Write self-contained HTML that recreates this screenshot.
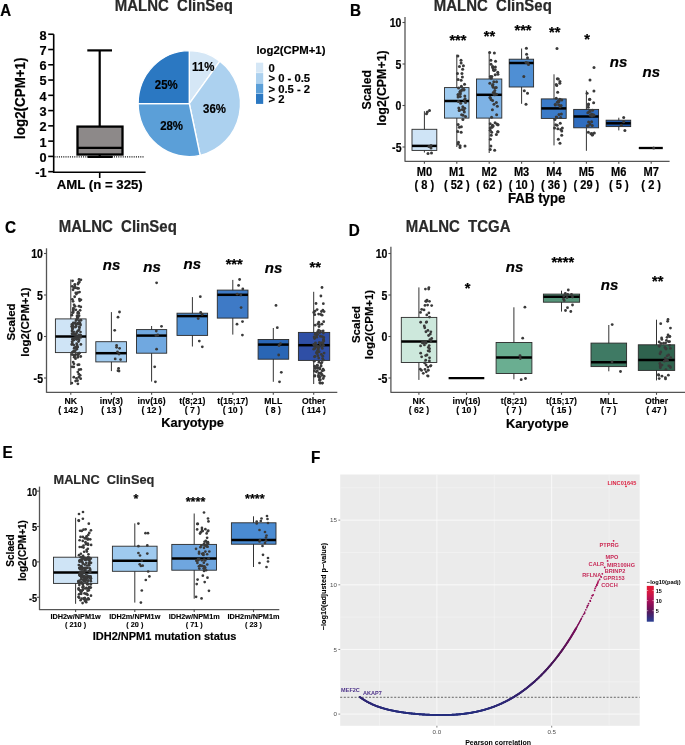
<!DOCTYPE html>
<html><head><meta charset="utf-8"><style>
html,body{margin:0;padding:0;background:#fff;}
svg{display:block;will-change:transform;}
text{font-family:"Liberation Sans", sans-serif;stroke-width:0;}
</style></head><body>
<svg width="685" height="745" viewBox="0 0 685 745">
<rect width="685" height="745" fill="#fff"/>
<text xml:space="preserve" transform="translate(0.20,16.40) scale(0.92,1)" x="0" y="0" font-size="16.3" text-anchor="start" font-weight="bold" font-style="normal" fill="#000" stroke="#000" style="stroke-width:0.244px" >A</text>
<text xml:space="preserve" transform="translate(114.80,10.90) scale(0.93,1)" x="0" y="0" font-size="16.1" text-anchor="start" font-weight="bold" font-style="normal" fill="#2a2a2a" stroke="#2a2a2a" style="stroke-width:0.242px" >MALNC  ClinSeq</text>
<line x1="53.70" y1="34.24" x2="53.70" y2="172.20" stroke="#000" stroke-width="1.6" />
<line x1="48.20" y1="171.67" x2="53.70" y2="171.67" stroke="#000" stroke-width="1.6" />
<text xml:space="preserve" transform="translate(46.50,177.07) scale(0.98,1)" x="0" y="0" font-size="13" text-anchor="end" font-weight="bold" font-style="normal" fill="#000" stroke="#000" style="stroke-width:0.195px" >-1</text>
<line x1="48.20" y1="156.40" x2="53.70" y2="156.40" stroke="#000" stroke-width="1.6" />
<text xml:space="preserve" transform="translate(46.50,161.80) scale(0.98,1)" x="0" y="0" font-size="13" text-anchor="end" font-weight="bold" font-style="normal" fill="#000" stroke="#000" style="stroke-width:0.195px" >0</text>
<line x1="48.20" y1="141.13" x2="53.70" y2="141.13" stroke="#000" stroke-width="1.6" />
<text xml:space="preserve" transform="translate(46.50,146.53) scale(0.98,1)" x="0" y="0" font-size="13" text-anchor="end" font-weight="bold" font-style="normal" fill="#000" stroke="#000" style="stroke-width:0.195px" >1</text>
<line x1="48.20" y1="125.86" x2="53.70" y2="125.86" stroke="#000" stroke-width="1.6" />
<text xml:space="preserve" transform="translate(46.50,131.26) scale(0.98,1)" x="0" y="0" font-size="13" text-anchor="end" font-weight="bold" font-style="normal" fill="#000" stroke="#000" style="stroke-width:0.195px" >2</text>
<line x1="48.20" y1="110.59" x2="53.70" y2="110.59" stroke="#000" stroke-width="1.6" />
<text xml:space="preserve" transform="translate(46.50,115.99) scale(0.98,1)" x="0" y="0" font-size="13" text-anchor="end" font-weight="bold" font-style="normal" fill="#000" stroke="#000" style="stroke-width:0.195px" >3</text>
<line x1="48.20" y1="95.32" x2="53.70" y2="95.32" stroke="#000" stroke-width="1.6" />
<text xml:space="preserve" transform="translate(46.50,100.72) scale(0.98,1)" x="0" y="0" font-size="13" text-anchor="end" font-weight="bold" font-style="normal" fill="#000" stroke="#000" style="stroke-width:0.195px" >4</text>
<line x1="48.20" y1="80.05" x2="53.70" y2="80.05" stroke="#000" stroke-width="1.6" />
<text xml:space="preserve" transform="translate(46.50,85.45) scale(0.98,1)" x="0" y="0" font-size="13" text-anchor="end" font-weight="bold" font-style="normal" fill="#000" stroke="#000" style="stroke-width:0.195px" >5</text>
<line x1="48.20" y1="64.78" x2="53.70" y2="64.78" stroke="#000" stroke-width="1.6" />
<text xml:space="preserve" transform="translate(46.50,70.18) scale(0.98,1)" x="0" y="0" font-size="13" text-anchor="end" font-weight="bold" font-style="normal" fill="#000" stroke="#000" style="stroke-width:0.195px" >6</text>
<line x1="48.20" y1="49.51" x2="53.70" y2="49.51" stroke="#000" stroke-width="1.6" />
<text xml:space="preserve" transform="translate(46.50,54.91) scale(0.98,1)" x="0" y="0" font-size="13" text-anchor="end" font-weight="bold" font-style="normal" fill="#000" stroke="#000" style="stroke-width:0.195px" >7</text>
<line x1="48.20" y1="34.24" x2="53.70" y2="34.24" stroke="#000" stroke-width="1.6" />
<text xml:space="preserve" transform="translate(46.50,39.64) scale(0.98,1)" x="0" y="0" font-size="13" text-anchor="end" font-weight="bold" font-style="normal" fill="#000" stroke="#000" style="stroke-width:0.195px" >8</text>
<text xml:space="preserve" x="0" y="0" transform="translate(25.10,98.20) rotate(-90) scale(0.93,1)" font-size="14.4" text-anchor="middle" font-weight="bold" fill="#000" stroke="#000" style="stroke-width:0.216px">log2(CPM+1)</text>
<line x1="52.90" y1="172.20" x2="145.60" y2="172.20" stroke="#000" stroke-width="1.6" />
<line x1="99.70" y1="172.20" x2="99.70" y2="178.00" stroke="#000" stroke-width="1.6" />
<text xml:space="preserve" transform="translate(99.70,188.90) scale(0.98,1)" x="0" y="0" font-size="13.5" text-anchor="middle" font-weight="bold" font-style="normal" fill="#000" stroke="#000" style="stroke-width:0.202px" >AML (n = 325)</text>
<line x1="54.50" y1="156.90" x2="144.30" y2="156.90" stroke="#000" stroke-width="1.2" stroke-dasharray="1.0,1.2"/>
<line x1="99.70" y1="50.40" x2="99.70" y2="126.60" stroke="#000" stroke-width="2.2" />
<line x1="87.30" y1="50.40" x2="112.00" y2="50.40" stroke="#000" stroke-width="2.2" />
<line x1="99.70" y1="154.50" x2="99.70" y2="156.90" stroke="#000" stroke-width="2.2" />
<line x1="88.40" y1="156.90" x2="111.80" y2="156.90" stroke="#000" stroke-width="2.2" stroke-linecap="round"/>
<rect x="77.50" y="126.60" width="45.00" height="27.90" fill="#8d8989" stroke="#000" stroke-width="2.3"/>
<line x1="77.50" y1="147.80" x2="122.50" y2="147.80" stroke="#000" stroke-width="2.3" />
<path d="M189.3,103.6 L189.30,50.60 A51.2,53.0 0 0 1 219.91,61.12 Z" fill="#d5e7f6" stroke="#fff" stroke-width="1.4"/>
<path d="M189.3,103.6 L219.91,61.12 A51.2,53.0 0 0 1 200.15,155.40 Z" fill="#acd1ef" stroke="#fff" stroke-width="1.4"/>
<path d="M189.3,103.6 L200.15,155.40 A51.2,53.0 0 0 1 138.10,103.60 Z" fill="#5b9fd8" stroke="#fff" stroke-width="1.4"/>
<path d="M189.3,103.6 L138.10,103.60 A51.2,53.0 0 0 1 189.30,50.60 Z" fill="#2b78c2" stroke="#fff" stroke-width="1.4"/>
<text xml:space="preserve" transform="translate(203.20,71.00) scale(0.895,1)" x="0" y="0" font-size="12.8" text-anchor="middle" font-weight="bold" font-style="normal" fill="#000" stroke="#000" style="stroke-width:0.192px" >11%</text>
<text xml:space="preserve" transform="translate(214.50,113.00) scale(0.895,1)" x="0" y="0" font-size="12.8" text-anchor="middle" font-weight="bold" font-style="normal" fill="#000" stroke="#000" style="stroke-width:0.192px" >36%</text>
<text xml:space="preserve" transform="translate(171.60,129.90) scale(0.895,1)" x="0" y="0" font-size="12.8" text-anchor="middle" font-weight="bold" font-style="normal" fill="#000" stroke="#000" style="stroke-width:0.192px" >28%</text>
<text xml:space="preserve" transform="translate(166.30,89.40) scale(0.895,1)" x="0" y="0" font-size="12.8" text-anchor="middle" font-weight="bold" font-style="normal" fill="#000" stroke="#000" style="stroke-width:0.192px" >25%</text>
<text xml:space="preserve" transform="translate(256.40,54.00) scale(1.015,1)" x="0" y="0" font-size="11.2" text-anchor="start" font-weight="bold" font-style="normal" fill="#000" stroke="#000" style="stroke-width:0.168px" >log2(CPM+1)</text>
<rect x="256.00" y="62.70" width="7.20" height="10.00" fill="#d5e7f6" stroke="none" stroke-width="1"/>
<text xml:space="preserve" transform="translate(268.40,72.00) scale(0.97,1)" x="0" y="0" font-size="11.66" text-anchor="start" font-weight="bold" font-style="normal" fill="#000" stroke="#000" style="stroke-width:0.175px" >0</text>
<rect x="256.00" y="73.10" width="7.20" height="10.00" fill="#acd1ef" stroke="none" stroke-width="1"/>
<text xml:space="preserve" transform="translate(268.40,82.40) scale(0.97,1)" x="0" y="0" font-size="11.66" text-anchor="start" font-weight="bold" font-style="normal" fill="#000" stroke="#000" style="stroke-width:0.175px" >&gt; 0 - 0.5</text>
<rect x="256.00" y="83.50" width="7.20" height="10.00" fill="#5b9fd8" stroke="none" stroke-width="1"/>
<text xml:space="preserve" transform="translate(268.40,92.80) scale(0.97,1)" x="0" y="0" font-size="11.66" text-anchor="start" font-weight="bold" font-style="normal" fill="#000" stroke="#000" style="stroke-width:0.175px" >&gt; 0.5 - 2</text>
<rect x="256.00" y="93.90" width="7.20" height="10.00" fill="#2b78c2" stroke="none" stroke-width="1"/>
<text xml:space="preserve" transform="translate(268.40,103.20) scale(0.97,1)" x="0" y="0" font-size="11.66" text-anchor="start" font-weight="bold" font-style="normal" fill="#000" stroke="#000" style="stroke-width:0.175px" >&gt; 2</text>
<text xml:space="preserve" transform="translate(349.90,16.30) scale(0.92,1)" x="0" y="0" font-size="16.6" text-anchor="start" font-weight="bold" font-style="normal" fill="#000" stroke="#000" style="stroke-width:0.249px" >B</text>
<text xml:space="preserve" transform="translate(433.80,11.20) scale(0.93,1)" x="0" y="0" font-size="16.1" text-anchor="start" font-weight="bold" font-style="normal" fill="#2a2a2a" stroke="#2a2a2a" style="stroke-width:0.242px" >MALNC  ClinSeq</text>
<text xml:space="preserve" x="0" y="0" transform="translate(371.30,89.80) rotate(-90) scale(1.0,1)" font-size="12.2" text-anchor="middle" font-weight="bold" fill="#000" stroke="#000" style="stroke-width:0.183px">Scaled</text>
<text xml:space="preserve" x="0" y="0" transform="translate(386.00,88.00) rotate(-90) scale(1.0,1)" font-size="12.4" text-anchor="middle" font-weight="bold" fill="#000" stroke="#000" style="stroke-width:0.186px">log2(CPM+1)</text>
<line x1="405.00" y1="16.90" x2="405.00" y2="161.80" stroke="#555" stroke-width="1.3" />
<line x1="405.00" y1="161.30" x2="669.60" y2="161.30" stroke="#555" stroke-width="1.3" />
<line x1="402.50" y1="22.50" x2="405.00" y2="22.50" stroke="#4d4d4d" stroke-width="1.1" />
<text xml:space="preserve" transform="translate(401.50,27.02) scale(0.88,1)" x="0" y="0" font-size="12.0" text-anchor="end" font-weight="bold" font-style="normal" fill="#000" stroke="#000" style="stroke-width:0.180px" >10</text>
<line x1="402.50" y1="64.00" x2="405.00" y2="64.00" stroke="#4d4d4d" stroke-width="1.1" />
<text xml:space="preserve" transform="translate(401.50,68.52) scale(0.88,1)" x="0" y="0" font-size="12.0" text-anchor="end" font-weight="bold" font-style="normal" fill="#000" stroke="#000" style="stroke-width:0.180px" >5</text>
<line x1="402.50" y1="105.50" x2="405.00" y2="105.50" stroke="#4d4d4d" stroke-width="1.1" />
<text xml:space="preserve" transform="translate(401.50,110.02) scale(0.88,1)" x="0" y="0" font-size="12.0" text-anchor="end" font-weight="bold" font-style="normal" fill="#000" stroke="#000" style="stroke-width:0.180px" >0</text>
<line x1="402.50" y1="147.00" x2="405.00" y2="147.00" stroke="#4d4d4d" stroke-width="1.1" />
<text xml:space="preserve" transform="translate(401.50,151.52) scale(0.88,1)" x="0" y="0" font-size="12.0" text-anchor="end" font-weight="bold" font-style="normal" fill="#000" stroke="#000" style="stroke-width:0.180px" >-5</text>
<line x1="424.40" y1="161.30" x2="424.40" y2="163.80" stroke="#4d4d4d" stroke-width="1.1" />
<line x1="424.40" y1="111.20" x2="424.40" y2="152.50" stroke="#333" stroke-width="1" />
<rect x="412.00" y="129.30" width="24.80" height="21.10" fill="#cfe4f6" stroke="#2a2a2a" stroke-width="0.9"/>
<line x1="412.00" y1="145.90" x2="436.80" y2="145.90" stroke="#000" stroke-width="2.5" />
<circle cx="427.30" cy="112.10" r="1.5" fill="#3a3a3a"/>
<circle cx="429.50" cy="110.50" r="1.5" fill="#3a3a3a"/>
<circle cx="426.50" cy="113.80" r="1.5" fill="#3a3a3a"/>
<circle cx="431.00" cy="145.50" r="1.5" fill="#3a3a3a"/>
<circle cx="431.00" cy="148.00" r="1.5" fill="#3a3a3a"/>
<circle cx="429.00" cy="146.50" r="1.5" fill="#3a3a3a"/>
<circle cx="428.00" cy="153.50" r="1.5" fill="#3a3a3a"/>
<circle cx="431.50" cy="153.00" r="1.5" fill="#3a3a3a"/>
<text xml:space="preserve" transform="translate(424.40,175.70) scale(0.93,1)" x="0" y="0" font-size="11.9" text-anchor="middle" font-weight="bold" font-style="normal" fill="#000" stroke="#000" style="stroke-width:0.178px" >M0</text>
<text xml:space="preserve" transform="translate(424.40,188.60) scale(0.93,1)" x="0" y="0" font-size="11.9" text-anchor="middle" font-weight="bold" font-style="normal" fill="#000" stroke="#000" style="stroke-width:0.178px" >( 8 )</text>
<line x1="456.80" y1="161.30" x2="456.80" y2="163.80" stroke="#4d4d4d" stroke-width="1.1" />
<line x1="456.80" y1="54.60" x2="456.80" y2="147.00" stroke="#333" stroke-width="1" />
<rect x="444.50" y="87.60" width="24.50" height="30.50" fill="#9fcbf0" stroke="#2a2a2a" stroke-width="0.9"/>
<line x1="444.50" y1="101.00" x2="469.00" y2="101.00" stroke="#000" stroke-width="2.5" />
<circle cx="465.08" cy="98.83" r="1.5" fill="#3a3a3a"/>
<circle cx="458.15" cy="124.61" r="1.5" fill="#3a3a3a"/>
<circle cx="460.27" cy="96.41" r="1.5" fill="#3a3a3a"/>
<circle cx="464.69" cy="108.37" r="1.5" fill="#3a3a3a"/>
<circle cx="462.80" cy="106.86" r="1.5" fill="#3a3a3a"/>
<circle cx="458.11" cy="143.88" r="1.5" fill="#3a3a3a"/>
<circle cx="458.05" cy="96.98" r="1.5" fill="#3a3a3a"/>
<circle cx="458.08" cy="79.41" r="1.5" fill="#3a3a3a"/>
<circle cx="461.61" cy="114.73" r="1.5" fill="#3a3a3a"/>
<circle cx="457.77" cy="131.54" r="1.5" fill="#3a3a3a"/>
<circle cx="465.56" cy="116.58" r="1.5" fill="#3a3a3a"/>
<circle cx="463.38" cy="65.71" r="1.5" fill="#3a3a3a"/>
<circle cx="459.36" cy="127.14" r="1.5" fill="#3a3a3a"/>
<circle cx="459.76" cy="92.04" r="1.5" fill="#3a3a3a"/>
<circle cx="460.69" cy="103.27" r="1.5" fill="#3a3a3a"/>
<circle cx="461.40" cy="86.28" r="1.5" fill="#3a3a3a"/>
<circle cx="464.00" cy="89.50" r="1.5" fill="#3a3a3a"/>
<circle cx="464.31" cy="112.07" r="1.5" fill="#3a3a3a"/>
<circle cx="462.23" cy="109.54" r="1.5" fill="#3a3a3a"/>
<circle cx="465.03" cy="146.01" r="1.5" fill="#3a3a3a"/>
<circle cx="459.48" cy="109.98" r="1.5" fill="#3a3a3a"/>
<circle cx="461.17" cy="132.28" r="1.5" fill="#3a3a3a"/>
<circle cx="458.41" cy="142.36" r="1.5" fill="#3a3a3a"/>
<circle cx="462.89" cy="119.62" r="1.5" fill="#3a3a3a"/>
<circle cx="460.67" cy="90.82" r="1.5" fill="#3a3a3a"/>
<circle cx="460.99" cy="91.27" r="1.5" fill="#3a3a3a"/>
<circle cx="463.08" cy="115.29" r="1.5" fill="#3a3a3a"/>
<circle cx="464.83" cy="96.00" r="1.5" fill="#3a3a3a"/>
<circle cx="463.79" cy="90.01" r="1.5" fill="#3a3a3a"/>
<circle cx="462.35" cy="89.58" r="1.5" fill="#3a3a3a"/>
<circle cx="461.37" cy="126.85" r="1.5" fill="#3a3a3a"/>
<circle cx="458.84" cy="108.08" r="1.5" fill="#3a3a3a"/>
<circle cx="458.54" cy="87.91" r="1.5" fill="#3a3a3a"/>
<circle cx="463.83" cy="110.10" r="1.5" fill="#3a3a3a"/>
<circle cx="458.44" cy="101.62" r="1.5" fill="#3a3a3a"/>
<circle cx="464.54" cy="84.31" r="1.5" fill="#3a3a3a"/>
<circle cx="461.00" cy="60.25" r="1.5" fill="#3a3a3a"/>
<circle cx="457.47" cy="73.58" r="1.5" fill="#3a3a3a"/>
<circle cx="457.86" cy="55.94" r="1.5" fill="#3a3a3a"/>
<circle cx="461.93" cy="73.52" r="1.5" fill="#3a3a3a"/>
<circle cx="461.12" cy="62.99" r="1.5" fill="#3a3a3a"/>
<circle cx="464.30" cy="99.91" r="1.5" fill="#3a3a3a"/>
<circle cx="459.18" cy="110.41" r="1.5" fill="#3a3a3a"/>
<circle cx="458.17" cy="94.97" r="1.5" fill="#3a3a3a"/>
<circle cx="462.64" cy="69.37" r="1.5" fill="#3a3a3a"/>
<circle cx="462.38" cy="77.10" r="1.5" fill="#3a3a3a"/>
<circle cx="465.52" cy="102.46" r="1.5" fill="#3a3a3a"/>
<circle cx="459.45" cy="66.43" r="1.5" fill="#3a3a3a"/>
<circle cx="460.08" cy="145.65" r="1.5" fill="#3a3a3a"/>
<circle cx="458.08" cy="94.39" r="1.5" fill="#3a3a3a"/>
<circle cx="460.40" cy="93.70" r="1.5" fill="#3a3a3a"/>
<circle cx="461.14" cy="80.27" r="1.5" fill="#3a3a3a"/>
<circle cx="460.00" cy="147.50" r="1.5" fill="#3a3a3a"/>
<text xml:space="preserve" x="457.90" y="44.60" font-size="14.6" text-anchor="middle" font-weight="bold" font-style="normal" fill="#000" stroke="#000" style="stroke-width:0.219px" >***</text>
<text xml:space="preserve" transform="translate(456.80,175.70) scale(0.93,1)" x="0" y="0" font-size="11.9" text-anchor="middle" font-weight="bold" font-style="normal" fill="#000" stroke="#000" style="stroke-width:0.178px" >M1</text>
<text xml:space="preserve" transform="translate(456.80,188.60) scale(0.93,1)" x="0" y="0" font-size="11.9" text-anchor="middle" font-weight="bold" font-style="normal" fill="#000" stroke="#000" style="stroke-width:0.178px" >( 52 )</text>
<line x1="489.20" y1="161.30" x2="489.20" y2="163.80" stroke="#4d4d4d" stroke-width="1.1" />
<line x1="489.20" y1="51.60" x2="489.20" y2="153.00" stroke="#333" stroke-width="1" />
<rect x="476.50" y="79.00" width="25.30" height="39.10" fill="#7db2e5" stroke="#2a2a2a" stroke-width="0.9"/>
<line x1="476.50" y1="94.80" x2="501.80" y2="94.80" stroke="#000" stroke-width="2.5" />
<circle cx="496.40" cy="134.52" r="1.5" fill="#3a3a3a"/>
<circle cx="490.87" cy="60.20" r="1.5" fill="#3a3a3a"/>
<circle cx="490.24" cy="123.64" r="1.5" fill="#3a3a3a"/>
<circle cx="497.32" cy="106.16" r="1.5" fill="#3a3a3a"/>
<circle cx="492.69" cy="66.52" r="1.5" fill="#3a3a3a"/>
<circle cx="492.96" cy="68.01" r="1.5" fill="#3a3a3a"/>
<circle cx="496.27" cy="87.38" r="1.5" fill="#3a3a3a"/>
<circle cx="490.20" cy="127.90" r="1.5" fill="#3a3a3a"/>
<circle cx="492.95" cy="84.62" r="1.5" fill="#3a3a3a"/>
<circle cx="490.87" cy="145.91" r="1.5" fill="#3a3a3a"/>
<circle cx="496.40" cy="102.59" r="1.5" fill="#3a3a3a"/>
<circle cx="497.96" cy="74.36" r="1.5" fill="#3a3a3a"/>
<circle cx="495.35" cy="67.02" r="1.5" fill="#3a3a3a"/>
<circle cx="495.13" cy="87.70" r="1.5" fill="#3a3a3a"/>
<circle cx="495.21" cy="74.84" r="1.5" fill="#3a3a3a"/>
<circle cx="492.46" cy="85.58" r="1.5" fill="#3a3a3a"/>
<circle cx="493.22" cy="87.17" r="1.5" fill="#3a3a3a"/>
<circle cx="496.65" cy="114.63" r="1.5" fill="#3a3a3a"/>
<circle cx="494.67" cy="150.14" r="1.5" fill="#3a3a3a"/>
<circle cx="493.33" cy="92.40" r="1.5" fill="#3a3a3a"/>
<circle cx="490.22" cy="149.53" r="1.5" fill="#3a3a3a"/>
<circle cx="494.15" cy="70.58" r="1.5" fill="#3a3a3a"/>
<circle cx="495.22" cy="69.81" r="1.5" fill="#3a3a3a"/>
<circle cx="492.26" cy="127.12" r="1.5" fill="#3a3a3a"/>
<circle cx="491.21" cy="78.33" r="1.5" fill="#3a3a3a"/>
<circle cx="491.03" cy="64.27" r="1.5" fill="#3a3a3a"/>
<circle cx="493.36" cy="69.95" r="1.5" fill="#3a3a3a"/>
<circle cx="497.73" cy="72.23" r="1.5" fill="#3a3a3a"/>
<circle cx="490.39" cy="139.24" r="1.5" fill="#3a3a3a"/>
<circle cx="490.23" cy="130.29" r="1.5" fill="#3a3a3a"/>
<circle cx="497.64" cy="131.69" r="1.5" fill="#3a3a3a"/>
<circle cx="490.38" cy="76.47" r="1.5" fill="#3a3a3a"/>
<circle cx="489.84" cy="83.29" r="1.5" fill="#3a3a3a"/>
<circle cx="494.70" cy="94.75" r="1.5" fill="#3a3a3a"/>
<circle cx="492.46" cy="125.37" r="1.5" fill="#3a3a3a"/>
<circle cx="494.36" cy="53.07" r="1.5" fill="#3a3a3a"/>
<circle cx="489.70" cy="52.49" r="1.5" fill="#3a3a3a"/>
<circle cx="494.68" cy="93.13" r="1.5" fill="#3a3a3a"/>
<circle cx="492.41" cy="109.65" r="1.5" fill="#3a3a3a"/>
<circle cx="493.17" cy="125.90" r="1.5" fill="#3a3a3a"/>
<circle cx="492.56" cy="100.38" r="1.5" fill="#3a3a3a"/>
<circle cx="498.07" cy="131.80" r="1.5" fill="#3a3a3a"/>
<circle cx="496.85" cy="124.10" r="1.5" fill="#3a3a3a"/>
<circle cx="491.64" cy="127.20" r="1.5" fill="#3a3a3a"/>
<circle cx="498.07" cy="124.72" r="1.5" fill="#3a3a3a"/>
<circle cx="491.86" cy="76.52" r="1.5" fill="#3a3a3a"/>
<circle cx="495.56" cy="61.13" r="1.5" fill="#3a3a3a"/>
<circle cx="496.50" cy="94.17" r="1.5" fill="#3a3a3a"/>
<circle cx="493.98" cy="104.34" r="1.5" fill="#3a3a3a"/>
<circle cx="496.55" cy="81.70" r="1.5" fill="#3a3a3a"/>
<circle cx="491.59" cy="117.31" r="1.5" fill="#3a3a3a"/>
<circle cx="495.08" cy="122.65" r="1.5" fill="#3a3a3a"/>
<circle cx="494.03" cy="94.14" r="1.5" fill="#3a3a3a"/>
<circle cx="490.30" cy="97.74" r="1.5" fill="#3a3a3a"/>
<circle cx="493.81" cy="81.82" r="1.5" fill="#3a3a3a"/>
<circle cx="491.68" cy="132.23" r="1.5" fill="#3a3a3a"/>
<circle cx="491.07" cy="99.62" r="1.5" fill="#3a3a3a"/>
<circle cx="497.73" cy="124.75" r="1.5" fill="#3a3a3a"/>
<circle cx="494.79" cy="90.45" r="1.5" fill="#3a3a3a"/>
<circle cx="489.93" cy="97.57" r="1.5" fill="#3a3a3a"/>
<circle cx="491.24" cy="135.19" r="1.5" fill="#3a3a3a"/>
<circle cx="492.73" cy="67.05" r="1.5" fill="#3a3a3a"/>
<text xml:space="preserve" x="489.50" y="40.60" font-size="14.6" text-anchor="middle" font-weight="bold" font-style="normal" fill="#000" stroke="#000" style="stroke-width:0.219px" >**</text>
<text xml:space="preserve" transform="translate(489.20,175.70) scale(0.93,1)" x="0" y="0" font-size="11.9" text-anchor="middle" font-weight="bold" font-style="normal" fill="#000" stroke="#000" style="stroke-width:0.178px" >M2</text>
<text xml:space="preserve" transform="translate(489.20,188.60) scale(0.93,1)" x="0" y="0" font-size="11.9" text-anchor="middle" font-weight="bold" font-style="normal" fill="#000" stroke="#000" style="stroke-width:0.178px" >( 62 )</text>
<line x1="521.60" y1="161.30" x2="521.60" y2="163.80" stroke="#4d4d4d" stroke-width="1.1" />
<line x1="521.60" y1="48.50" x2="521.60" y2="103.80" stroke="#333" stroke-width="1" />
<rect x="509.20" y="59.20" width="24.40" height="27.80" fill="#4f8fd4" stroke="#2a2a2a" stroke-width="0.9"/>
<line x1="509.20" y1="63.00" x2="533.60" y2="63.00" stroke="#000" stroke-width="2.5" />
<circle cx="526.40" cy="48.30" r="1.5" fill="#3a3a3a"/>
<circle cx="526.60" cy="54.20" r="1.5" fill="#3a3a3a"/>
<circle cx="527.50" cy="57.80" r="1.5" fill="#3a3a3a"/>
<circle cx="527.80" cy="63.00" r="1.5" fill="#3a3a3a"/>
<circle cx="528.50" cy="64.50" r="1.5" fill="#3a3a3a"/>
<circle cx="526.00" cy="62.50" r="1.5" fill="#3a3a3a"/>
<circle cx="523.80" cy="76.60" r="1.5" fill="#3a3a3a"/>
<circle cx="524.30" cy="90.80" r="1.5" fill="#3a3a3a"/>
<circle cx="527.50" cy="93.20" r="1.5" fill="#3a3a3a"/>
<circle cx="526.00" cy="104.20" r="1.5" fill="#3a3a3a"/>
<text xml:space="preserve" x="523.00" y="35.10" font-size="14.6" text-anchor="middle" font-weight="bold" font-style="normal" fill="#000" stroke="#000" style="stroke-width:0.219px" >***</text>
<text xml:space="preserve" transform="translate(521.60,175.70) scale(0.93,1)" x="0" y="0" font-size="11.9" text-anchor="middle" font-weight="bold" font-style="normal" fill="#000" stroke="#000" style="stroke-width:0.178px" >M3</text>
<text xml:space="preserve" transform="translate(521.60,188.60) scale(0.93,1)" x="0" y="0" font-size="11.9" text-anchor="middle" font-weight="bold" font-style="normal" fill="#000" stroke="#000" style="stroke-width:0.178px" >( 10 )</text>
<line x1="554.00" y1="161.30" x2="554.00" y2="163.80" stroke="#4d4d4d" stroke-width="1.1" />
<line x1="554.00" y1="74.30" x2="554.00" y2="145.40" stroke="#333" stroke-width="1" />
<rect x="541.30" y="98.90" width="24.90" height="19.50" fill="#3b7bc8" stroke="#2a2a2a" stroke-width="0.9"/>
<line x1="541.30" y1="108.40" x2="566.20" y2="108.40" stroke="#000" stroke-width="2.5" />
<circle cx="562.34" cy="128.10" r="1.5" fill="#3a3a3a"/>
<circle cx="561.37" cy="113.96" r="1.5" fill="#3a3a3a"/>
<circle cx="560.07" cy="106.72" r="1.5" fill="#3a3a3a"/>
<circle cx="561.73" cy="100.03" r="1.5" fill="#3a3a3a"/>
<circle cx="554.96" cy="119.44" r="1.5" fill="#3a3a3a"/>
<circle cx="560.65" cy="117.43" r="1.5" fill="#3a3a3a"/>
<circle cx="557.66" cy="92.23" r="1.5" fill="#3a3a3a"/>
<circle cx="557.83" cy="128.79" r="1.5" fill="#3a3a3a"/>
<circle cx="558.33" cy="78.95" r="1.5" fill="#3a3a3a"/>
<circle cx="561.69" cy="135.21" r="1.5" fill="#3a3a3a"/>
<circle cx="557.16" cy="125.21" r="1.5" fill="#3a3a3a"/>
<circle cx="559.84" cy="83.37" r="1.5" fill="#3a3a3a"/>
<circle cx="558.46" cy="101.21" r="1.5" fill="#3a3a3a"/>
<circle cx="558.99" cy="114.41" r="1.5" fill="#3a3a3a"/>
<circle cx="555.21" cy="104.47" r="1.5" fill="#3a3a3a"/>
<circle cx="561.77" cy="130.89" r="1.5" fill="#3a3a3a"/>
<circle cx="558.91" cy="101.53" r="1.5" fill="#3a3a3a"/>
<circle cx="556.22" cy="84.58" r="1.5" fill="#3a3a3a"/>
<circle cx="560.82" cy="129.58" r="1.5" fill="#3a3a3a"/>
<circle cx="559.84" cy="99.35" r="1.5" fill="#3a3a3a"/>
<circle cx="561.15" cy="105.55" r="1.5" fill="#3a3a3a"/>
<circle cx="557.29" cy="102.25" r="1.5" fill="#3a3a3a"/>
<circle cx="556.28" cy="98.26" r="1.5" fill="#3a3a3a"/>
<circle cx="555.73" cy="124.77" r="1.5" fill="#3a3a3a"/>
<circle cx="557.34" cy="78.79" r="1.5" fill="#3a3a3a"/>
<circle cx="555.31" cy="104.94" r="1.5" fill="#3a3a3a"/>
<circle cx="558.63" cy="104.80" r="1.5" fill="#3a3a3a"/>
<circle cx="558.47" cy="101.43" r="1.5" fill="#3a3a3a"/>
<circle cx="558.35" cy="139.26" r="1.5" fill="#3a3a3a"/>
<circle cx="556.24" cy="116.96" r="1.5" fill="#3a3a3a"/>
<circle cx="559.99" cy="143.18" r="1.5" fill="#3a3a3a"/>
<circle cx="554.56" cy="127.93" r="1.5" fill="#3a3a3a"/>
<circle cx="556.80" cy="117.54" r="1.5" fill="#3a3a3a"/>
<circle cx="556.74" cy="85.53" r="1.5" fill="#3a3a3a"/>
<circle cx="560.26" cy="123.16" r="1.5" fill="#3a3a3a"/>
<circle cx="559.91" cy="81.51" r="1.5" fill="#3a3a3a"/>
<circle cx="557.00" cy="48.50" r="1.5" fill="#3a3a3a"/>
<text xml:space="preserve" x="554.80" y="36.60" font-size="14.6" text-anchor="middle" font-weight="bold" font-style="normal" fill="#000" stroke="#000" style="stroke-width:0.219px" >**</text>
<text xml:space="preserve" transform="translate(554.00,175.70) scale(0.93,1)" x="0" y="0" font-size="11.9" text-anchor="middle" font-weight="bold" font-style="normal" fill="#000" stroke="#000" style="stroke-width:0.178px" >M4</text>
<text xml:space="preserve" transform="translate(554.00,188.60) scale(0.93,1)" x="0" y="0" font-size="11.9" text-anchor="middle" font-weight="bold" font-style="normal" fill="#000" stroke="#000" style="stroke-width:0.178px" >( 36 )</text>
<line x1="586.40" y1="161.30" x2="586.40" y2="163.80" stroke="#4d4d4d" stroke-width="1.1" />
<line x1="586.40" y1="90.50" x2="586.40" y2="150.80" stroke="#333" stroke-width="1" />
<rect x="573.70" y="109.40" width="24.90" height="18.40" fill="#2f6dbf" stroke="#2a2a2a" stroke-width="0.9"/>
<line x1="573.70" y1="116.50" x2="598.60" y2="116.50" stroke="#000" stroke-width="2.5" />
<circle cx="593.91" cy="91.01" r="1.5" fill="#3a3a3a"/>
<circle cx="588.22" cy="125.68" r="1.5" fill="#3a3a3a"/>
<circle cx="587.08" cy="93.30" r="1.5" fill="#3a3a3a"/>
<circle cx="589.04" cy="112.09" r="1.5" fill="#3a3a3a"/>
<circle cx="592.22" cy="135.04" r="1.5" fill="#3a3a3a"/>
<circle cx="589.48" cy="99.40" r="1.5" fill="#3a3a3a"/>
<circle cx="587.82" cy="112.84" r="1.5" fill="#3a3a3a"/>
<circle cx="589.76" cy="99.34" r="1.5" fill="#3a3a3a"/>
<circle cx="594.34" cy="132.97" r="1.5" fill="#3a3a3a"/>
<circle cx="588.52" cy="104.05" r="1.5" fill="#3a3a3a"/>
<circle cx="592.59" cy="134.83" r="1.5" fill="#3a3a3a"/>
<circle cx="590.23" cy="115.17" r="1.5" fill="#3a3a3a"/>
<circle cx="591.62" cy="114.09" r="1.5" fill="#3a3a3a"/>
<circle cx="589.88" cy="124.14" r="1.5" fill="#3a3a3a"/>
<circle cx="591.79" cy="133.58" r="1.5" fill="#3a3a3a"/>
<circle cx="593.64" cy="102.83" r="1.5" fill="#3a3a3a"/>
<circle cx="588.38" cy="104.74" r="1.5" fill="#3a3a3a"/>
<circle cx="588.26" cy="107.19" r="1.5" fill="#3a3a3a"/>
<circle cx="591.60" cy="121.67" r="1.5" fill="#3a3a3a"/>
<circle cx="592.28" cy="125.60" r="1.5" fill="#3a3a3a"/>
<circle cx="587.27" cy="125.85" r="1.5" fill="#3a3a3a"/>
<circle cx="589.87" cy="111.23" r="1.5" fill="#3a3a3a"/>
<circle cx="588.37" cy="132.23" r="1.5" fill="#3a3a3a"/>
<circle cx="594.06" cy="115.33" r="1.5" fill="#3a3a3a"/>
<circle cx="590.90" cy="133.65" r="1.5" fill="#3a3a3a"/>
<circle cx="591.97" cy="115.88" r="1.5" fill="#3a3a3a"/>
<circle cx="592.60" cy="110.32" r="1.5" fill="#3a3a3a"/>
<circle cx="593.43" cy="114.79" r="1.5" fill="#3a3a3a"/>
<circle cx="588.62" cy="122.00" r="1.5" fill="#3a3a3a"/>
<circle cx="594.00" cy="67.50" r="1.5" fill="#3a3a3a"/>
<circle cx="590.00" cy="80.00" r="1.5" fill="#3a3a3a"/>
<text xml:space="preserve" x="587.00" y="43.60" font-size="14.6" text-anchor="middle" font-weight="bold" font-style="normal" fill="#000" stroke="#000" style="stroke-width:0.219px" >*</text>
<text xml:space="preserve" transform="translate(586.40,175.70) scale(0.93,1)" x="0" y="0" font-size="11.9" text-anchor="middle" font-weight="bold" font-style="normal" fill="#000" stroke="#000" style="stroke-width:0.178px" >M5</text>
<text xml:space="preserve" transform="translate(586.40,188.60) scale(0.93,1)" x="0" y="0" font-size="11.9" text-anchor="middle" font-weight="bold" font-style="normal" fill="#000" stroke="#000" style="stroke-width:0.178px" >( 29 )</text>
<line x1="618.80" y1="161.30" x2="618.80" y2="163.80" stroke="#4d4d4d" stroke-width="1.1" />
<line x1="618.80" y1="117.70" x2="618.80" y2="130.40" stroke="#333" stroke-width="1" />
<rect x="606.10" y="120.20" width="24.60" height="6.40" fill="#1f58a8" stroke="#2a2a2a" stroke-width="0.9"/>
<line x1="606.10" y1="123.30" x2="630.70" y2="123.30" stroke="#000" stroke-width="2.5" />
<circle cx="623.70" cy="117.50" r="1.5" fill="#3a3a3a"/>
<circle cx="623.70" cy="121.80" r="1.5" fill="#3a3a3a"/>
<circle cx="621.30" cy="125.30" r="1.5" fill="#3a3a3a"/>
<circle cx="624.90" cy="130.40" r="1.5" fill="#3a3a3a"/>
<text xml:space="preserve" x="618.50" y="66.60" font-size="15" text-anchor="middle" font-weight="bold" font-style="italic" fill="#000" stroke="#000" style="stroke-width:0.225px" >ns</text>
<text xml:space="preserve" transform="translate(618.80,175.70) scale(0.93,1)" x="0" y="0" font-size="11.9" text-anchor="middle" font-weight="bold" font-style="normal" fill="#000" stroke="#000" style="stroke-width:0.178px" >M6</text>
<text xml:space="preserve" transform="translate(618.80,188.60) scale(0.93,1)" x="0" y="0" font-size="11.9" text-anchor="middle" font-weight="bold" font-style="normal" fill="#000" stroke="#000" style="stroke-width:0.178px" >( 5 )</text>
<line x1="651.20" y1="161.30" x2="651.20" y2="163.80" stroke="#4d4d4d" stroke-width="1.1" />
<line x1="638.80" y1="148.00" x2="662.80" y2="148.00" stroke="#000" stroke-width="2.3" />
<circle cx="653.70" cy="148.00" r="1.5" fill="#3a3a3a"/>
<text xml:space="preserve" x="651.30" y="76.60" font-size="15" text-anchor="middle" font-weight="bold" font-style="italic" fill="#000" stroke="#000" style="stroke-width:0.225px" >ns</text>
<text xml:space="preserve" transform="translate(651.20,175.70) scale(0.93,1)" x="0" y="0" font-size="11.9" text-anchor="middle" font-weight="bold" font-style="normal" fill="#000" stroke="#000" style="stroke-width:0.178px" >M7</text>
<text xml:space="preserve" transform="translate(651.20,188.60) scale(0.93,1)" x="0" y="0" font-size="11.9" text-anchor="middle" font-weight="bold" font-style="normal" fill="#000" stroke="#000" style="stroke-width:0.178px" >( 2 )</text>
<text xml:space="preserve" transform="translate(508.00,203.00) scale(0.96,1)" x="0" y="0" font-size="13.8" text-anchor="start" font-weight="bold" font-style="normal" fill="#000" stroke="#000" style="stroke-width:0.207px" >FAB type</text>
<text xml:space="preserve" transform="translate(5.10,232.80) scale(0.92,1)" x="0" y="0" font-size="16.6" text-anchor="start" font-weight="bold" font-style="normal" fill="#000" stroke="#000" style="stroke-width:0.249px" >C</text>
<text xml:space="preserve" transform="translate(58.80,231.90) scale(0.93,1)" x="0" y="0" font-size="16.1" text-anchor="start" font-weight="bold" font-style="normal" fill="#2a2a2a" stroke="#2a2a2a" style="stroke-width:0.242px" >MALNC  ClinSeq</text>
<text xml:space="preserve" x="0" y="0" transform="translate(15.00,322.00) rotate(-90) scale(1.0,1)" font-size="11.55" text-anchor="middle" font-weight="bold" fill="#000" stroke="#000" style="stroke-width:0.173px">Scaled</text>
<text xml:space="preserve" x="0" y="0" transform="translate(28.60,322.00) rotate(-90) scale(1.0,1)" font-size="11.4" text-anchor="middle" font-weight="bold" fill="#000" stroke="#000" style="stroke-width:0.171px">log2(CPM+1)</text>
<line x1="46.50" y1="248.30" x2="46.50" y2="392.80" stroke="#555" stroke-width="1.3" />
<line x1="46.50" y1="392.30" x2="337.30" y2="392.30" stroke="#555" stroke-width="1.3" />
<line x1="44.00" y1="253.50" x2="46.50" y2="253.50" stroke="#4d4d4d" stroke-width="1.1" />
<text xml:space="preserve" transform="translate(43.00,258.02) scale(0.88,1)" x="0" y="0" font-size="12.0" text-anchor="end" font-weight="bold" font-style="normal" fill="#000" stroke="#000" style="stroke-width:0.180px" >10</text>
<line x1="44.00" y1="295.00" x2="46.50" y2="295.00" stroke="#4d4d4d" stroke-width="1.1" />
<text xml:space="preserve" transform="translate(43.00,299.52) scale(0.88,1)" x="0" y="0" font-size="12.0" text-anchor="end" font-weight="bold" font-style="normal" fill="#000" stroke="#000" style="stroke-width:0.180px" >5</text>
<line x1="44.00" y1="336.50" x2="46.50" y2="336.50" stroke="#4d4d4d" stroke-width="1.1" />
<text xml:space="preserve" transform="translate(43.00,341.02) scale(0.88,1)" x="0" y="0" font-size="12.0" text-anchor="end" font-weight="bold" font-style="normal" fill="#000" stroke="#000" style="stroke-width:0.180px" >0</text>
<line x1="44.00" y1="378.00" x2="46.50" y2="378.00" stroke="#4d4d4d" stroke-width="1.1" />
<text xml:space="preserve" transform="translate(43.00,382.52) scale(0.88,1)" x="0" y="0" font-size="12.0" text-anchor="end" font-weight="bold" font-style="normal" fill="#000" stroke="#000" style="stroke-width:0.180px" >-5</text>
<line x1="70.80" y1="392.30" x2="70.80" y2="394.80" stroke="#4d4d4d" stroke-width="1.1" />
<line x1="70.80" y1="279.50" x2="70.80" y2="385.00" stroke="#333" stroke-width="1" />
<rect x="55.40" y="318.90" width="30.70" height="33.70" fill="#cfe4f6" stroke="#2a2a2a" stroke-width="0.9"/>
<line x1="55.40" y1="336.50" x2="86.10" y2="336.50" stroke="#000" stroke-width="2.5" />
<circle cx="80.18" cy="375.36" r="1.4" fill="#3a3a3a"/>
<circle cx="72.58" cy="280.85" r="1.4" fill="#3a3a3a"/>
<circle cx="73.28" cy="322.98" r="1.4" fill="#3a3a3a"/>
<circle cx="78.01" cy="317.41" r="1.4" fill="#3a3a3a"/>
<circle cx="79.02" cy="369.65" r="1.4" fill="#3a3a3a"/>
<circle cx="77.83" cy="364.78" r="1.4" fill="#3a3a3a"/>
<circle cx="72.06" cy="331.01" r="1.4" fill="#3a3a3a"/>
<circle cx="72.70" cy="339.22" r="1.4" fill="#3a3a3a"/>
<circle cx="74.51" cy="355.31" r="1.4" fill="#3a3a3a"/>
<circle cx="78.52" cy="341.55" r="1.4" fill="#3a3a3a"/>
<circle cx="73.43" cy="308.26" r="1.4" fill="#3a3a3a"/>
<circle cx="77.98" cy="312.24" r="1.4" fill="#3a3a3a"/>
<circle cx="72.21" cy="341.54" r="1.4" fill="#3a3a3a"/>
<circle cx="77.01" cy="315.91" r="1.4" fill="#3a3a3a"/>
<circle cx="79.42" cy="282.05" r="1.4" fill="#3a3a3a"/>
<circle cx="79.05" cy="339.98" r="1.4" fill="#3a3a3a"/>
<circle cx="75.17" cy="287.87" r="1.4" fill="#3a3a3a"/>
<circle cx="80.73" cy="335.05" r="1.4" fill="#3a3a3a"/>
<circle cx="75.45" cy="347.21" r="1.4" fill="#3a3a3a"/>
<circle cx="72.47" cy="328.84" r="1.4" fill="#3a3a3a"/>
<circle cx="77.78" cy="330.98" r="1.4" fill="#3a3a3a"/>
<circle cx="74.85" cy="335.00" r="1.4" fill="#3a3a3a"/>
<circle cx="77.52" cy="380.71" r="1.4" fill="#3a3a3a"/>
<circle cx="78.00" cy="336.83" r="1.4" fill="#3a3a3a"/>
<circle cx="73.61" cy="340.16" r="1.4" fill="#3a3a3a"/>
<circle cx="80.12" cy="336.52" r="1.4" fill="#3a3a3a"/>
<circle cx="73.16" cy="362.08" r="1.4" fill="#3a3a3a"/>
<circle cx="71.88" cy="324.45" r="1.4" fill="#3a3a3a"/>
<circle cx="79.67" cy="300.73" r="1.4" fill="#3a3a3a"/>
<circle cx="73.34" cy="310.92" r="1.4" fill="#3a3a3a"/>
<circle cx="71.84" cy="383.05" r="1.4" fill="#3a3a3a"/>
<circle cx="79.20" cy="320.67" r="1.4" fill="#3a3a3a"/>
<circle cx="71.77" cy="344.53" r="1.4" fill="#3a3a3a"/>
<circle cx="72.47" cy="328.92" r="1.4" fill="#3a3a3a"/>
<circle cx="80.07" cy="310.28" r="1.4" fill="#3a3a3a"/>
<circle cx="79.53" cy="327.68" r="1.4" fill="#3a3a3a"/>
<circle cx="80.48" cy="332.06" r="1.4" fill="#3a3a3a"/>
<circle cx="76.39" cy="294.09" r="1.4" fill="#3a3a3a"/>
<circle cx="79.41" cy="353.10" r="1.4" fill="#3a3a3a"/>
<circle cx="73.04" cy="301.36" r="1.4" fill="#3a3a3a"/>
<circle cx="71.86" cy="315.18" r="1.4" fill="#3a3a3a"/>
<circle cx="75.60" cy="381.08" r="1.4" fill="#3a3a3a"/>
<circle cx="78.45" cy="337.33" r="1.4" fill="#3a3a3a"/>
<circle cx="74.68" cy="333.96" r="1.4" fill="#3a3a3a"/>
<circle cx="78.68" cy="313.14" r="1.4" fill="#3a3a3a"/>
<circle cx="76.52" cy="347.89" r="1.4" fill="#3a3a3a"/>
<circle cx="77.55" cy="347.18" r="1.4" fill="#3a3a3a"/>
<circle cx="80.73" cy="356.48" r="1.4" fill="#3a3a3a"/>
<circle cx="78.99" cy="306.20" r="1.4" fill="#3a3a3a"/>
<circle cx="73.77" cy="345.04" r="1.4" fill="#3a3a3a"/>
<circle cx="80.82" cy="369.39" r="1.4" fill="#3a3a3a"/>
<circle cx="77.78" cy="313.41" r="1.4" fill="#3a3a3a"/>
<circle cx="73.81" cy="350.97" r="1.4" fill="#3a3a3a"/>
<circle cx="73.74" cy="366.94" r="1.4" fill="#3a3a3a"/>
<circle cx="80.88" cy="279.79" r="1.4" fill="#3a3a3a"/>
<circle cx="75.04" cy="306.33" r="1.4" fill="#3a3a3a"/>
<circle cx="72.23" cy="352.40" r="1.4" fill="#3a3a3a"/>
<circle cx="77.03" cy="345.00" r="1.4" fill="#3a3a3a"/>
<circle cx="76.35" cy="339.22" r="1.4" fill="#3a3a3a"/>
<circle cx="74.16" cy="348.14" r="1.4" fill="#3a3a3a"/>
<circle cx="77.18" cy="318.18" r="1.4" fill="#3a3a3a"/>
<circle cx="77.89" cy="383.79" r="1.4" fill="#3a3a3a"/>
<circle cx="79.36" cy="299.08" r="1.4" fill="#3a3a3a"/>
<circle cx="79.08" cy="315.71" r="1.4" fill="#3a3a3a"/>
<circle cx="73.05" cy="289.87" r="1.4" fill="#3a3a3a"/>
<circle cx="73.72" cy="287.94" r="1.4" fill="#3a3a3a"/>
<circle cx="76.69" cy="343.75" r="1.4" fill="#3a3a3a"/>
<circle cx="72.41" cy="312.53" r="1.4" fill="#3a3a3a"/>
<circle cx="78.40" cy="324.16" r="1.4" fill="#3a3a3a"/>
<circle cx="76.80" cy="349.17" r="1.4" fill="#3a3a3a"/>
<circle cx="77.80" cy="357.25" r="1.4" fill="#3a3a3a"/>
<circle cx="75.34" cy="322.77" r="1.4" fill="#3a3a3a"/>
<circle cx="75.73" cy="354.51" r="1.4" fill="#3a3a3a"/>
<circle cx="73.67" cy="355.11" r="1.4" fill="#3a3a3a"/>
<circle cx="73.32" cy="309.45" r="1.4" fill="#3a3a3a"/>
<circle cx="74.55" cy="338.02" r="1.4" fill="#3a3a3a"/>
<circle cx="80.78" cy="306.94" r="1.4" fill="#3a3a3a"/>
<circle cx="79.98" cy="323.39" r="1.4" fill="#3a3a3a"/>
<circle cx="72.11" cy="366.79" r="1.4" fill="#3a3a3a"/>
<circle cx="80.92" cy="299.87" r="1.4" fill="#3a3a3a"/>
<circle cx="78.23" cy="354.14" r="1.4" fill="#3a3a3a"/>
<circle cx="79.10" cy="353.20" r="1.4" fill="#3a3a3a"/>
<circle cx="77.98" cy="355.80" r="1.4" fill="#3a3a3a"/>
<circle cx="79.53" cy="292.03" r="1.4" fill="#3a3a3a"/>
<circle cx="74.68" cy="296.77" r="1.4" fill="#3a3a3a"/>
<circle cx="78.51" cy="338.63" r="1.4" fill="#3a3a3a"/>
<circle cx="79.12" cy="329.73" r="1.4" fill="#3a3a3a"/>
<circle cx="73.16" cy="312.54" r="1.4" fill="#3a3a3a"/>
<circle cx="77.81" cy="372.07" r="1.4" fill="#3a3a3a"/>
<circle cx="76.91" cy="319.44" r="1.4" fill="#3a3a3a"/>
<circle cx="76.52" cy="378.45" r="1.4" fill="#3a3a3a"/>
<circle cx="76.44" cy="333.69" r="1.4" fill="#3a3a3a"/>
<circle cx="73.70" cy="331.87" r="1.4" fill="#3a3a3a"/>
<circle cx="73.06" cy="351.82" r="1.4" fill="#3a3a3a"/>
<circle cx="74.66" cy="357.08" r="1.4" fill="#3a3a3a"/>
<circle cx="76.73" cy="332.10" r="1.4" fill="#3a3a3a"/>
<circle cx="77.62" cy="292.67" r="1.4" fill="#3a3a3a"/>
<circle cx="77.34" cy="288.23" r="1.4" fill="#3a3a3a"/>
<circle cx="79.70" cy="322.86" r="1.4" fill="#3a3a3a"/>
<circle cx="72.14" cy="327.70" r="1.4" fill="#3a3a3a"/>
<circle cx="73.91" cy="363.84" r="1.4" fill="#3a3a3a"/>
<circle cx="80.94" cy="320.25" r="1.4" fill="#3a3a3a"/>
<circle cx="73.81" cy="377.18" r="1.4" fill="#3a3a3a"/>
<circle cx="79.29" cy="327.06" r="1.4" fill="#3a3a3a"/>
<circle cx="76.08" cy="320.39" r="1.4" fill="#3a3a3a"/>
<circle cx="80.66" cy="378.72" r="1.4" fill="#3a3a3a"/>
<circle cx="78.54" cy="288.41" r="1.4" fill="#3a3a3a"/>
<circle cx="75.51" cy="358.68" r="1.4" fill="#3a3a3a"/>
<circle cx="72.04" cy="354.62" r="1.4" fill="#3a3a3a"/>
<circle cx="73.83" cy="323.48" r="1.4" fill="#3a3a3a"/>
<circle cx="74.22" cy="357.13" r="1.4" fill="#3a3a3a"/>
<circle cx="78.91" cy="334.90" r="1.4" fill="#3a3a3a"/>
<circle cx="78.93" cy="374.15" r="1.4" fill="#3a3a3a"/>
<circle cx="76.64" cy="339.34" r="1.4" fill="#3a3a3a"/>
<circle cx="80.55" cy="324.99" r="1.4" fill="#3a3a3a"/>
<circle cx="74.08" cy="304.78" r="1.4" fill="#3a3a3a"/>
<circle cx="75.46" cy="327.01" r="1.4" fill="#3a3a3a"/>
<circle cx="73.12" cy="333.69" r="1.4" fill="#3a3a3a"/>
<circle cx="78.86" cy="377.18" r="1.4" fill="#3a3a3a"/>
<circle cx="75.31" cy="350.62" r="1.4" fill="#3a3a3a"/>
<circle cx="75.85" cy="309.86" r="1.4" fill="#3a3a3a"/>
<circle cx="76.11" cy="326.24" r="1.4" fill="#3a3a3a"/>
<circle cx="79.04" cy="364.71" r="1.4" fill="#3a3a3a"/>
<circle cx="72.30" cy="343.13" r="1.4" fill="#3a3a3a"/>
<circle cx="72.33" cy="299.29" r="1.4" fill="#3a3a3a"/>
<circle cx="75.77" cy="292.96" r="1.4" fill="#3a3a3a"/>
<circle cx="76.46" cy="336.84" r="1.4" fill="#3a3a3a"/>
<circle cx="72.07" cy="333.76" r="1.4" fill="#3a3a3a"/>
<circle cx="72.61" cy="339.23" r="1.4" fill="#3a3a3a"/>
<circle cx="78.40" cy="282.88" r="1.4" fill="#3a3a3a"/>
<circle cx="72.28" cy="286.32" r="1.4" fill="#3a3a3a"/>
<circle cx="78.12" cy="323.03" r="1.4" fill="#3a3a3a"/>
<circle cx="80.63" cy="337.43" r="1.4" fill="#3a3a3a"/>
<circle cx="72.87" cy="326.15" r="1.4" fill="#3a3a3a"/>
<circle cx="74.37" cy="351.31" r="1.4" fill="#3a3a3a"/>
<circle cx="71.74" cy="326.30" r="1.4" fill="#3a3a3a"/>
<circle cx="74.83" cy="284.29" r="1.4" fill="#3a3a3a"/>
<circle cx="80.88" cy="344.47" r="1.4" fill="#3a3a3a"/>
<circle cx="74.88" cy="286.19" r="1.4" fill="#3a3a3a"/>
<circle cx="77.44" cy="346.63" r="1.4" fill="#3a3a3a"/>
<circle cx="76.11" cy="324.07" r="1.4" fill="#3a3a3a"/>
<circle cx="73.16" cy="327.81" r="1.4" fill="#3a3a3a"/>
<circle cx="79.00" cy="279.50" r="1.4" fill="#3a3a3a"/>
<circle cx="78.00" cy="284.00" r="1.4" fill="#3a3a3a"/>
<text xml:space="preserve" x="70.80" y="403.80" font-size="8.7" text-anchor="middle" font-weight="bold" font-style="normal" fill="#000" stroke="#000" style="stroke-width:0.130px" >NK</text>
<text xml:space="preserve" x="70.80" y="412.80" font-size="8.7" text-anchor="middle" font-weight="bold" font-style="normal" fill="#000" stroke="#000" style="stroke-width:0.130px" >( 142 )</text>
<line x1="111.40" y1="392.30" x2="111.40" y2="394.80" stroke="#4d4d4d" stroke-width="1.1" />
<line x1="111.40" y1="312.10" x2="111.40" y2="371.10" stroke="#333" stroke-width="1" />
<rect x="95.80" y="341.70" width="30.70" height="20.20" fill="#a1cbef" stroke="#2a2a2a" stroke-width="0.9"/>
<line x1="95.80" y1="353.20" x2="126.50" y2="353.20" stroke="#000" stroke-width="2.5" />
<circle cx="119.50" cy="312.00" r="1.4" fill="#3a3a3a"/>
<circle cx="118.00" cy="317.20" r="1.4" fill="#3a3a3a"/>
<circle cx="114.70" cy="330.30" r="1.4" fill="#3a3a3a"/>
<circle cx="116.60" cy="345.40" r="1.4" fill="#3a3a3a"/>
<circle cx="116.60" cy="347.30" r="1.4" fill="#3a3a3a"/>
<circle cx="119.60" cy="348.30" r="1.4" fill="#3a3a3a"/>
<circle cx="115.20" cy="358.90" r="1.4" fill="#3a3a3a"/>
<circle cx="120.60" cy="359.60" r="1.4" fill="#3a3a3a"/>
<circle cx="118.60" cy="368.30" r="1.4" fill="#3a3a3a"/>
<circle cx="118.00" cy="370.70" r="1.4" fill="#3a3a3a"/>
<circle cx="119.00" cy="371.00" r="1.4" fill="#3a3a3a"/>
<circle cx="117.50" cy="352.00" r="1.4" fill="#3a3a3a"/>
<circle cx="119.00" cy="354.00" r="1.4" fill="#3a3a3a"/>
<text xml:space="preserve" x="111.60" y="269.60" font-size="15" text-anchor="middle" font-weight="bold" font-style="italic" fill="#000" stroke="#000" style="stroke-width:0.225px" >ns</text>
<text xml:space="preserve" x="111.40" y="403.80" font-size="8.7" text-anchor="middle" font-weight="bold" font-style="normal" fill="#000" stroke="#000" style="stroke-width:0.130px" >inv(3)</text>
<text xml:space="preserve" x="111.40" y="412.80" font-size="8.7" text-anchor="middle" font-weight="bold" font-style="normal" fill="#000" stroke="#000" style="stroke-width:0.130px" >( 13 )</text>
<line x1="151.60" y1="392.30" x2="151.60" y2="394.80" stroke="#4d4d4d" stroke-width="1.1" />
<line x1="151.60" y1="326.00" x2="151.60" y2="381.60" stroke="#333" stroke-width="1" />
<rect x="136.50" y="329.60" width="30.20" height="23.60" fill="#70a8e0" stroke="#2a2a2a" stroke-width="0.9"/>
<line x1="136.50" y1="335.60" x2="166.70" y2="335.60" stroke="#000" stroke-width="2.5" />
<circle cx="161.50" cy="326.30" r="1.4" fill="#3a3a3a"/>
<circle cx="156.30" cy="331.00" r="1.4" fill="#3a3a3a"/>
<circle cx="156.00" cy="335.60" r="1.4" fill="#3a3a3a"/>
<circle cx="157.80" cy="335.00" r="1.4" fill="#3a3a3a"/>
<circle cx="156.60" cy="349.20" r="1.4" fill="#3a3a3a"/>
<circle cx="154.70" cy="366.80" r="1.4" fill="#3a3a3a"/>
<circle cx="155.40" cy="381.80" r="1.4" fill="#3a3a3a"/>
<circle cx="156.60" cy="282.80" r="1.4" fill="#3a3a3a"/>
<text xml:space="preserve" x="152.10" y="272.10" font-size="15" text-anchor="middle" font-weight="bold" font-style="italic" fill="#000" stroke="#000" style="stroke-width:0.225px" >ns</text>
<text xml:space="preserve" x="151.60" y="403.80" font-size="8.7" text-anchor="middle" font-weight="bold" font-style="normal" fill="#000" stroke="#000" style="stroke-width:0.130px" >inv(16)</text>
<text xml:space="preserve" x="151.60" y="412.80" font-size="8.7" text-anchor="middle" font-weight="bold" font-style="normal" fill="#000" stroke="#000" style="stroke-width:0.130px" >( 12 )</text>
<line x1="192.40" y1="392.30" x2="192.40" y2="394.80" stroke="#4d4d4d" stroke-width="1.1" />
<line x1="192.40" y1="297.10" x2="192.40" y2="346.50" stroke="#333" stroke-width="1" />
<rect x="177.00" y="313.20" width="30.60" height="22.20" fill="#4f90d4" stroke="#2a2a2a" stroke-width="0.9"/>
<line x1="177.00" y1="316.10" x2="207.60" y2="316.10" stroke="#000" stroke-width="2.5" />
<circle cx="200.30" cy="296.70" r="1.4" fill="#3a3a3a"/>
<circle cx="200.70" cy="312.50" r="1.4" fill="#3a3a3a"/>
<circle cx="202.20" cy="314.40" r="1.4" fill="#3a3a3a"/>
<circle cx="198.20" cy="318.50" r="1.4" fill="#3a3a3a"/>
<circle cx="199.30" cy="341.10" r="1.4" fill="#3a3a3a"/>
<circle cx="202.30" cy="346.80" r="1.4" fill="#3a3a3a"/>
<text xml:space="preserve" x="192.30" y="269.20" font-size="15" text-anchor="middle" font-weight="bold" font-style="italic" fill="#000" stroke="#000" style="stroke-width:0.225px" >ns</text>
<text xml:space="preserve" x="192.40" y="403.80" font-size="8.7" text-anchor="middle" font-weight="bold" font-style="normal" fill="#000" stroke="#000" style="stroke-width:0.130px" >t(8;21)</text>
<text xml:space="preserve" x="192.40" y="412.80" font-size="8.7" text-anchor="middle" font-weight="bold" font-style="normal" fill="#000" stroke="#000" style="stroke-width:0.130px" >( 7 )</text>
<line x1="232.80" y1="392.30" x2="232.80" y2="394.80" stroke="#4d4d4d" stroke-width="1.1" />
<line x1="232.80" y1="279.90" x2="232.80" y2="334.60" stroke="#333" stroke-width="1" />
<rect x="217.30" y="290.10" width="30.70" height="28.00" fill="#3e7ac6" stroke="#2a2a2a" stroke-width="0.9"/>
<line x1="217.30" y1="294.80" x2="248.00" y2="294.80" stroke="#000" stroke-width="2.5" />
<circle cx="239.60" cy="279.50" r="1.4" fill="#3a3a3a"/>
<circle cx="238.60" cy="285.40" r="1.4" fill="#3a3a3a"/>
<circle cx="242.80" cy="288.90" r="1.4" fill="#3a3a3a"/>
<circle cx="237.20" cy="294.20" r="1.4" fill="#3a3a3a"/>
<circle cx="240.80" cy="295.00" r="1.4" fill="#3a3a3a"/>
<circle cx="241.10" cy="307.60" r="1.4" fill="#3a3a3a"/>
<circle cx="242.50" cy="321.60" r="1.4" fill="#3a3a3a"/>
<circle cx="237.00" cy="324.20" r="1.4" fill="#3a3a3a"/>
<circle cx="242.40" cy="335.10" r="1.4" fill="#3a3a3a"/>
<text xml:space="preserve" x="234.20" y="269.10" font-size="14.6" text-anchor="middle" font-weight="bold" font-style="normal" fill="#000" stroke="#000" style="stroke-width:0.219px" >***</text>
<text xml:space="preserve" x="232.80" y="403.80" font-size="8.7" text-anchor="middle" font-weight="bold" font-style="normal" fill="#000" stroke="#000" style="stroke-width:0.130px" >t(15;17)</text>
<text xml:space="preserve" x="232.80" y="412.80" font-size="8.7" text-anchor="middle" font-weight="bold" font-style="normal" fill="#000" stroke="#000" style="stroke-width:0.130px" >( 10 )</text>
<line x1="273.30" y1="392.30" x2="273.30" y2="394.80" stroke="#4d4d4d" stroke-width="1.1" />
<line x1="273.30" y1="328.00" x2="273.30" y2="381.80" stroke="#333" stroke-width="1" />
<rect x="258.10" y="339.50" width="30.60" height="19.70" fill="#2a66b5" stroke="#2a2a2a" stroke-width="0.9"/>
<line x1="258.10" y1="344.60" x2="288.70" y2="344.60" stroke="#000" stroke-width="2.5" />
<circle cx="276.00" cy="305.40" r="1.4" fill="#3a3a3a"/>
<circle cx="277.30" cy="327.70" r="1.4" fill="#3a3a3a"/>
<circle cx="280.50" cy="343.60" r="1.4" fill="#3a3a3a"/>
<circle cx="279.00" cy="345.50" r="1.4" fill="#3a3a3a"/>
<circle cx="278.70" cy="355.00" r="1.4" fill="#3a3a3a"/>
<circle cx="281.30" cy="372.30" r="1.4" fill="#3a3a3a"/>
<circle cx="279.50" cy="381.80" r="1.4" fill="#3a3a3a"/>
<text xml:space="preserve" x="273.60" y="272.80" font-size="15" text-anchor="middle" font-weight="bold" font-style="italic" fill="#000" stroke="#000" style="stroke-width:0.225px" >ns</text>
<text xml:space="preserve" x="273.30" y="403.80" font-size="8.7" text-anchor="middle" font-weight="bold" font-style="normal" fill="#000" stroke="#000" style="stroke-width:0.130px" >MLL</text>
<text xml:space="preserve" x="273.30" y="412.80" font-size="8.7" text-anchor="middle" font-weight="bold" font-style="normal" fill="#000" stroke="#000" style="stroke-width:0.130px" >( 8 )</text>
<line x1="313.70" y1="392.30" x2="313.70" y2="394.80" stroke="#4d4d4d" stroke-width="1.1" />
<line x1="313.70" y1="291.80" x2="313.70" y2="384.00" stroke="#333" stroke-width="1" />
<rect x="298.40" y="332.40" width="31.30" height="28.00" fill="#2f4fa6" stroke="#2a2a2a" stroke-width="0.9"/>
<line x1="298.40" y1="345.20" x2="329.70" y2="345.20" stroke="#000" stroke-width="2.5" />
<circle cx="314.78" cy="314.63" r="1.4" fill="#3a3a3a"/>
<circle cx="315.09" cy="347.90" r="1.4" fill="#3a3a3a"/>
<circle cx="316.32" cy="334.36" r="1.4" fill="#3a3a3a"/>
<circle cx="323.44" cy="339.89" r="1.4" fill="#3a3a3a"/>
<circle cx="316.32" cy="371.86" r="1.4" fill="#3a3a3a"/>
<circle cx="322.40" cy="383.05" r="1.4" fill="#3a3a3a"/>
<circle cx="324.03" cy="376.42" r="1.4" fill="#3a3a3a"/>
<circle cx="320.71" cy="314.46" r="1.4" fill="#3a3a3a"/>
<circle cx="318.93" cy="373.13" r="1.4" fill="#3a3a3a"/>
<circle cx="321.04" cy="363.52" r="1.4" fill="#3a3a3a"/>
<circle cx="321.74" cy="342.94" r="1.4" fill="#3a3a3a"/>
<circle cx="324.11" cy="353.11" r="1.4" fill="#3a3a3a"/>
<circle cx="314.70" cy="366.16" r="1.4" fill="#3a3a3a"/>
<circle cx="313.73" cy="349.19" r="1.4" fill="#3a3a3a"/>
<circle cx="320.85" cy="372.92" r="1.4" fill="#3a3a3a"/>
<circle cx="316.01" cy="303.48" r="1.4" fill="#3a3a3a"/>
<circle cx="318.72" cy="358.09" r="1.4" fill="#3a3a3a"/>
<circle cx="318.94" cy="362.20" r="1.4" fill="#3a3a3a"/>
<circle cx="315.44" cy="368.39" r="1.4" fill="#3a3a3a"/>
<circle cx="317.91" cy="368.26" r="1.4" fill="#3a3a3a"/>
<circle cx="315.51" cy="342.79" r="1.4" fill="#3a3a3a"/>
<circle cx="322.60" cy="358.56" r="1.4" fill="#3a3a3a"/>
<circle cx="314.51" cy="356.83" r="1.4" fill="#3a3a3a"/>
<circle cx="323.47" cy="360.05" r="1.4" fill="#3a3a3a"/>
<circle cx="322.80" cy="356.16" r="1.4" fill="#3a3a3a"/>
<circle cx="317.38" cy="352.49" r="1.4" fill="#3a3a3a"/>
<circle cx="322.13" cy="315.19" r="1.4" fill="#3a3a3a"/>
<circle cx="323.72" cy="337.40" r="1.4" fill="#3a3a3a"/>
<circle cx="318.60" cy="330.04" r="1.4" fill="#3a3a3a"/>
<circle cx="323.41" cy="333.09" r="1.4" fill="#3a3a3a"/>
<circle cx="316.74" cy="334.61" r="1.4" fill="#3a3a3a"/>
<circle cx="319.15" cy="351.74" r="1.4" fill="#3a3a3a"/>
<circle cx="315.22" cy="368.13" r="1.4" fill="#3a3a3a"/>
<circle cx="318.56" cy="375.24" r="1.4" fill="#3a3a3a"/>
<circle cx="321.45" cy="311.50" r="1.4" fill="#3a3a3a"/>
<circle cx="320.19" cy="383.17" r="1.4" fill="#3a3a3a"/>
<circle cx="319.48" cy="378.11" r="1.4" fill="#3a3a3a"/>
<circle cx="317.31" cy="365.24" r="1.4" fill="#3a3a3a"/>
<circle cx="318.76" cy="322.13" r="1.4" fill="#3a3a3a"/>
<circle cx="323.23" cy="378.51" r="1.4" fill="#3a3a3a"/>
<circle cx="315.13" cy="334.24" r="1.4" fill="#3a3a3a"/>
<circle cx="322.24" cy="370.79" r="1.4" fill="#3a3a3a"/>
<circle cx="323.09" cy="369.22" r="1.4" fill="#3a3a3a"/>
<circle cx="313.84" cy="344.33" r="1.4" fill="#3a3a3a"/>
<circle cx="319.94" cy="382.55" r="1.4" fill="#3a3a3a"/>
<circle cx="314.28" cy="361.16" r="1.4" fill="#3a3a3a"/>
<circle cx="316.47" cy="352.63" r="1.4" fill="#3a3a3a"/>
<circle cx="313.76" cy="312.52" r="1.4" fill="#3a3a3a"/>
<circle cx="317.30" cy="365.68" r="1.4" fill="#3a3a3a"/>
<circle cx="317.72" cy="331.72" r="1.4" fill="#3a3a3a"/>
<circle cx="314.26" cy="345.42" r="1.4" fill="#3a3a3a"/>
<circle cx="317.96" cy="355.64" r="1.4" fill="#3a3a3a"/>
<circle cx="321.39" cy="354.41" r="1.4" fill="#3a3a3a"/>
<circle cx="320.43" cy="336.23" r="1.4" fill="#3a3a3a"/>
<circle cx="317.33" cy="370.90" r="1.4" fill="#3a3a3a"/>
<circle cx="318.40" cy="376.68" r="1.4" fill="#3a3a3a"/>
<circle cx="314.33" cy="370.99" r="1.4" fill="#3a3a3a"/>
<circle cx="323.34" cy="303.69" r="1.4" fill="#3a3a3a"/>
<circle cx="314.58" cy="338.57" r="1.4" fill="#3a3a3a"/>
<circle cx="323.87" cy="341.10" r="1.4" fill="#3a3a3a"/>
<circle cx="319.26" cy="342.61" r="1.4" fill="#3a3a3a"/>
<circle cx="321.85" cy="362.45" r="1.4" fill="#3a3a3a"/>
<circle cx="319.68" cy="342.85" r="1.4" fill="#3a3a3a"/>
<circle cx="321.96" cy="324.19" r="1.4" fill="#3a3a3a"/>
<circle cx="322.32" cy="348.43" r="1.4" fill="#3a3a3a"/>
<circle cx="322.88" cy="310.16" r="1.4" fill="#3a3a3a"/>
<circle cx="323.17" cy="330.93" r="1.4" fill="#3a3a3a"/>
<circle cx="314.07" cy="336.98" r="1.4" fill="#3a3a3a"/>
<circle cx="323.68" cy="321.67" r="1.4" fill="#3a3a3a"/>
<circle cx="316.27" cy="345.01" r="1.4" fill="#3a3a3a"/>
<circle cx="323.59" cy="339.52" r="1.4" fill="#3a3a3a"/>
<circle cx="317.11" cy="309.58" r="1.4" fill="#3a3a3a"/>
<circle cx="318.60" cy="314.10" r="1.4" fill="#3a3a3a"/>
<circle cx="320.37" cy="344.73" r="1.4" fill="#3a3a3a"/>
<circle cx="319.30" cy="380.10" r="1.4" fill="#3a3a3a"/>
<circle cx="322.26" cy="374.94" r="1.4" fill="#3a3a3a"/>
<circle cx="315.67" cy="367.33" r="1.4" fill="#3a3a3a"/>
<circle cx="320.60" cy="331.09" r="1.4" fill="#3a3a3a"/>
<circle cx="314.98" cy="356.37" r="1.4" fill="#3a3a3a"/>
<circle cx="314.86" cy="375.55" r="1.4" fill="#3a3a3a"/>
<circle cx="316.96" cy="353.52" r="1.4" fill="#3a3a3a"/>
<circle cx="314.56" cy="337.34" r="1.4" fill="#3a3a3a"/>
<circle cx="319.60" cy="332.64" r="1.4" fill="#3a3a3a"/>
<circle cx="317.81" cy="324.06" r="1.4" fill="#3a3a3a"/>
<circle cx="319.56" cy="324.62" r="1.4" fill="#3a3a3a"/>
<circle cx="318.19" cy="349.25" r="1.4" fill="#3a3a3a"/>
<circle cx="318.54" cy="367.80" r="1.4" fill="#3a3a3a"/>
<circle cx="319.93" cy="368.98" r="1.4" fill="#3a3a3a"/>
<circle cx="314.69" cy="376.14" r="1.4" fill="#3a3a3a"/>
<circle cx="317.36" cy="351.16" r="1.4" fill="#3a3a3a"/>
<circle cx="324.08" cy="311.57" r="1.4" fill="#3a3a3a"/>
<circle cx="318.00" cy="346.32" r="1.4" fill="#3a3a3a"/>
<circle cx="321.12" cy="365.98" r="1.4" fill="#3a3a3a"/>
<circle cx="319.69" cy="367.80" r="1.4" fill="#3a3a3a"/>
<circle cx="323.67" cy="370.32" r="1.4" fill="#3a3a3a"/>
<circle cx="320.28" cy="376.53" r="1.4" fill="#3a3a3a"/>
<circle cx="317.01" cy="346.65" r="1.4" fill="#3a3a3a"/>
<circle cx="314.65" cy="348.48" r="1.4" fill="#3a3a3a"/>
<circle cx="315.11" cy="311.11" r="1.4" fill="#3a3a3a"/>
<circle cx="322.23" cy="383.12" r="1.4" fill="#3a3a3a"/>
<circle cx="317.73" cy="334.55" r="1.4" fill="#3a3a3a"/>
<circle cx="320.90" cy="295.98" r="1.4" fill="#3a3a3a"/>
<circle cx="322.95" cy="343.60" r="1.4" fill="#3a3a3a"/>
<circle cx="323.96" cy="376.10" r="1.4" fill="#3a3a3a"/>
<circle cx="322.01" cy="346.70" r="1.4" fill="#3a3a3a"/>
<circle cx="316.77" cy="337.16" r="1.4" fill="#3a3a3a"/>
<circle cx="322.71" cy="342.62" r="1.4" fill="#3a3a3a"/>
<circle cx="321.54" cy="374.22" r="1.4" fill="#3a3a3a"/>
<circle cx="320.40" cy="379.78" r="1.4" fill="#3a3a3a"/>
<circle cx="319.07" cy="347.43" r="1.4" fill="#3a3a3a"/>
<circle cx="319.04" cy="326.53" r="1.4" fill="#3a3a3a"/>
<circle cx="322.36" cy="336.66" r="1.4" fill="#3a3a3a"/>
<circle cx="315.17" cy="325.17" r="1.4" fill="#3a3a3a"/>
<circle cx="323.48" cy="345.39" r="1.4" fill="#3a3a3a"/>
<circle cx="322.00" cy="287.50" r="1.4" fill="#3a3a3a"/>
<text xml:space="preserve" x="315.30" y="272.10" font-size="14.6" text-anchor="middle" font-weight="bold" font-style="normal" fill="#000" stroke="#000" style="stroke-width:0.219px" >**</text>
<text xml:space="preserve" x="313.70" y="403.80" font-size="8.7" text-anchor="middle" font-weight="bold" font-style="normal" fill="#000" stroke="#000" style="stroke-width:0.130px" >Other</text>
<text xml:space="preserve" x="313.70" y="412.80" font-size="8.7" text-anchor="middle" font-weight="bold" font-style="normal" fill="#000" stroke="#000" style="stroke-width:0.130px" >( 114 )</text>
<text xml:space="preserve" x="161.30" y="427.10" font-size="12.8" text-anchor="start" font-weight="bold" font-style="normal" fill="#000" stroke="#000" style="stroke-width:0.192px" >Karyotype</text>
<text xml:space="preserve" transform="translate(348.70,236.30) scale(0.92,1)" x="0" y="0" font-size="16.6" text-anchor="start" font-weight="bold" font-style="normal" fill="#000" stroke="#000" style="stroke-width:0.249px" >D</text>
<text xml:space="preserve" transform="translate(405.80,232.10) scale(0.93,1)" x="0" y="0" font-size="16.1" text-anchor="start" font-weight="bold" font-style="normal" fill="#2a2a2a" stroke="#2a2a2a" style="stroke-width:0.242px" >MALNC  TCGA</text>
<text xml:space="preserve" x="0" y="0" transform="translate(360.00,324.50) rotate(-90) scale(1.0,1)" font-size="11.55" text-anchor="middle" font-weight="bold" fill="#000" stroke="#000" style="stroke-width:0.173px">Scaled</text>
<text xml:space="preserve" x="0" y="0" transform="translate(373.00,324.50) rotate(-90) scale(1.0,1)" font-size="11.4" text-anchor="middle" font-weight="bold" fill="#000" stroke="#000" style="stroke-width:0.171px">log2(CPM+1)</text>
<line x1="390.90" y1="246.70" x2="390.90" y2="392.80" stroke="#555" stroke-width="1.3" />
<line x1="390.90" y1="392.30" x2="685.00" y2="392.30" stroke="#555" stroke-width="1.3" />
<line x1="388.40" y1="253.50" x2="390.90" y2="253.50" stroke="#4d4d4d" stroke-width="1.1" />
<text xml:space="preserve" transform="translate(387.40,258.02) scale(0.88,1)" x="0" y="0" font-size="12.0" text-anchor="end" font-weight="bold" font-style="normal" fill="#000" stroke="#000" style="stroke-width:0.180px" >10</text>
<line x1="388.40" y1="295.00" x2="390.90" y2="295.00" stroke="#4d4d4d" stroke-width="1.1" />
<text xml:space="preserve" transform="translate(387.40,299.52) scale(0.88,1)" x="0" y="0" font-size="12.0" text-anchor="end" font-weight="bold" font-style="normal" fill="#000" stroke="#000" style="stroke-width:0.180px" >5</text>
<line x1="388.40" y1="336.50" x2="390.90" y2="336.50" stroke="#4d4d4d" stroke-width="1.1" />
<text xml:space="preserve" transform="translate(387.40,341.02) scale(0.88,1)" x="0" y="0" font-size="12.0" text-anchor="end" font-weight="bold" font-style="normal" fill="#000" stroke="#000" style="stroke-width:0.180px" >0</text>
<line x1="388.40" y1="378.00" x2="390.90" y2="378.00" stroke="#4d4d4d" stroke-width="1.1" />
<text xml:space="preserve" transform="translate(387.40,382.52) scale(0.88,1)" x="0" y="0" font-size="12.0" text-anchor="end" font-weight="bold" font-style="normal" fill="#000" stroke="#000" style="stroke-width:0.180px" >-5</text>
<line x1="418.90" y1="392.30" x2="418.90" y2="394.80" stroke="#4d4d4d" stroke-width="1.1" />
<line x1="418.90" y1="287.40" x2="418.90" y2="379.90" stroke="#333" stroke-width="1" />
<rect x="401.30" y="317.40" width="35.50" height="45.10" fill="#cde8dc" stroke="#2a2a2a" stroke-width="0.9"/>
<line x1="401.30" y1="341.40" x2="436.80" y2="341.40" stroke="#000" stroke-width="2.5" />
<circle cx="428.35" cy="370.27" r="1.4" fill="#3a3a3a"/>
<circle cx="429.47" cy="351.36" r="1.4" fill="#3a3a3a"/>
<circle cx="428.33" cy="347.38" r="1.4" fill="#3a3a3a"/>
<circle cx="428.12" cy="376.07" r="1.4" fill="#3a3a3a"/>
<circle cx="427.59" cy="375.86" r="1.4" fill="#3a3a3a"/>
<circle cx="424.98" cy="305.44" r="1.4" fill="#3a3a3a"/>
<circle cx="427.59" cy="305.12" r="1.4" fill="#3a3a3a"/>
<circle cx="429.16" cy="345.62" r="1.4" fill="#3a3a3a"/>
<circle cx="424.74" cy="327.75" r="1.4" fill="#3a3a3a"/>
<circle cx="425.41" cy="289.04" r="1.4" fill="#3a3a3a"/>
<circle cx="420.36" cy="369.22" r="1.4" fill="#3a3a3a"/>
<circle cx="420.68" cy="353.16" r="1.4" fill="#3a3a3a"/>
<circle cx="420.66" cy="322.27" r="1.4" fill="#3a3a3a"/>
<circle cx="423.29" cy="373.28" r="1.4" fill="#3a3a3a"/>
<circle cx="427.03" cy="300.11" r="1.4" fill="#3a3a3a"/>
<circle cx="426.17" cy="343.11" r="1.4" fill="#3a3a3a"/>
<circle cx="425.71" cy="360.24" r="1.4" fill="#3a3a3a"/>
<circle cx="427.88" cy="330.47" r="1.4" fill="#3a3a3a"/>
<circle cx="429.49" cy="317.09" r="1.4" fill="#3a3a3a"/>
<circle cx="424.43" cy="344.94" r="1.4" fill="#3a3a3a"/>
<circle cx="427.87" cy="367.05" r="1.4" fill="#3a3a3a"/>
<circle cx="425.77" cy="341.96" r="1.4" fill="#3a3a3a"/>
<circle cx="420.57" cy="345.94" r="1.4" fill="#3a3a3a"/>
<circle cx="424.64" cy="362.89" r="1.4" fill="#3a3a3a"/>
<circle cx="431.66" cy="305.59" r="1.4" fill="#3a3a3a"/>
<circle cx="430.88" cy="340.66" r="1.4" fill="#3a3a3a"/>
<circle cx="430.91" cy="365.61" r="1.4" fill="#3a3a3a"/>
<circle cx="429.39" cy="360.97" r="1.4" fill="#3a3a3a"/>
<circle cx="429.53" cy="348.76" r="1.4" fill="#3a3a3a"/>
<circle cx="424.26" cy="325.88" r="1.4" fill="#3a3a3a"/>
<circle cx="426.06" cy="365.01" r="1.4" fill="#3a3a3a"/>
<circle cx="424.99" cy="369.38" r="1.4" fill="#3a3a3a"/>
<circle cx="426.28" cy="371.80" r="1.4" fill="#3a3a3a"/>
<circle cx="422.09" cy="342.59" r="1.4" fill="#3a3a3a"/>
<circle cx="421.66" cy="309.41" r="1.4" fill="#3a3a3a"/>
<circle cx="421.54" cy="370.43" r="1.4" fill="#3a3a3a"/>
<circle cx="423.33" cy="342.72" r="1.4" fill="#3a3a3a"/>
<circle cx="429.54" cy="357.86" r="1.4" fill="#3a3a3a"/>
<circle cx="426.96" cy="355.01" r="1.4" fill="#3a3a3a"/>
<circle cx="430.32" cy="334.03" r="1.4" fill="#3a3a3a"/>
<circle cx="425.72" cy="301.24" r="1.4" fill="#3a3a3a"/>
<circle cx="428.68" cy="289.02" r="1.4" fill="#3a3a3a"/>
<circle cx="429.47" cy="301.35" r="1.4" fill="#3a3a3a"/>
<circle cx="426.49" cy="301.36" r="1.4" fill="#3a3a3a"/>
<circle cx="426.80" cy="314.94" r="1.4" fill="#3a3a3a"/>
<circle cx="429.90" cy="339.72" r="1.4" fill="#3a3a3a"/>
<circle cx="430.85" cy="331.79" r="1.4" fill="#3a3a3a"/>
<circle cx="424.02" cy="309.96" r="1.4" fill="#3a3a3a"/>
<circle cx="426.29" cy="322.42" r="1.4" fill="#3a3a3a"/>
<circle cx="428.12" cy="350.86" r="1.4" fill="#3a3a3a"/>
<circle cx="420.52" cy="312.42" r="1.4" fill="#3a3a3a"/>
<circle cx="428.87" cy="312.91" r="1.4" fill="#3a3a3a"/>
<circle cx="431.69" cy="338.49" r="1.4" fill="#3a3a3a"/>
<circle cx="422.80" cy="342.99" r="1.4" fill="#3a3a3a"/>
<circle cx="428.61" cy="335.51" r="1.4" fill="#3a3a3a"/>
<circle cx="425.65" cy="355.62" r="1.4" fill="#3a3a3a"/>
<circle cx="425.94" cy="331.73" r="1.4" fill="#3a3a3a"/>
<circle cx="430.41" cy="366.03" r="1.4" fill="#3a3a3a"/>
<circle cx="428.90" cy="287.60" r="1.4" fill="#3a3a3a"/>
<circle cx="426.61" cy="321.83" r="1.4" fill="#3a3a3a"/>
<circle cx="421.64" cy="356.86" r="1.4" fill="#3a3a3a"/>
<circle cx="424.55" cy="342.41" r="1.4" fill="#3a3a3a"/>
<text xml:space="preserve" x="418.90" y="403.80" font-size="8.7" text-anchor="middle" font-weight="bold" font-style="normal" fill="#000" stroke="#000" style="stroke-width:0.130px" >NK</text>
<text xml:space="preserve" x="418.90" y="412.90" font-size="8.7" text-anchor="middle" font-weight="bold" font-style="normal" fill="#000" stroke="#000" style="stroke-width:0.130px" >( 62 )</text>
<line x1="466.50" y1="392.30" x2="466.50" y2="394.80" stroke="#4d4d4d" stroke-width="1.1" />
<line x1="448.60" y1="378.20" x2="484.30" y2="378.20" stroke="#000" stroke-width="2.3" />
<text xml:space="preserve" x="467.50" y="292.60" font-size="14.6" text-anchor="middle" font-weight="bold" font-style="normal" fill="#000" stroke="#000" style="stroke-width:0.219px" >*</text>
<text xml:space="preserve" x="466.50" y="403.80" font-size="8.7" text-anchor="middle" font-weight="bold" font-style="normal" fill="#000" stroke="#000" style="stroke-width:0.130px" >inv(16)</text>
<text xml:space="preserve" x="466.50" y="412.90" font-size="8.7" text-anchor="middle" font-weight="bold" font-style="normal" fill="#000" stroke="#000" style="stroke-width:0.130px" >( 10 )</text>
<line x1="513.90" y1="392.30" x2="513.90" y2="394.80" stroke="#4d4d4d" stroke-width="1.1" />
<line x1="513.90" y1="307.30" x2="513.90" y2="379.30" stroke="#333" stroke-width="1" />
<rect x="496.10" y="342.50" width="35.80" height="31.00" fill="#6aae91" stroke="#2a2a2a" stroke-width="0.9"/>
<line x1="496.10" y1="357.50" x2="531.90" y2="357.50" stroke="#000" stroke-width="2.5" />
<circle cx="524.90" cy="307.20" r="1.4" fill="#3a3a3a"/>
<circle cx="522.70" cy="338.20" r="1.4" fill="#3a3a3a"/>
<circle cx="520.00" cy="355.60" r="1.4" fill="#3a3a3a"/>
<circle cx="520.30" cy="358.50" r="1.4" fill="#3a3a3a"/>
<circle cx="521.20" cy="379.70" r="1.4" fill="#3a3a3a"/>
<circle cx="525.50" cy="378.50" r="1.4" fill="#3a3a3a"/>
<text xml:space="preserve" x="514.50" y="271.50" font-size="15" text-anchor="middle" font-weight="bold" font-style="italic" fill="#000" stroke="#000" style="stroke-width:0.225px" >ns</text>
<text xml:space="preserve" x="513.90" y="403.80" font-size="8.7" text-anchor="middle" font-weight="bold" font-style="normal" fill="#000" stroke="#000" style="stroke-width:0.130px" >t(8;21)</text>
<text xml:space="preserve" x="513.90" y="412.90" font-size="8.7" text-anchor="middle" font-weight="bold" font-style="normal" fill="#000" stroke="#000" style="stroke-width:0.130px" >( 7 )</text>
<line x1="561.50" y1="392.30" x2="561.50" y2="394.80" stroke="#4d4d4d" stroke-width="1.1" />
<line x1="561.50" y1="290.70" x2="561.50" y2="311.60" stroke="#333" stroke-width="1" />
<rect x="543.40" y="294.10" width="36.20" height="8.10" fill="#55957a" stroke="#2a2a2a" stroke-width="0.9"/>
<line x1="543.40" y1="296.80" x2="579.60" y2="296.80" stroke="#000" stroke-width="2.5" />
<circle cx="568.30" cy="290.00" r="1.4" fill="#3a3a3a"/>
<circle cx="565.30" cy="293.50" r="1.4" fill="#3a3a3a"/>
<circle cx="567.70" cy="294.50" r="1.4" fill="#3a3a3a"/>
<circle cx="571.50" cy="294.50" r="1.4" fill="#3a3a3a"/>
<circle cx="563.80" cy="296.00" r="1.4" fill="#3a3a3a"/>
<circle cx="567.00" cy="297.50" r="1.4" fill="#3a3a3a"/>
<circle cx="563.50" cy="299.00" r="1.4" fill="#3a3a3a"/>
<circle cx="572.50" cy="297.00" r="1.4" fill="#3a3a3a"/>
<circle cx="564.20" cy="300.50" r="1.4" fill="#3a3a3a"/>
<circle cx="572.50" cy="305.00" r="1.4" fill="#3a3a3a"/>
<circle cx="567.50" cy="307.70" r="1.4" fill="#3a3a3a"/>
<circle cx="565.50" cy="310.50" r="1.4" fill="#3a3a3a"/>
<circle cx="570.80" cy="311.50" r="1.4" fill="#3a3a3a"/>
<text xml:space="preserve" x="562.80" y="267.40" font-size="14.6" text-anchor="middle" font-weight="bold" font-style="normal" fill="#000" stroke="#000" style="stroke-width:0.219px" >****</text>
<text xml:space="preserve" x="561.50" y="403.80" font-size="8.7" text-anchor="middle" font-weight="bold" font-style="normal" fill="#000" stroke="#000" style="stroke-width:0.130px" >t(15;17)</text>
<text xml:space="preserve" x="561.50" y="412.90" font-size="8.7" text-anchor="middle" font-weight="bold" font-style="normal" fill="#000" stroke="#000" style="stroke-width:0.130px" >( 15 )</text>
<line x1="608.80" y1="392.30" x2="608.80" y2="394.80" stroke="#4d4d4d" stroke-width="1.1" />
<line x1="608.80" y1="325.00" x2="608.80" y2="371.30" stroke="#333" stroke-width="1" />
<rect x="591.00" y="343.10" width="35.60" height="23.50" fill="#3f7a64" stroke="#2a2a2a" stroke-width="0.9"/>
<line x1="591.00" y1="362.20" x2="626.60" y2="362.20" stroke="#000" stroke-width="2.5" />
<circle cx="612.20" cy="324.60" r="1.4" fill="#3a3a3a"/>
<circle cx="612.00" cy="362.00" r="1.4" fill="#3a3a3a"/>
<circle cx="620.50" cy="371.50" r="1.4" fill="#3a3a3a"/>
<text xml:space="preserve" x="609.60" y="289.60" font-size="15" text-anchor="middle" font-weight="bold" font-style="italic" fill="#000" stroke="#000" style="stroke-width:0.225px" >ns</text>
<text xml:space="preserve" x="608.80" y="403.80" font-size="8.7" text-anchor="middle" font-weight="bold" font-style="normal" fill="#000" stroke="#000" style="stroke-width:0.130px" >MLL</text>
<text xml:space="preserve" x="608.80" y="412.90" font-size="8.7" text-anchor="middle" font-weight="bold" font-style="normal" fill="#000" stroke="#000" style="stroke-width:0.130px" >( 7 )</text>
<line x1="656.50" y1="392.30" x2="656.50" y2="394.80" stroke="#4d4d4d" stroke-width="1.1" />
<line x1="656.50" y1="319.70" x2="656.50" y2="380.40" stroke="#333" stroke-width="1" />
<rect x="638.30" y="344.80" width="36.40" height="25.60" fill="#2f634e" stroke="#2a2a2a" stroke-width="0.9"/>
<line x1="638.30" y1="359.90" x2="674.70" y2="359.90" stroke="#000" stroke-width="2.5" />
<circle cx="662.01" cy="376.21" r="1.4" fill="#3a3a3a"/>
<circle cx="663.52" cy="343.22" r="1.4" fill="#3a3a3a"/>
<circle cx="669.62" cy="345.29" r="1.4" fill="#3a3a3a"/>
<circle cx="660.33" cy="367.85" r="1.4" fill="#3a3a3a"/>
<circle cx="660.00" cy="353.74" r="1.4" fill="#3a3a3a"/>
<circle cx="668.67" cy="354.92" r="1.4" fill="#3a3a3a"/>
<circle cx="665.89" cy="369.56" r="1.4" fill="#3a3a3a"/>
<circle cx="659.26" cy="346.23" r="1.4" fill="#3a3a3a"/>
<circle cx="660.82" cy="343.47" r="1.4" fill="#3a3a3a"/>
<circle cx="665.66" cy="342.84" r="1.4" fill="#3a3a3a"/>
<circle cx="669.65" cy="336.67" r="1.4" fill="#3a3a3a"/>
<circle cx="659.88" cy="363.34" r="1.4" fill="#3a3a3a"/>
<circle cx="667.65" cy="321.33" r="1.4" fill="#3a3a3a"/>
<circle cx="670.69" cy="357.72" r="1.4" fill="#3a3a3a"/>
<circle cx="668.37" cy="375.21" r="1.4" fill="#3a3a3a"/>
<circle cx="665.41" cy="377.76" r="1.4" fill="#3a3a3a"/>
<circle cx="662.06" cy="365.08" r="1.4" fill="#3a3a3a"/>
<circle cx="670.14" cy="366.57" r="1.4" fill="#3a3a3a"/>
<circle cx="668.45" cy="341.55" r="1.4" fill="#3a3a3a"/>
<circle cx="664.92" cy="347.45" r="1.4" fill="#3a3a3a"/>
<circle cx="666.47" cy="340.36" r="1.4" fill="#3a3a3a"/>
<circle cx="664.29" cy="361.13" r="1.4" fill="#3a3a3a"/>
<circle cx="670.43" cy="348.43" r="1.4" fill="#3a3a3a"/>
<circle cx="661.60" cy="337.93" r="1.4" fill="#3a3a3a"/>
<circle cx="666.00" cy="349.09" r="1.4" fill="#3a3a3a"/>
<circle cx="665.51" cy="378.88" r="1.4" fill="#3a3a3a"/>
<circle cx="660.77" cy="351.98" r="1.4" fill="#3a3a3a"/>
<circle cx="666.11" cy="360.25" r="1.4" fill="#3a3a3a"/>
<circle cx="669.58" cy="341.57" r="1.4" fill="#3a3a3a"/>
<circle cx="665.12" cy="358.23" r="1.4" fill="#3a3a3a"/>
<circle cx="665.92" cy="359.86" r="1.4" fill="#3a3a3a"/>
<circle cx="665.90" cy="348.48" r="1.4" fill="#3a3a3a"/>
<circle cx="658.80" cy="375.27" r="1.4" fill="#3a3a3a"/>
<circle cx="661.85" cy="339.46" r="1.4" fill="#3a3a3a"/>
<circle cx="670.46" cy="328.05" r="1.4" fill="#3a3a3a"/>
<circle cx="658.44" cy="374.63" r="1.4" fill="#3a3a3a"/>
<circle cx="670.46" cy="367.56" r="1.4" fill="#3a3a3a"/>
<circle cx="667.08" cy="355.88" r="1.4" fill="#3a3a3a"/>
<circle cx="668.05" cy="334.90" r="1.4" fill="#3a3a3a"/>
<circle cx="667.53" cy="360.52" r="1.4" fill="#3a3a3a"/>
<circle cx="669.79" cy="336.36" r="1.4" fill="#3a3a3a"/>
<circle cx="659.17" cy="341.97" r="1.4" fill="#3a3a3a"/>
<circle cx="667.07" cy="337.31" r="1.4" fill="#3a3a3a"/>
<circle cx="660.27" cy="366.46" r="1.4" fill="#3a3a3a"/>
<circle cx="668.79" cy="365.78" r="1.4" fill="#3a3a3a"/>
<circle cx="660.19" cy="364.95" r="1.4" fill="#3a3a3a"/>
<circle cx="659.20" cy="378.59" r="1.4" fill="#3a3a3a"/>
<circle cx="668.00" cy="319.40" r="1.4" fill="#3a3a3a"/>
<circle cx="660.70" cy="323.70" r="1.4" fill="#3a3a3a"/>
<text xml:space="preserve" x="657.70" y="286.10" font-size="14.6" text-anchor="middle" font-weight="bold" font-style="normal" fill="#000" stroke="#000" style="stroke-width:0.219px" >**</text>
<text xml:space="preserve" x="656.50" y="403.80" font-size="8.7" text-anchor="middle" font-weight="bold" font-style="normal" fill="#000" stroke="#000" style="stroke-width:0.130px" >Other</text>
<text xml:space="preserve" x="656.50" y="412.90" font-size="8.7" text-anchor="middle" font-weight="bold" font-style="normal" fill="#000" stroke="#000" style="stroke-width:0.130px" >( 47 )</text>
<text xml:space="preserve" x="506.00" y="427.70" font-size="12.8" text-anchor="start" font-weight="bold" font-style="normal" fill="#000" stroke="#000" style="stroke-width:0.192px" >Karyotype</text>
<text xml:space="preserve" transform="translate(2.50,457.60) scale(0.92,1)" x="0" y="0" font-size="16.6" text-anchor="start" font-weight="bold" font-style="normal" fill="#000" stroke="#000" style="stroke-width:0.249px" >E</text>
<text xml:space="preserve" transform="translate(53.50,483.60) scale(0.976,1)" x="0" y="0" font-size="13.1" text-anchor="start" font-weight="bold" font-style="normal" fill="#2a2a2a" stroke="#2a2a2a" style="stroke-width:0.196px" >MALNC  ClinSeq</text>
<text xml:space="preserve" x="0" y="0" transform="translate(13.70,550.50) rotate(-90) scale(1.0,1)" font-size="10" text-anchor="middle" font-weight="bold" fill="#000" stroke="#000" style="stroke-width:0.150px">Sclaed</text>
<text xml:space="preserve" x="0" y="0" transform="translate(26.30,550.50) rotate(-90) scale(1.0,1)" font-size="10" text-anchor="middle" font-weight="bold" fill="#000" stroke="#000" style="stroke-width:0.150px">log2(CPM+1)</text>
<line x1="39.50" y1="486.60" x2="39.50" y2="610.10" stroke="#555" stroke-width="1.3" />
<line x1="39.50" y1="609.60" x2="279.30" y2="609.60" stroke="#555" stroke-width="1.3" />
<line x1="37.00" y1="491.10" x2="39.50" y2="491.10" stroke="#4d4d4d" stroke-width="1.1" />
<text xml:space="preserve" transform="translate(37.20,495.81) scale(0.84,1)" x="0" y="0" font-size="11.0" text-anchor="end" font-weight="bold" font-style="normal" fill="#000" stroke="#000" style="stroke-width:0.165px" >10</text>
<line x1="37.00" y1="526.50" x2="39.50" y2="526.50" stroke="#4d4d4d" stroke-width="1.1" />
<text xml:space="preserve" transform="translate(37.20,531.21) scale(0.84,1)" x="0" y="0" font-size="11.0" text-anchor="end" font-weight="bold" font-style="normal" fill="#000" stroke="#000" style="stroke-width:0.165px" >5</text>
<line x1="37.00" y1="561.90" x2="39.50" y2="561.90" stroke="#4d4d4d" stroke-width="1.1" />
<text xml:space="preserve" transform="translate(37.20,566.61) scale(0.84,1)" x="0" y="0" font-size="11.0" text-anchor="end" font-weight="bold" font-style="normal" fill="#000" stroke="#000" style="stroke-width:0.165px" >0</text>
<line x1="37.00" y1="597.30" x2="39.50" y2="597.30" stroke="#4d4d4d" stroke-width="1.1" />
<text xml:space="preserve" transform="translate(37.20,602.01) scale(0.84,1)" x="0" y="0" font-size="11.0" text-anchor="end" font-weight="bold" font-style="normal" fill="#000" stroke="#000" style="stroke-width:0.165px" >-5</text>
<line x1="75.60" y1="609.60" x2="75.60" y2="612.10" stroke="#4d4d4d" stroke-width="1.1" />
<line x1="75.60" y1="517.80" x2="75.60" y2="603.80" stroke="#333" stroke-width="1" />
<rect x="53.50" y="557.20" width="44.20" height="26.20" fill="#cfe4f6" stroke="#2a2a2a" stroke-width="0.9"/>
<line x1="53.50" y1="572.50" x2="97.70" y2="572.50" stroke="#000" stroke-width="2.5" />
<circle cx="88.78" cy="590.37" r="1.35" fill="#3a3a3a"/>
<circle cx="81.71" cy="577.39" r="1.35" fill="#3a3a3a"/>
<circle cx="86.38" cy="587.97" r="1.35" fill="#3a3a3a"/>
<circle cx="78.68" cy="520.45" r="1.35" fill="#3a3a3a"/>
<circle cx="91.02" cy="562.81" r="1.35" fill="#3a3a3a"/>
<circle cx="87.26" cy="583.02" r="1.35" fill="#3a3a3a"/>
<circle cx="84.50" cy="593.42" r="1.35" fill="#3a3a3a"/>
<circle cx="88.75" cy="599.31" r="1.35" fill="#3a3a3a"/>
<circle cx="84.96" cy="570.96" r="1.35" fill="#3a3a3a"/>
<circle cx="78.40" cy="581.88" r="1.35" fill="#3a3a3a"/>
<circle cx="85.17" cy="579.32" r="1.35" fill="#3a3a3a"/>
<circle cx="81.50" cy="591.53" r="1.35" fill="#3a3a3a"/>
<circle cx="81.47" cy="571.52" r="1.35" fill="#3a3a3a"/>
<circle cx="82.59" cy="603.11" r="1.35" fill="#3a3a3a"/>
<circle cx="79.90" cy="568.98" r="1.35" fill="#3a3a3a"/>
<circle cx="78.85" cy="565.01" r="1.35" fill="#3a3a3a"/>
<circle cx="80.22" cy="571.74" r="1.35" fill="#3a3a3a"/>
<circle cx="89.29" cy="532.89" r="1.35" fill="#3a3a3a"/>
<circle cx="87.91" cy="538.76" r="1.35" fill="#3a3a3a"/>
<circle cx="86.59" cy="550.09" r="1.35" fill="#3a3a3a"/>
<circle cx="85.23" cy="559.80" r="1.35" fill="#3a3a3a"/>
<circle cx="81.17" cy="560.77" r="1.35" fill="#3a3a3a"/>
<circle cx="87.13" cy="588.49" r="1.35" fill="#3a3a3a"/>
<circle cx="80.59" cy="600.24" r="1.35" fill="#3a3a3a"/>
<circle cx="86.07" cy="593.92" r="1.35" fill="#3a3a3a"/>
<circle cx="90.24" cy="571.99" r="1.35" fill="#3a3a3a"/>
<circle cx="81.23" cy="567.21" r="1.35" fill="#3a3a3a"/>
<circle cx="81.05" cy="579.35" r="1.35" fill="#3a3a3a"/>
<circle cx="85.87" cy="544.11" r="1.35" fill="#3a3a3a"/>
<circle cx="84.86" cy="580.62" r="1.35" fill="#3a3a3a"/>
<circle cx="90.22" cy="539.35" r="1.35" fill="#3a3a3a"/>
<circle cx="87.41" cy="576.18" r="1.35" fill="#3a3a3a"/>
<circle cx="82.76" cy="540.94" r="1.35" fill="#3a3a3a"/>
<circle cx="84.49" cy="577.99" r="1.35" fill="#3a3a3a"/>
<circle cx="89.62" cy="587.79" r="1.35" fill="#3a3a3a"/>
<circle cx="85.65" cy="579.93" r="1.35" fill="#3a3a3a"/>
<circle cx="83.72" cy="572.18" r="1.35" fill="#3a3a3a"/>
<circle cx="89.27" cy="557.67" r="1.35" fill="#3a3a3a"/>
<circle cx="81.24" cy="593.82" r="1.35" fill="#3a3a3a"/>
<circle cx="78.65" cy="589.57" r="1.35" fill="#3a3a3a"/>
<circle cx="88.36" cy="584.05" r="1.35" fill="#3a3a3a"/>
<circle cx="81.94" cy="573.72" r="1.35" fill="#3a3a3a"/>
<circle cx="86.59" cy="536.33" r="1.35" fill="#3a3a3a"/>
<circle cx="84.82" cy="538.29" r="1.35" fill="#3a3a3a"/>
<circle cx="79.30" cy="567.90" r="1.35" fill="#3a3a3a"/>
<circle cx="89.50" cy="563.44" r="1.35" fill="#3a3a3a"/>
<circle cx="82.87" cy="518.73" r="1.35" fill="#3a3a3a"/>
<circle cx="79.60" cy="561.64" r="1.35" fill="#3a3a3a"/>
<circle cx="84.86" cy="598.02" r="1.35" fill="#3a3a3a"/>
<circle cx="90.28" cy="569.91" r="1.35" fill="#3a3a3a"/>
<circle cx="82.96" cy="587.50" r="1.35" fill="#3a3a3a"/>
<circle cx="82.00" cy="577.00" r="1.35" fill="#3a3a3a"/>
<circle cx="90.91" cy="530.37" r="1.35" fill="#3a3a3a"/>
<circle cx="80.04" cy="593.77" r="1.35" fill="#3a3a3a"/>
<circle cx="83.11" cy="576.83" r="1.35" fill="#3a3a3a"/>
<circle cx="79.73" cy="560.68" r="1.35" fill="#3a3a3a"/>
<circle cx="81.74" cy="569.39" r="1.35" fill="#3a3a3a"/>
<circle cx="87.62" cy="567.78" r="1.35" fill="#3a3a3a"/>
<circle cx="80.05" cy="530.73" r="1.35" fill="#3a3a3a"/>
<circle cx="88.83" cy="565.24" r="1.35" fill="#3a3a3a"/>
<circle cx="83.50" cy="529.71" r="1.35" fill="#3a3a3a"/>
<circle cx="84.34" cy="599.13" r="1.35" fill="#3a3a3a"/>
<circle cx="79.56" cy="573.67" r="1.35" fill="#3a3a3a"/>
<circle cx="82.76" cy="587.26" r="1.35" fill="#3a3a3a"/>
<circle cx="85.51" cy="578.59" r="1.35" fill="#3a3a3a"/>
<circle cx="84.15" cy="551.77" r="1.35" fill="#3a3a3a"/>
<circle cx="82.44" cy="562.29" r="1.35" fill="#3a3a3a"/>
<circle cx="81.78" cy="530.88" r="1.35" fill="#3a3a3a"/>
<circle cx="89.98" cy="558.32" r="1.35" fill="#3a3a3a"/>
<circle cx="80.85" cy="553.74" r="1.35" fill="#3a3a3a"/>
<circle cx="84.04" cy="581.12" r="1.35" fill="#3a3a3a"/>
<circle cx="82.72" cy="590.01" r="1.35" fill="#3a3a3a"/>
<circle cx="80.81" cy="591.62" r="1.35" fill="#3a3a3a"/>
<circle cx="85.59" cy="559.86" r="1.35" fill="#3a3a3a"/>
<circle cx="83.10" cy="555.91" r="1.35" fill="#3a3a3a"/>
<circle cx="82.30" cy="583.02" r="1.35" fill="#3a3a3a"/>
<circle cx="80.54" cy="561.23" r="1.35" fill="#3a3a3a"/>
<circle cx="86.77" cy="599.69" r="1.35" fill="#3a3a3a"/>
<circle cx="83.03" cy="568.56" r="1.35" fill="#3a3a3a"/>
<circle cx="81.00" cy="583.10" r="1.35" fill="#3a3a3a"/>
<circle cx="87.28" cy="584.33" r="1.35" fill="#3a3a3a"/>
<circle cx="89.04" cy="563.38" r="1.35" fill="#3a3a3a"/>
<circle cx="83.34" cy="558.07" r="1.35" fill="#3a3a3a"/>
<circle cx="85.18" cy="588.50" r="1.35" fill="#3a3a3a"/>
<circle cx="81.81" cy="573.24" r="1.35" fill="#3a3a3a"/>
<circle cx="79.67" cy="560.57" r="1.35" fill="#3a3a3a"/>
<circle cx="89.09" cy="565.14" r="1.35" fill="#3a3a3a"/>
<circle cx="84.52" cy="557.50" r="1.35" fill="#3a3a3a"/>
<circle cx="82.08" cy="560.79" r="1.35" fill="#3a3a3a"/>
<circle cx="88.49" cy="571.13" r="1.35" fill="#3a3a3a"/>
<circle cx="89.46" cy="577.26" r="1.35" fill="#3a3a3a"/>
<circle cx="87.60" cy="594.84" r="1.35" fill="#3a3a3a"/>
<circle cx="84.73" cy="564.56" r="1.35" fill="#3a3a3a"/>
<circle cx="82.88" cy="573.28" r="1.35" fill="#3a3a3a"/>
<circle cx="86.85" cy="565.50" r="1.35" fill="#3a3a3a"/>
<circle cx="86.70" cy="593.86" r="1.35" fill="#3a3a3a"/>
<circle cx="85.79" cy="558.23" r="1.35" fill="#3a3a3a"/>
<circle cx="83.50" cy="547.55" r="1.35" fill="#3a3a3a"/>
<circle cx="83.26" cy="586.58" r="1.35" fill="#3a3a3a"/>
<circle cx="89.21" cy="587.22" r="1.35" fill="#3a3a3a"/>
<circle cx="85.38" cy="538.19" r="1.35" fill="#3a3a3a"/>
<circle cx="80.23" cy="590.47" r="1.35" fill="#3a3a3a"/>
<circle cx="82.64" cy="558.53" r="1.35" fill="#3a3a3a"/>
<circle cx="87.67" cy="539.51" r="1.35" fill="#3a3a3a"/>
<circle cx="81.81" cy="574.91" r="1.35" fill="#3a3a3a"/>
<circle cx="80.00" cy="575.73" r="1.35" fill="#3a3a3a"/>
<circle cx="80.13" cy="572.99" r="1.35" fill="#3a3a3a"/>
<circle cx="86.23" cy="568.34" r="1.35" fill="#3a3a3a"/>
<circle cx="79.51" cy="580.88" r="1.35" fill="#3a3a3a"/>
<circle cx="89.73" cy="559.85" r="1.35" fill="#3a3a3a"/>
<circle cx="83.09" cy="579.87" r="1.35" fill="#3a3a3a"/>
<circle cx="86.23" cy="602.21" r="1.35" fill="#3a3a3a"/>
<circle cx="79.63" cy="568.05" r="1.35" fill="#3a3a3a"/>
<circle cx="88.47" cy="576.06" r="1.35" fill="#3a3a3a"/>
<circle cx="87.56" cy="557.88" r="1.35" fill="#3a3a3a"/>
<circle cx="79.72" cy="583.13" r="1.35" fill="#3a3a3a"/>
<circle cx="78.61" cy="588.29" r="1.35" fill="#3a3a3a"/>
<circle cx="86.28" cy="574.15" r="1.35" fill="#3a3a3a"/>
<circle cx="85.71" cy="578.13" r="1.35" fill="#3a3a3a"/>
<circle cx="81.07" cy="591.72" r="1.35" fill="#3a3a3a"/>
<circle cx="79.70" cy="547.01" r="1.35" fill="#3a3a3a"/>
<circle cx="78.43" cy="596.89" r="1.35" fill="#3a3a3a"/>
<circle cx="80.17" cy="560.24" r="1.35" fill="#3a3a3a"/>
<circle cx="84.38" cy="579.06" r="1.35" fill="#3a3a3a"/>
<circle cx="90.92" cy="578.15" r="1.35" fill="#3a3a3a"/>
<circle cx="87.55" cy="558.72" r="1.35" fill="#3a3a3a"/>
<circle cx="90.74" cy="558.52" r="1.35" fill="#3a3a3a"/>
<circle cx="78.40" cy="581.19" r="1.35" fill="#3a3a3a"/>
<circle cx="83.73" cy="598.43" r="1.35" fill="#3a3a3a"/>
<circle cx="83.87" cy="576.16" r="1.35" fill="#3a3a3a"/>
<circle cx="87.56" cy="590.70" r="1.35" fill="#3a3a3a"/>
<circle cx="86.94" cy="578.03" r="1.35" fill="#3a3a3a"/>
<circle cx="82.73" cy="567.75" r="1.35" fill="#3a3a3a"/>
<circle cx="85.80" cy="576.98" r="1.35" fill="#3a3a3a"/>
<circle cx="85.51" cy="576.82" r="1.35" fill="#3a3a3a"/>
<circle cx="88.26" cy="598.25" r="1.35" fill="#3a3a3a"/>
<circle cx="85.50" cy="542.13" r="1.35" fill="#3a3a3a"/>
<circle cx="90.09" cy="587.60" r="1.35" fill="#3a3a3a"/>
<circle cx="88.43" cy="554.36" r="1.35" fill="#3a3a3a"/>
<circle cx="85.23" cy="581.74" r="1.35" fill="#3a3a3a"/>
<circle cx="82.31" cy="559.34" r="1.35" fill="#3a3a3a"/>
<circle cx="86.90" cy="551.53" r="1.35" fill="#3a3a3a"/>
<circle cx="79.03" cy="594.37" r="1.35" fill="#3a3a3a"/>
<circle cx="88.14" cy="544.70" r="1.35" fill="#3a3a3a"/>
<circle cx="90.81" cy="584.41" r="1.35" fill="#3a3a3a"/>
<circle cx="83.12" cy="571.24" r="1.35" fill="#3a3a3a"/>
<circle cx="88.06" cy="557.26" r="1.35" fill="#3a3a3a"/>
<circle cx="88.88" cy="560.05" r="1.35" fill="#3a3a3a"/>
<circle cx="82.86" cy="536.94" r="1.35" fill="#3a3a3a"/>
<circle cx="80.65" cy="557.35" r="1.35" fill="#3a3a3a"/>
<circle cx="79.17" cy="597.72" r="1.35" fill="#3a3a3a"/>
<circle cx="87.72" cy="543.50" r="1.35" fill="#3a3a3a"/>
<circle cx="83.54" cy="545.54" r="1.35" fill="#3a3a3a"/>
<circle cx="85.22" cy="577.13" r="1.35" fill="#3a3a3a"/>
<circle cx="89.83" cy="568.43" r="1.35" fill="#3a3a3a"/>
<circle cx="88.80" cy="523.68" r="1.35" fill="#3a3a3a"/>
<circle cx="87.65" cy="544.43" r="1.35" fill="#3a3a3a"/>
<circle cx="78.99" cy="555.20" r="1.35" fill="#3a3a3a"/>
<circle cx="82.77" cy="583.61" r="1.35" fill="#3a3a3a"/>
<circle cx="79.33" cy="585.03" r="1.35" fill="#3a3a3a"/>
<circle cx="86.48" cy="538.24" r="1.35" fill="#3a3a3a"/>
<circle cx="84.79" cy="598.21" r="1.35" fill="#3a3a3a"/>
<circle cx="81.80" cy="546.99" r="1.35" fill="#3a3a3a"/>
<circle cx="87.82" cy="559.07" r="1.35" fill="#3a3a3a"/>
<circle cx="90.83" cy="581.31" r="1.35" fill="#3a3a3a"/>
<circle cx="85.12" cy="567.80" r="1.35" fill="#3a3a3a"/>
<circle cx="87.09" cy="559.25" r="1.35" fill="#3a3a3a"/>
<circle cx="88.76" cy="576.47" r="1.35" fill="#3a3a3a"/>
<circle cx="81.76" cy="557.14" r="1.35" fill="#3a3a3a"/>
<circle cx="88.16" cy="580.54" r="1.35" fill="#3a3a3a"/>
<circle cx="84.68" cy="568.93" r="1.35" fill="#3a3a3a"/>
<circle cx="81.07" cy="576.22" r="1.35" fill="#3a3a3a"/>
<circle cx="89.60" cy="561.98" r="1.35" fill="#3a3a3a"/>
<circle cx="90.31" cy="558.68" r="1.35" fill="#3a3a3a"/>
<circle cx="88.26" cy="534.94" r="1.35" fill="#3a3a3a"/>
<circle cx="83.12" cy="586.47" r="1.35" fill="#3a3a3a"/>
<circle cx="80.52" cy="536.93" r="1.35" fill="#3a3a3a"/>
<circle cx="89.20" cy="588.39" r="1.35" fill="#3a3a3a"/>
<circle cx="80.27" cy="575.53" r="1.35" fill="#3a3a3a"/>
<circle cx="78.90" cy="520.86" r="1.35" fill="#3a3a3a"/>
<circle cx="87.81" cy="548.87" r="1.35" fill="#3a3a3a"/>
<circle cx="87.96" cy="580.53" r="1.35" fill="#3a3a3a"/>
<circle cx="84.08" cy="572.80" r="1.35" fill="#3a3a3a"/>
<circle cx="88.14" cy="539.21" r="1.35" fill="#3a3a3a"/>
<circle cx="82.83" cy="589.59" r="1.35" fill="#3a3a3a"/>
<circle cx="81.56" cy="566.22" r="1.35" fill="#3a3a3a"/>
<circle cx="91.12" cy="544.96" r="1.35" fill="#3a3a3a"/>
<circle cx="89.33" cy="577.87" r="1.35" fill="#3a3a3a"/>
<circle cx="84.91" cy="576.90" r="1.35" fill="#3a3a3a"/>
<circle cx="86.23" cy="578.14" r="1.35" fill="#3a3a3a"/>
<circle cx="79.63" cy="540.24" r="1.35" fill="#3a3a3a"/>
<circle cx="82.90" cy="563.72" r="1.35" fill="#3a3a3a"/>
<circle cx="80.90" cy="566.21" r="1.35" fill="#3a3a3a"/>
<circle cx="79.27" cy="575.07" r="1.35" fill="#3a3a3a"/>
<circle cx="86.31" cy="562.84" r="1.35" fill="#3a3a3a"/>
<circle cx="81.51" cy="582.20" r="1.35" fill="#3a3a3a"/>
<circle cx="85.98" cy="580.47" r="1.35" fill="#3a3a3a"/>
<circle cx="81.73" cy="576.91" r="1.35" fill="#3a3a3a"/>
<circle cx="81.94" cy="577.25" r="1.35" fill="#3a3a3a"/>
<circle cx="90.70" cy="579.93" r="1.35" fill="#3a3a3a"/>
<circle cx="82.06" cy="573.45" r="1.35" fill="#3a3a3a"/>
<circle cx="84.92" cy="600.97" r="1.35" fill="#3a3a3a"/>
<circle cx="90.79" cy="587.57" r="1.35" fill="#3a3a3a"/>
<circle cx="82.78" cy="584.39" r="1.35" fill="#3a3a3a"/>
<circle cx="81.61" cy="598.69" r="1.35" fill="#3a3a3a"/>
<circle cx="90.61" cy="576.35" r="1.35" fill="#3a3a3a"/>
<circle cx="85.67" cy="559.54" r="1.35" fill="#3a3a3a"/>
<circle cx="90.97" cy="595.64" r="1.35" fill="#3a3a3a"/>
<circle cx="85.46" cy="570.45" r="1.35" fill="#3a3a3a"/>
<circle cx="85.60" cy="529.30" r="1.35" fill="#3a3a3a"/>
<circle cx="83.00" cy="512.00" r="1.35" fill="#3a3a3a"/>
<circle cx="79.00" cy="514.00" r="1.35" fill="#3a3a3a"/>
<text xml:space="preserve" x="75.60" y="619.10" font-size="7.3" text-anchor="middle" font-weight="bold" font-style="normal" fill="#000" stroke="#000" style="stroke-width:0.110px" >IDH2w/NPM1w</text>
<text xml:space="preserve" x="75.60" y="627.30" font-size="7.3" text-anchor="middle" font-weight="bold" font-style="normal" fill="#000" stroke="#000" style="stroke-width:0.110px" >( 210 )</text>
<line x1="134.80" y1="609.60" x2="134.80" y2="612.10" stroke="#4d4d4d" stroke-width="1.1" />
<line x1="134.80" y1="523.40" x2="134.80" y2="602.60" stroke="#333" stroke-width="1" />
<rect x="112.40" y="546.20" width="44.70" height="25.10" fill="#9fcaef" stroke="#2a2a2a" stroke-width="0.9"/>
<line x1="112.40" y1="560.70" x2="157.10" y2="560.70" stroke="#000" stroke-width="2.5" />
<circle cx="138.40" cy="523.60" r="1.35" fill="#3a3a3a"/>
<circle cx="145.50" cy="533.20" r="1.35" fill="#3a3a3a"/>
<circle cx="148.00" cy="533.20" r="1.35" fill="#3a3a3a"/>
<circle cx="138.40" cy="546.20" r="1.35" fill="#3a3a3a"/>
<circle cx="147.30" cy="545.40" r="1.35" fill="#3a3a3a"/>
<circle cx="138.40" cy="553.00" r="1.35" fill="#3a3a3a"/>
<circle cx="140.00" cy="555.50" r="1.35" fill="#3a3a3a"/>
<circle cx="147.30" cy="553.60" r="1.35" fill="#3a3a3a"/>
<circle cx="141.80" cy="560.70" r="1.35" fill="#3a3a3a"/>
<circle cx="139.70" cy="564.30" r="1.35" fill="#3a3a3a"/>
<circle cx="140.90" cy="566.00" r="1.35" fill="#3a3a3a"/>
<circle cx="142.70" cy="565.70" r="1.35" fill="#3a3a3a"/>
<circle cx="148.20" cy="571.50" r="1.35" fill="#3a3a3a"/>
<circle cx="149.40" cy="576.40" r="1.35" fill="#3a3a3a"/>
<circle cx="145.80" cy="580.00" r="1.35" fill="#3a3a3a"/>
<circle cx="141.80" cy="590.50" r="1.35" fill="#3a3a3a"/>
<circle cx="140.90" cy="602.60" r="1.35" fill="#3a3a3a"/>
<text xml:space="preserve" x="136.00" y="502.60" font-size="12.6" text-anchor="middle" font-weight="bold" font-style="normal" fill="#000" stroke="#000" style="stroke-width:0.189px" >*</text>
<text xml:space="preserve" x="134.80" y="619.10" font-size="7.3" text-anchor="middle" font-weight="bold" font-style="normal" fill="#000" stroke="#000" style="stroke-width:0.110px" >IDH2m/NPM1w</text>
<text xml:space="preserve" x="134.80" y="627.30" font-size="7.3" text-anchor="middle" font-weight="bold" font-style="normal" fill="#000" stroke="#000" style="stroke-width:0.110px" >( 20 )</text>
<line x1="194.20" y1="609.60" x2="194.20" y2="612.10" stroke="#4d4d4d" stroke-width="1.1" />
<line x1="194.20" y1="513.50" x2="194.20" y2="598.70" stroke="#333" stroke-width="1" />
<rect x="171.80" y="544.40" width="44.70" height="25.80" fill="#6fa6df" stroke="#2a2a2a" stroke-width="0.9"/>
<line x1="171.80" y1="558.60" x2="216.50" y2="558.60" stroke="#000" stroke-width="2.5" />
<circle cx="196.79" cy="560.50" r="1.35" fill="#3a3a3a"/>
<circle cx="205.31" cy="567.84" r="1.35" fill="#3a3a3a"/>
<circle cx="201.27" cy="565.95" r="1.35" fill="#3a3a3a"/>
<circle cx="207.11" cy="554.25" r="1.35" fill="#3a3a3a"/>
<circle cx="204.14" cy="568.53" r="1.35" fill="#3a3a3a"/>
<circle cx="199.06" cy="551.92" r="1.35" fill="#3a3a3a"/>
<circle cx="206.24" cy="544.75" r="1.35" fill="#3a3a3a"/>
<circle cx="207.32" cy="546.63" r="1.35" fill="#3a3a3a"/>
<circle cx="205.39" cy="551.53" r="1.35" fill="#3a3a3a"/>
<circle cx="197.26" cy="523.91" r="1.35" fill="#3a3a3a"/>
<circle cx="204.21" cy="559.55" r="1.35" fill="#3a3a3a"/>
<circle cx="203.85" cy="562.70" r="1.35" fill="#3a3a3a"/>
<circle cx="203.98" cy="547.84" r="1.35" fill="#3a3a3a"/>
<circle cx="200.80" cy="532.22" r="1.35" fill="#3a3a3a"/>
<circle cx="204.42" cy="566.24" r="1.35" fill="#3a3a3a"/>
<circle cx="206.11" cy="570.27" r="1.35" fill="#3a3a3a"/>
<circle cx="208.46" cy="521.38" r="1.35" fill="#3a3a3a"/>
<circle cx="196.46" cy="560.79" r="1.35" fill="#3a3a3a"/>
<circle cx="200.08" cy="565.29" r="1.35" fill="#3a3a3a"/>
<circle cx="207.23" cy="564.52" r="1.35" fill="#3a3a3a"/>
<circle cx="201.47" cy="545.38" r="1.35" fill="#3a3a3a"/>
<circle cx="204.53" cy="545.48" r="1.35" fill="#3a3a3a"/>
<circle cx="201.94" cy="527.92" r="1.35" fill="#3a3a3a"/>
<circle cx="207.13" cy="537.87" r="1.35" fill="#3a3a3a"/>
<circle cx="204.03" cy="570.89" r="1.35" fill="#3a3a3a"/>
<circle cx="208.63" cy="558.24" r="1.35" fill="#3a3a3a"/>
<circle cx="196.04" cy="548.78" r="1.35" fill="#3a3a3a"/>
<circle cx="202.82" cy="575.67" r="1.35" fill="#3a3a3a"/>
<circle cx="197.15" cy="529.40" r="1.35" fill="#3a3a3a"/>
<circle cx="198.13" cy="559.00" r="1.35" fill="#3a3a3a"/>
<circle cx="204.51" cy="541.75" r="1.35" fill="#3a3a3a"/>
<circle cx="207.53" cy="546.74" r="1.35" fill="#3a3a3a"/>
<circle cx="206.65" cy="533.40" r="1.35" fill="#3a3a3a"/>
<circle cx="207.97" cy="542.17" r="1.35" fill="#3a3a3a"/>
<circle cx="197.43" cy="562.94" r="1.35" fill="#3a3a3a"/>
<circle cx="202.00" cy="529.88" r="1.35" fill="#3a3a3a"/>
<circle cx="199.12" cy="559.17" r="1.35" fill="#3a3a3a"/>
<circle cx="199.08" cy="553.56" r="1.35" fill="#3a3a3a"/>
<circle cx="197.59" cy="579.61" r="1.35" fill="#3a3a3a"/>
<circle cx="201.56" cy="598.45" r="1.35" fill="#3a3a3a"/>
<circle cx="207.95" cy="543.47" r="1.35" fill="#3a3a3a"/>
<circle cx="199.34" cy="568.61" r="1.35" fill="#3a3a3a"/>
<circle cx="208.23" cy="530.55" r="1.35" fill="#3a3a3a"/>
<circle cx="203.92" cy="544.07" r="1.35" fill="#3a3a3a"/>
<circle cx="200.46" cy="547.16" r="1.35" fill="#3a3a3a"/>
<circle cx="203.49" cy="554.99" r="1.35" fill="#3a3a3a"/>
<circle cx="198.20" cy="560.29" r="1.35" fill="#3a3a3a"/>
<circle cx="209.30" cy="551.51" r="1.35" fill="#3a3a3a"/>
<circle cx="206.76" cy="542.01" r="1.35" fill="#3a3a3a"/>
<circle cx="198.91" cy="566.33" r="1.35" fill="#3a3a3a"/>
<circle cx="203.74" cy="568.26" r="1.35" fill="#3a3a3a"/>
<circle cx="207.49" cy="577.70" r="1.35" fill="#3a3a3a"/>
<circle cx="207.86" cy="543.78" r="1.35" fill="#3a3a3a"/>
<circle cx="205.76" cy="540.86" r="1.35" fill="#3a3a3a"/>
<circle cx="207.83" cy="531.27" r="1.35" fill="#3a3a3a"/>
<circle cx="202.44" cy="565.81" r="1.35" fill="#3a3a3a"/>
<circle cx="204.70" cy="582.08" r="1.35" fill="#3a3a3a"/>
<circle cx="197.83" cy="523.91" r="1.35" fill="#3a3a3a"/>
<circle cx="202.98" cy="554.54" r="1.35" fill="#3a3a3a"/>
<circle cx="196.11" cy="596.84" r="1.35" fill="#3a3a3a"/>
<circle cx="205.88" cy="545.84" r="1.35" fill="#3a3a3a"/>
<circle cx="205.22" cy="560.38" r="1.35" fill="#3a3a3a"/>
<circle cx="203.31" cy="553.33" r="1.35" fill="#3a3a3a"/>
<circle cx="208.94" cy="590.87" r="1.35" fill="#3a3a3a"/>
<circle cx="201.88" cy="560.32" r="1.35" fill="#3a3a3a"/>
<circle cx="196.71" cy="584.12" r="1.35" fill="#3a3a3a"/>
<circle cx="206.33" cy="544.73" r="1.35" fill="#3a3a3a"/>
<circle cx="202.18" cy="553.76" r="1.35" fill="#3a3a3a"/>
<circle cx="202.75" cy="531.07" r="1.35" fill="#3a3a3a"/>
<circle cx="205.36" cy="529.13" r="1.35" fill="#3a3a3a"/>
<circle cx="200.06" cy="533.60" r="1.35" fill="#3a3a3a"/>
<circle cx="204.00" cy="512.50" r="1.35" fill="#3a3a3a"/>
<circle cx="208.00" cy="518.50" r="1.35" fill="#3a3a3a"/>
<text xml:space="preserve" x="195.50" y="505.60" font-size="12.6" text-anchor="middle" font-weight="bold" font-style="normal" fill="#000" stroke="#000" style="stroke-width:0.189px" >****</text>
<text xml:space="preserve" x="194.20" y="619.10" font-size="7.3" text-anchor="middle" font-weight="bold" font-style="normal" fill="#000" stroke="#000" style="stroke-width:0.110px" >IDH2w/NPM1m</text>
<text xml:space="preserve" x="194.20" y="627.30" font-size="7.3" text-anchor="middle" font-weight="bold" font-style="normal" fill="#000" stroke="#000" style="stroke-width:0.110px" >( 71 )</text>
<line x1="253.50" y1="609.60" x2="253.50" y2="612.10" stroke="#4d4d4d" stroke-width="1.1" />
<line x1="253.50" y1="516.30" x2="253.50" y2="567.00" stroke="#333" stroke-width="1" />
<rect x="231.40" y="522.80" width="44.60" height="21.40" fill="#4a8bd2" stroke="#2a2a2a" stroke-width="0.9"/>
<line x1="231.40" y1="539.90" x2="276.00" y2="539.90" stroke="#000" stroke-width="2.5" />
<circle cx="256.70" cy="521.50" r="1.35" fill="#3a3a3a"/>
<circle cx="256.70" cy="523.50" r="1.35" fill="#3a3a3a"/>
<circle cx="261.50" cy="518.50" r="1.35" fill="#3a3a3a"/>
<circle cx="260.80" cy="521.00" r="1.35" fill="#3a3a3a"/>
<circle cx="267.00" cy="516.00" r="1.35" fill="#3a3a3a"/>
<circle cx="267.50" cy="519.00" r="1.35" fill="#3a3a3a"/>
<circle cx="268.00" cy="523.00" r="1.35" fill="#3a3a3a"/>
<circle cx="259.50" cy="530.00" r="1.35" fill="#3a3a3a"/>
<circle cx="265.00" cy="532.00" r="1.35" fill="#3a3a3a"/>
<circle cx="266.50" cy="535.50" r="1.35" fill="#3a3a3a"/>
<circle cx="266.00" cy="537.50" r="1.35" fill="#3a3a3a"/>
<circle cx="260.00" cy="540.00" r="1.35" fill="#3a3a3a"/>
<circle cx="259.50" cy="541.50" r="1.35" fill="#3a3a3a"/>
<circle cx="266.00" cy="540.50" r="1.35" fill="#3a3a3a"/>
<circle cx="265.00" cy="543.00" r="1.35" fill="#3a3a3a"/>
<circle cx="262.50" cy="546.00" r="1.35" fill="#3a3a3a"/>
<circle cx="263.00" cy="554.80" r="1.35" fill="#3a3a3a"/>
<circle cx="268.00" cy="558.00" r="1.35" fill="#3a3a3a"/>
<circle cx="268.00" cy="561.50" r="1.35" fill="#3a3a3a"/>
<circle cx="259.50" cy="563.00" r="1.35" fill="#3a3a3a"/>
<circle cx="266.50" cy="567.00" r="1.35" fill="#3a3a3a"/>
<text xml:space="preserve" x="254.80" y="503.10" font-size="12.6" text-anchor="middle" font-weight="bold" font-style="normal" fill="#000" stroke="#000" style="stroke-width:0.189px" >****</text>
<text xml:space="preserve" x="253.50" y="619.10" font-size="7.3" text-anchor="middle" font-weight="bold" font-style="normal" fill="#000" stroke="#000" style="stroke-width:0.110px" >IDH2m/NPM1m</text>
<text xml:space="preserve" x="253.50" y="627.30" font-size="7.3" text-anchor="middle" font-weight="bold" font-style="normal" fill="#000" stroke="#000" style="stroke-width:0.110px" >( 23 )</text>
<text xml:space="preserve" x="92.70" y="639.80" font-size="11.0" text-anchor="start" font-weight="bold" font-style="normal" fill="#000" stroke="#000" style="stroke-width:0.165px" >IDH2/NPM1 mutation status</text>
<text xml:space="preserve" transform="translate(311.00,462.80) scale(0.92,1)" x="0" y="0" font-size="16.6" text-anchor="start" font-weight="bold" font-style="normal" fill="#000" stroke="#000" style="stroke-width:0.249px" >F</text>
<rect x="340.20" y="474.50" width="299.50" height="251.30" fill="#ebebeb" stroke="none" stroke-width="1"/>
<line x1="379.50" y1="474.50" x2="379.50" y2="725.80" stroke="#f5f5f5" stroke-width="0.55" />
<line x1="494.30" y1="474.50" x2="494.30" y2="725.80" stroke="#f5f5f5" stroke-width="0.55" />
<line x1="609.10" y1="474.50" x2="609.10" y2="725.80" stroke="#f5f5f5" stroke-width="0.55" />
<line x1="340.20" y1="681.77" x2="639.70" y2="681.77" stroke="#f5f5f5" stroke-width="0.55" />
<line x1="340.20" y1="617.12" x2="639.70" y2="617.12" stroke="#f5f5f5" stroke-width="0.55" />
<line x1="340.20" y1="552.48" x2="639.70" y2="552.48" stroke="#f5f5f5" stroke-width="0.55" />
<line x1="340.20" y1="487.83" x2="639.70" y2="487.83" stroke="#f5f5f5" stroke-width="0.55" />
<line x1="436.90" y1="474.50" x2="436.90" y2="725.80" stroke="#fbfbfb" stroke-width="0.85" />
<line x1="551.70" y1="474.50" x2="551.70" y2="725.80" stroke="#fbfbfb" stroke-width="0.85" />
<line x1="340.20" y1="714.10" x2="639.70" y2="714.10" stroke="#fbfbfb" stroke-width="0.85" />
<line x1="340.20" y1="649.45" x2="639.70" y2="649.45" stroke="#fbfbfb" stroke-width="0.85" />
<line x1="340.20" y1="584.80" x2="639.70" y2="584.80" stroke="#fbfbfb" stroke-width="0.85" />
<line x1="340.20" y1="520.15" x2="639.70" y2="520.15" stroke="#fbfbfb" stroke-width="0.85" />
<line x1="338.40" y1="714.10" x2="340.20" y2="714.10" stroke="#333" stroke-width="0.6" />
<text xml:space="preserve" x="337.00" y="716.30" font-size="6.2" text-anchor="end" font-weight="normal" font-style="normal" fill="#4d4d4d" stroke="#4d4d4d" style="stroke-width:0.000px" >0</text>
<line x1="338.40" y1="649.45" x2="340.20" y2="649.45" stroke="#333" stroke-width="0.6" />
<text xml:space="preserve" x="337.00" y="651.65" font-size="6.2" text-anchor="end" font-weight="normal" font-style="normal" fill="#4d4d4d" stroke="#4d4d4d" style="stroke-width:0.000px" >5</text>
<line x1="338.40" y1="584.80" x2="340.20" y2="584.80" stroke="#333" stroke-width="0.6" />
<text xml:space="preserve" x="337.00" y="587.00" font-size="6.2" text-anchor="end" font-weight="normal" font-style="normal" fill="#4d4d4d" stroke="#4d4d4d" style="stroke-width:0.000px" >10</text>
<line x1="338.40" y1="520.15" x2="340.20" y2="520.15" stroke="#333" stroke-width="0.6" />
<text xml:space="preserve" x="337.00" y="522.35" font-size="6.2" text-anchor="end" font-weight="normal" font-style="normal" fill="#4d4d4d" stroke="#4d4d4d" style="stroke-width:0.000px" >15</text>
<line x1="436.90" y1="725.80" x2="436.90" y2="727.60" stroke="#333" stroke-width="0.6" />
<text xml:space="preserve" x="436.90" y="734.20" font-size="6.2" text-anchor="middle" font-weight="normal" font-style="normal" fill="#4d4d4d" stroke="#4d4d4d" style="stroke-width:0.000px" >0.0</text>
<line x1="551.70" y1="725.80" x2="551.70" y2="727.60" stroke="#333" stroke-width="0.6" />
<text xml:space="preserve" x="551.70" y="734.20" font-size="6.2" text-anchor="middle" font-weight="normal" font-style="normal" fill="#4d4d4d" stroke="#4d4d4d" style="stroke-width:0.000px" >0.5</text>
<text xml:space="preserve" x="0" y="0" transform="translate(326.00,586.50) rotate(-90) scale(1.0,1)" font-size="7.3" text-anchor="middle" font-weight="bold" fill="#000" stroke="#000" style="stroke-width:0.110px">−log10(adjusted p−value)</text>
<text xml:space="preserve" x="465.20" y="744.50" font-size="7.0" text-anchor="start" font-weight="bold" font-style="normal" fill="#000" stroke="#000" style="stroke-width:0.000px" >Pearson correlation</text>
<line x1="340.20" y1="697.29" x2="639.70" y2="697.29" stroke="#3a3a3a" stroke-width="0.75" stroke-dasharray="2,1.6"/>
<line x1="359.70" y1="696.93" x2="360.30" y2="697.37" stroke="#302571" stroke-width="1.9" stroke-linecap="round"/>
<line x1="360.30" y1="697.37" x2="360.90" y2="697.80" stroke="#302571" stroke-width="1.9" stroke-linecap="round"/>
<line x1="360.90" y1="697.80" x2="361.50" y2="698.21" stroke="#302572" stroke-width="1.9" stroke-linecap="round"/>
<line x1="361.50" y1="698.21" x2="362.10" y2="698.62" stroke="#2f2572" stroke-width="1.9" stroke-linecap="round"/>
<line x1="362.10" y1="698.62" x2="362.70" y2="699.02" stroke="#2f2672" stroke-width="1.9" stroke-linecap="round"/>
<line x1="362.70" y1="699.02" x2="363.30" y2="699.41" stroke="#2f2673" stroke-width="1.9" stroke-linecap="round"/>
<line x1="363.30" y1="699.41" x2="363.90" y2="699.79" stroke="#2f2673" stroke-width="1.9" stroke-linecap="round"/>
<line x1="363.90" y1="699.79" x2="364.50" y2="700.17" stroke="#2e2674" stroke-width="1.9" stroke-linecap="round"/>
<line x1="364.50" y1="700.17" x2="365.10" y2="700.53" stroke="#2e2674" stroke-width="1.9" stroke-linecap="round"/>
<line x1="365.10" y1="700.53" x2="365.70" y2="700.89" stroke="#2e2674" stroke-width="1.9" stroke-linecap="round"/>
<line x1="365.70" y1="700.89" x2="366.30" y2="701.23" stroke="#2e2674" stroke-width="1.9" stroke-linecap="round"/>
<line x1="366.30" y1="701.23" x2="366.90" y2="701.57" stroke="#2d2775" stroke-width="1.9" stroke-linecap="round"/>
<line x1="366.90" y1="701.57" x2="367.50" y2="701.90" stroke="#2d2775" stroke-width="1.9" stroke-linecap="round"/>
<line x1="367.50" y1="701.90" x2="368.10" y2="702.23" stroke="#2d2775" stroke-width="1.9" stroke-linecap="round"/>
<line x1="368.10" y1="702.23" x2="368.70" y2="702.54" stroke="#2d2775" stroke-width="1.9" stroke-linecap="round"/>
<line x1="368.70" y1="702.54" x2="369.30" y2="702.85" stroke="#2d2875" stroke-width="1.9" stroke-linecap="round"/>
<line x1="369.30" y1="702.85" x2="369.90" y2="703.15" stroke="#2c2875" stroke-width="1.9" stroke-linecap="round"/>
<line x1="369.90" y1="703.15" x2="370.50" y2="703.45" stroke="#2c2875" stroke-width="1.9" stroke-linecap="round"/>
<line x1="370.50" y1="703.45" x2="371.10" y2="703.73" stroke="#2c2876" stroke-width="1.9" stroke-linecap="round"/>
<line x1="371.10" y1="703.73" x2="371.70" y2="704.02" stroke="#2c2876" stroke-width="1.9" stroke-linecap="round"/>
<line x1="371.70" y1="704.02" x2="372.30" y2="704.29" stroke="#2c2976" stroke-width="1.9" stroke-linecap="round"/>
<line x1="372.30" y1="704.29" x2="372.90" y2="704.56" stroke="#2c2976" stroke-width="1.9" stroke-linecap="round"/>
<line x1="372.90" y1="704.56" x2="373.50" y2="704.82" stroke="#2c2977" stroke-width="1.9" stroke-linecap="round"/>
<line x1="373.50" y1="704.82" x2="374.10" y2="705.08" stroke="#2c2977" stroke-width="1.9" stroke-linecap="round"/>
<line x1="374.10" y1="705.08" x2="374.70" y2="705.33" stroke="#2c2977" stroke-width="1.9" stroke-linecap="round"/>
<line x1="374.70" y1="705.33" x2="375.30" y2="705.57" stroke="#2c2977" stroke-width="1.9" stroke-linecap="round"/>
<line x1="375.30" y1="705.57" x2="375.90" y2="705.81" stroke="#2c2978" stroke-width="1.9" stroke-linecap="round"/>
<line x1="375.90" y1="705.81" x2="376.50" y2="706.04" stroke="#2b2978" stroke-width="1.9" stroke-linecap="round"/>
<line x1="376.50" y1="706.04" x2="377.10" y2="706.27" stroke="#2b2978" stroke-width="1.9" stroke-linecap="round"/>
<line x1="377.10" y1="706.27" x2="377.70" y2="706.49" stroke="#2b2978" stroke-width="1.9" stroke-linecap="round"/>
<line x1="377.70" y1="706.49" x2="378.30" y2="706.71" stroke="#2b2978" stroke-width="1.9" stroke-linecap="round"/>
<line x1="378.30" y1="706.71" x2="378.90" y2="706.92" stroke="#2b2a79" stroke-width="1.9" stroke-linecap="round"/>
<line x1="378.90" y1="706.92" x2="379.50" y2="707.13" stroke="#2b2a79" stroke-width="1.9" stroke-linecap="round"/>
<line x1="379.50" y1="707.13" x2="380.10" y2="707.33" stroke="#2b2a79" stroke-width="1.9" stroke-linecap="round"/>
<line x1="380.10" y1="707.33" x2="380.70" y2="707.52" stroke="#2a2a79" stroke-width="1.9" stroke-linecap="round"/>
<line x1="380.70" y1="707.52" x2="381.30" y2="707.72" stroke="#2a2a79" stroke-width="1.9" stroke-linecap="round"/>
<line x1="381.30" y1="707.72" x2="381.90" y2="707.91" stroke="#2a2a79" stroke-width="1.9" stroke-linecap="round"/>
<line x1="381.90" y1="707.91" x2="382.50" y2="708.09" stroke="#2a2b7a" stroke-width="1.9" stroke-linecap="round"/>
<line x1="382.50" y1="708.09" x2="383.10" y2="708.27" stroke="#2a2b7a" stroke-width="1.9" stroke-linecap="round"/>
<line x1="383.10" y1="708.27" x2="383.70" y2="708.45" stroke="#2a2b7a" stroke-width="1.9" stroke-linecap="round"/>
<line x1="383.70" y1="708.45" x2="384.30" y2="708.62" stroke="#2a2b7a" stroke-width="1.9" stroke-linecap="round"/>
<line x1="384.30" y1="708.62" x2="384.90" y2="708.79" stroke="#2a2b7a" stroke-width="1.9" stroke-linecap="round"/>
<line x1="384.90" y1="708.79" x2="385.50" y2="708.95" stroke="#292b7a" stroke-width="1.9" stroke-linecap="round"/>
<line x1="385.50" y1="708.95" x2="386.10" y2="709.11" stroke="#292b7b" stroke-width="1.9" stroke-linecap="round"/>
<line x1="386.10" y1="709.11" x2="386.70" y2="709.27" stroke="#292b7b" stroke-width="1.9" stroke-linecap="round"/>
<line x1="386.70" y1="709.27" x2="387.30" y2="709.42" stroke="#292b7b" stroke-width="1.9" stroke-linecap="round"/>
<line x1="387.30" y1="709.42" x2="387.90" y2="709.57" stroke="#292c7b" stroke-width="1.9" stroke-linecap="round"/>
<line x1="387.90" y1="709.57" x2="388.50" y2="709.72" stroke="#292c7b" stroke-width="1.9" stroke-linecap="round"/>
<line x1="388.50" y1="709.72" x2="389.10" y2="709.86" stroke="#292c7b" stroke-width="1.9" stroke-linecap="round"/>
<line x1="389.10" y1="709.86" x2="389.70" y2="710.00" stroke="#292c7b" stroke-width="1.9" stroke-linecap="round"/>
<line x1="389.70" y1="710.00" x2="390.30" y2="710.14" stroke="#292c7b" stroke-width="1.9" stroke-linecap="round"/>
<line x1="390.30" y1="710.14" x2="390.90" y2="710.27" stroke="#292c7c" stroke-width="1.9" stroke-linecap="round"/>
<line x1="390.90" y1="710.27" x2="391.50" y2="710.40" stroke="#282c7c" stroke-width="1.9" stroke-linecap="round"/>
<line x1="391.50" y1="710.40" x2="392.10" y2="710.53" stroke="#282c7c" stroke-width="1.9" stroke-linecap="round"/>
<line x1="392.10" y1="710.53" x2="392.70" y2="710.66" stroke="#282c7c" stroke-width="1.9" stroke-linecap="round"/>
<line x1="392.70" y1="710.66" x2="393.30" y2="710.78" stroke="#282c7c" stroke-width="1.9" stroke-linecap="round"/>
<line x1="393.30" y1="710.78" x2="393.90" y2="710.90" stroke="#282c7c" stroke-width="1.9" stroke-linecap="round"/>
<line x1="393.90" y1="710.90" x2="394.50" y2="711.02" stroke="#282c7c" stroke-width="1.9" stroke-linecap="round"/>
<line x1="394.50" y1="711.02" x2="395.10" y2="711.13" stroke="#282c7c" stroke-width="1.9" stroke-linecap="round"/>
<line x1="395.10" y1="711.13" x2="395.70" y2="711.24" stroke="#282c7c" stroke-width="1.9" stroke-linecap="round"/>
<line x1="395.70" y1="711.24" x2="396.30" y2="711.35" stroke="#282c7c" stroke-width="1.9" stroke-linecap="round"/>
<line x1="396.30" y1="711.35" x2="396.90" y2="711.46" stroke="#282c7c" stroke-width="1.9" stroke-linecap="round"/>
<line x1="396.90" y1="711.46" x2="397.50" y2="711.57" stroke="#282c7c" stroke-width="1.9" stroke-linecap="round"/>
<line x1="397.50" y1="711.57" x2="398.10" y2="711.67" stroke="#282c7c" stroke-width="1.9" stroke-linecap="round"/>
<line x1="398.10" y1="711.67" x2="398.70" y2="711.77" stroke="#282c7c" stroke-width="1.9" stroke-linecap="round"/>
<line x1="398.70" y1="711.77" x2="399.30" y2="711.87" stroke="#282c7c" stroke-width="1.9" stroke-linecap="round"/>
<line x1="399.30" y1="711.87" x2="399.90" y2="711.96" stroke="#272c7c" stroke-width="1.9" stroke-linecap="round"/>
<line x1="399.90" y1="711.96" x2="400.50" y2="712.06" stroke="#272c7c" stroke-width="1.9" stroke-linecap="round"/>
<line x1="400.50" y1="712.06" x2="401.10" y2="712.15" stroke="#272d7c" stroke-width="1.9" stroke-linecap="round"/>
<line x1="401.10" y1="712.15" x2="401.70" y2="712.24" stroke="#272d7c" stroke-width="1.9" stroke-linecap="round"/>
<line x1="401.70" y1="712.24" x2="402.30" y2="712.33" stroke="#272d7c" stroke-width="1.9" stroke-linecap="round"/>
<line x1="402.30" y1="712.33" x2="402.90" y2="712.42" stroke="#272d7c" stroke-width="1.9" stroke-linecap="round"/>
<line x1="402.90" y1="712.42" x2="403.50" y2="712.50" stroke="#272d7d" stroke-width="1.9" stroke-linecap="round"/>
<line x1="403.50" y1="712.50" x2="404.10" y2="712.59" stroke="#272d7d" stroke-width="1.9" stroke-linecap="round"/>
<line x1="404.10" y1="712.59" x2="404.70" y2="712.67" stroke="#272d7d" stroke-width="1.9" stroke-linecap="round"/>
<line x1="404.70" y1="712.67" x2="405.30" y2="712.75" stroke="#272d7d" stroke-width="1.9" stroke-linecap="round"/>
<line x1="405.30" y1="712.75" x2="405.90" y2="712.83" stroke="#272d7d" stroke-width="1.9" stroke-linecap="round"/>
<line x1="405.90" y1="712.83" x2="406.50" y2="712.90" stroke="#272d7d" stroke-width="1.9" stroke-linecap="round"/>
<line x1="406.50" y1="712.90" x2="407.10" y2="712.98" stroke="#272d7d" stroke-width="1.9" stroke-linecap="round"/>
<line x1="407.10" y1="712.98" x2="407.70" y2="713.05" stroke="#272d7d" stroke-width="1.9" stroke-linecap="round"/>
<line x1="407.70" y1="713.05" x2="408.30" y2="713.12" stroke="#272d7d" stroke-width="1.9" stroke-linecap="round"/>
<line x1="408.30" y1="713.12" x2="408.90" y2="713.19" stroke="#272d7d" stroke-width="1.9" stroke-linecap="round"/>
<line x1="408.90" y1="713.19" x2="409.50" y2="713.26" stroke="#272d7d" stroke-width="1.9" stroke-linecap="round"/>
<line x1="409.50" y1="713.26" x2="410.10" y2="713.33" stroke="#272d7d" stroke-width="1.9" stroke-linecap="round"/>
<line x1="410.10" y1="713.33" x2="410.70" y2="713.40" stroke="#262d7d" stroke-width="1.9" stroke-linecap="round"/>
<line x1="410.70" y1="713.40" x2="411.30" y2="713.46" stroke="#262e7d" stroke-width="1.9" stroke-linecap="round"/>
<line x1="411.30" y1="713.46" x2="411.90" y2="713.52" stroke="#262e7d" stroke-width="1.9" stroke-linecap="round"/>
<line x1="411.90" y1="713.52" x2="412.50" y2="713.58" stroke="#262e7e" stroke-width="1.9" stroke-linecap="round"/>
<line x1="412.50" y1="713.58" x2="413.10" y2="713.65" stroke="#262e7e" stroke-width="1.9" stroke-linecap="round"/>
<line x1="413.10" y1="713.65" x2="413.70" y2="713.70" stroke="#262e7e" stroke-width="1.9" stroke-linecap="round"/>
<line x1="413.70" y1="713.70" x2="414.30" y2="713.76" stroke="#262e7e" stroke-width="1.9" stroke-linecap="round"/>
<line x1="414.30" y1="713.76" x2="414.90" y2="713.82" stroke="#262e7e" stroke-width="1.9" stroke-linecap="round"/>
<line x1="414.90" y1="713.82" x2="415.50" y2="713.87" stroke="#262e7e" stroke-width="1.9" stroke-linecap="round"/>
<line x1="415.50" y1="713.87" x2="416.10" y2="713.93" stroke="#262e7e" stroke-width="1.9" stroke-linecap="round"/>
<line x1="416.10" y1="713.93" x2="416.70" y2="713.98" stroke="#262e7e" stroke-width="1.9" stroke-linecap="round"/>
<line x1="416.70" y1="713.98" x2="417.30" y2="714.03" stroke="#262e7e" stroke-width="1.9" stroke-linecap="round"/>
<line x1="417.30" y1="714.03" x2="417.90" y2="714.08" stroke="#262e7e" stroke-width="1.9" stroke-linecap="round"/>
<line x1="417.90" y1="714.08" x2="418.50" y2="714.13" stroke="#262e7e" stroke-width="1.9" stroke-linecap="round"/>
<line x1="418.50" y1="714.13" x2="419.10" y2="714.18" stroke="#262e7e" stroke-width="1.9" stroke-linecap="round"/>
<line x1="419.10" y1="714.18" x2="419.70" y2="714.23" stroke="#262e7e" stroke-width="1.9" stroke-linecap="round"/>
<line x1="419.70" y1="714.23" x2="420.30" y2="714.27" stroke="#262e7e" stroke-width="1.9" stroke-linecap="round"/>
<line x1="420.30" y1="714.27" x2="420.90" y2="714.31" stroke="#262e7e" stroke-width="1.9" stroke-linecap="round"/>
<line x1="420.90" y1="714.31" x2="421.50" y2="714.36" stroke="#262e7e" stroke-width="1.9" stroke-linecap="round"/>
<line x1="421.50" y1="714.36" x2="422.10" y2="714.40" stroke="#262e7e" stroke-width="1.9" stroke-linecap="round"/>
<line x1="422.10" y1="714.40" x2="422.70" y2="714.44" stroke="#262e7e" stroke-width="1.9" stroke-linecap="round"/>
<line x1="422.70" y1="714.44" x2="423.30" y2="714.48" stroke="#262e7e" stroke-width="1.9" stroke-linecap="round"/>
<line x1="423.30" y1="714.48" x2="423.90" y2="714.52" stroke="#262e7e" stroke-width="1.9" stroke-linecap="round"/>
<line x1="423.90" y1="714.52" x2="424.50" y2="714.55" stroke="#262e7e" stroke-width="1.9" stroke-linecap="round"/>
<line x1="424.50" y1="714.55" x2="425.10" y2="714.59" stroke="#262e7e" stroke-width="1.9" stroke-linecap="round"/>
<line x1="425.10" y1="714.59" x2="425.70" y2="714.62" stroke="#262e7e" stroke-width="1.9" stroke-linecap="round"/>
<line x1="425.70" y1="714.62" x2="426.30" y2="714.66" stroke="#262e7e" stroke-width="1.9" stroke-linecap="round"/>
<line x1="426.30" y1="714.66" x2="426.90" y2="714.69" stroke="#262e7e" stroke-width="1.9" stroke-linecap="round"/>
<line x1="426.90" y1="714.69" x2="427.50" y2="714.72" stroke="#262e7e" stroke-width="1.9" stroke-linecap="round"/>
<line x1="427.50" y1="714.72" x2="428.10" y2="714.75" stroke="#262e7e" stroke-width="1.9" stroke-linecap="round"/>
<line x1="428.10" y1="714.75" x2="428.70" y2="714.78" stroke="#262e7e" stroke-width="1.9" stroke-linecap="round"/>
<line x1="428.70" y1="714.78" x2="429.30" y2="714.81" stroke="#262e7e" stroke-width="1.9" stroke-linecap="round"/>
<line x1="429.30" y1="714.81" x2="429.90" y2="714.83" stroke="#262e7e" stroke-width="1.9" stroke-linecap="round"/>
<line x1="429.90" y1="714.83" x2="430.50" y2="714.86" stroke="#262e7e" stroke-width="1.9" stroke-linecap="round"/>
<line x1="430.50" y1="714.86" x2="431.10" y2="714.88" stroke="#262e7e" stroke-width="1.9" stroke-linecap="round"/>
<line x1="431.10" y1="714.88" x2="431.70" y2="714.90" stroke="#262e7e" stroke-width="1.9" stroke-linecap="round"/>
<line x1="431.70" y1="714.90" x2="432.30" y2="714.92" stroke="#262e7e" stroke-width="1.9" stroke-linecap="round"/>
<line x1="432.30" y1="714.92" x2="432.90" y2="714.94" stroke="#262e7e" stroke-width="1.9" stroke-linecap="round"/>
<line x1="432.90" y1="714.94" x2="433.50" y2="714.96" stroke="#262e7e" stroke-width="1.9" stroke-linecap="round"/>
<line x1="433.50" y1="714.96" x2="434.10" y2="714.98" stroke="#262e7e" stroke-width="1.9" stroke-linecap="round"/>
<line x1="434.10" y1="714.98" x2="434.70" y2="715.00" stroke="#262e7e" stroke-width="1.9" stroke-linecap="round"/>
<line x1="434.70" y1="715.00" x2="435.30" y2="715.01" stroke="#262e7e" stroke-width="1.9" stroke-linecap="round"/>
<line x1="435.30" y1="715.01" x2="435.90" y2="715.02" stroke="#262e7e" stroke-width="1.9" stroke-linecap="round"/>
<line x1="435.90" y1="715.02" x2="436.50" y2="715.04" stroke="#262e7e" stroke-width="1.9" stroke-linecap="round"/>
<line x1="436.50" y1="715.04" x2="437.10" y2="715.05" stroke="#262e7e" stroke-width="1.9" stroke-linecap="round"/>
<line x1="437.10" y1="715.05" x2="437.70" y2="715.06" stroke="#262e7e" stroke-width="1.9" stroke-linecap="round"/>
<line x1="437.70" y1="715.06" x2="438.30" y2="715.06" stroke="#262e7e" stroke-width="1.9" stroke-linecap="round"/>
<line x1="438.30" y1="715.06" x2="438.90" y2="715.07" stroke="#262e7e" stroke-width="1.9" stroke-linecap="round"/>
<line x1="438.90" y1="715.07" x2="439.50" y2="715.07" stroke="#262e7e" stroke-width="1.9" stroke-linecap="round"/>
<line x1="439.50" y1="715.07" x2="440.10" y2="715.08" stroke="#262e7e" stroke-width="1.9" stroke-linecap="round"/>
<line x1="440.10" y1="715.08" x2="440.70" y2="715.08" stroke="#262e7e" stroke-width="1.9" stroke-linecap="round"/>
<line x1="440.70" y1="715.08" x2="441.30" y2="715.08" stroke="#262e7e" stroke-width="1.9" stroke-linecap="round"/>
<line x1="441.30" y1="715.08" x2="441.90" y2="715.08" stroke="#262e7e" stroke-width="1.9" stroke-linecap="round"/>
<line x1="441.90" y1="715.08" x2="442.50" y2="715.08" stroke="#262e7e" stroke-width="1.9" stroke-linecap="round"/>
<line x1="442.50" y1="715.08" x2="443.10" y2="715.07" stroke="#262e7e" stroke-width="1.9" stroke-linecap="round"/>
<line x1="443.10" y1="715.07" x2="443.70" y2="715.07" stroke="#262e7e" stroke-width="1.9" stroke-linecap="round"/>
<line x1="443.70" y1="715.07" x2="444.30" y2="715.06" stroke="#262e7e" stroke-width="1.9" stroke-linecap="round"/>
<line x1="444.30" y1="715.06" x2="444.90" y2="715.05" stroke="#262e7e" stroke-width="1.9" stroke-linecap="round"/>
<line x1="444.90" y1="715.05" x2="445.50" y2="715.04" stroke="#262e7e" stroke-width="1.9" stroke-linecap="round"/>
<line x1="445.50" y1="715.04" x2="446.10" y2="715.03" stroke="#262e7e" stroke-width="1.9" stroke-linecap="round"/>
<line x1="446.10" y1="715.03" x2="446.70" y2="715.01" stroke="#262e7e" stroke-width="1.9" stroke-linecap="round"/>
<line x1="446.70" y1="715.01" x2="447.30" y2="715.00" stroke="#262e7e" stroke-width="1.9" stroke-linecap="round"/>
<line x1="447.30" y1="715.00" x2="447.90" y2="714.98" stroke="#262e7e" stroke-width="1.9" stroke-linecap="round"/>
<line x1="447.90" y1="714.98" x2="448.50" y2="714.96" stroke="#262e7e" stroke-width="1.9" stroke-linecap="round"/>
<line x1="448.50" y1="714.96" x2="449.10" y2="714.94" stroke="#262e7e" stroke-width="1.9" stroke-linecap="round"/>
<line x1="449.10" y1="714.94" x2="449.70" y2="714.92" stroke="#262e7e" stroke-width="1.9" stroke-linecap="round"/>
<line x1="449.70" y1="714.92" x2="450.30" y2="714.90" stroke="#262e7e" stroke-width="1.9" stroke-linecap="round"/>
<line x1="450.30" y1="714.90" x2="450.90" y2="714.87" stroke="#262e7e" stroke-width="1.9" stroke-linecap="round"/>
<line x1="450.90" y1="714.87" x2="451.50" y2="714.84" stroke="#262e7e" stroke-width="1.9" stroke-linecap="round"/>
<line x1="451.50" y1="714.84" x2="452.10" y2="714.81" stroke="#262e7e" stroke-width="1.9" stroke-linecap="round"/>
<line x1="452.10" y1="714.81" x2="452.70" y2="714.78" stroke="#262e7e" stroke-width="1.9" stroke-linecap="round"/>
<line x1="452.70" y1="714.78" x2="453.30" y2="714.75" stroke="#262e7e" stroke-width="1.9" stroke-linecap="round"/>
<line x1="453.30" y1="714.75" x2="453.90" y2="714.71" stroke="#262e7e" stroke-width="1.9" stroke-linecap="round"/>
<line x1="453.90" y1="714.71" x2="454.50" y2="714.67" stroke="#262e7e" stroke-width="1.9" stroke-linecap="round"/>
<line x1="454.50" y1="714.67" x2="455.10" y2="714.64" stroke="#262e7e" stroke-width="1.9" stroke-linecap="round"/>
<line x1="455.10" y1="714.64" x2="455.70" y2="714.59" stroke="#262e7e" stroke-width="1.9" stroke-linecap="round"/>
<line x1="455.70" y1="714.59" x2="456.30" y2="714.55" stroke="#262e7e" stroke-width="1.9" stroke-linecap="round"/>
<line x1="456.30" y1="714.55" x2="456.90" y2="714.51" stroke="#262e7e" stroke-width="1.9" stroke-linecap="round"/>
<line x1="456.90" y1="714.51" x2="457.50" y2="714.46" stroke="#262e7e" stroke-width="1.9" stroke-linecap="round"/>
<line x1="457.50" y1="714.46" x2="458.10" y2="714.41" stroke="#262e7e" stroke-width="1.9" stroke-linecap="round"/>
<line x1="458.10" y1="714.41" x2="458.70" y2="714.36" stroke="#262e7e" stroke-width="1.9" stroke-linecap="round"/>
<line x1="458.70" y1="714.36" x2="459.30" y2="714.30" stroke="#262e7e" stroke-width="1.9" stroke-linecap="round"/>
<line x1="459.30" y1="714.30" x2="459.90" y2="714.25" stroke="#262e7e" stroke-width="1.9" stroke-linecap="round"/>
<line x1="459.90" y1="714.25" x2="460.50" y2="714.19" stroke="#262e7e" stroke-width="1.9" stroke-linecap="round"/>
<line x1="460.50" y1="714.19" x2="461.10" y2="714.13" stroke="#262e7e" stroke-width="1.9" stroke-linecap="round"/>
<line x1="461.10" y1="714.13" x2="461.70" y2="714.06" stroke="#262e7e" stroke-width="1.9" stroke-linecap="round"/>
<line x1="461.70" y1="714.06" x2="462.30" y2="714.00" stroke="#262e7e" stroke-width="1.9" stroke-linecap="round"/>
<line x1="462.30" y1="714.00" x2="462.90" y2="713.93" stroke="#262e7e" stroke-width="1.9" stroke-linecap="round"/>
<line x1="462.90" y1="713.93" x2="463.50" y2="713.86" stroke="#262e7e" stroke-width="1.9" stroke-linecap="round"/>
<line x1="463.50" y1="713.86" x2="464.10" y2="713.79" stroke="#262e7e" stroke-width="1.9" stroke-linecap="round"/>
<line x1="464.10" y1="713.79" x2="464.70" y2="713.72" stroke="#262e7e" stroke-width="1.9" stroke-linecap="round"/>
<line x1="464.70" y1="713.72" x2="465.30" y2="713.64" stroke="#262e7e" stroke-width="1.9" stroke-linecap="round"/>
<line x1="465.30" y1="713.64" x2="465.90" y2="713.56" stroke="#262e7e" stroke-width="1.9" stroke-linecap="round"/>
<line x1="465.90" y1="713.56" x2="466.50" y2="713.48" stroke="#262e7d" stroke-width="1.9" stroke-linecap="round"/>
<line x1="466.50" y1="713.48" x2="467.10" y2="713.39" stroke="#262e7d" stroke-width="1.9" stroke-linecap="round"/>
<line x1="467.10" y1="713.39" x2="467.70" y2="713.31" stroke="#262d7d" stroke-width="1.9" stroke-linecap="round"/>
<line x1="467.70" y1="713.31" x2="468.30" y2="713.22" stroke="#272d7d" stroke-width="1.9" stroke-linecap="round"/>
<line x1="468.30" y1="713.22" x2="468.90" y2="713.12" stroke="#272d7d" stroke-width="1.9" stroke-linecap="round"/>
<line x1="468.90" y1="713.12" x2="469.50" y2="713.03" stroke="#272d7d" stroke-width="1.9" stroke-linecap="round"/>
<line x1="469.50" y1="713.03" x2="470.10" y2="712.93" stroke="#272d7d" stroke-width="1.9" stroke-linecap="round"/>
<line x1="470.10" y1="712.93" x2="470.70" y2="712.83" stroke="#272d7d" stroke-width="1.9" stroke-linecap="round"/>
<line x1="470.70" y1="712.83" x2="471.30" y2="712.73" stroke="#272d7d" stroke-width="1.9" stroke-linecap="round"/>
<line x1="471.30" y1="712.73" x2="471.90" y2="712.62" stroke="#272d7d" stroke-width="1.9" stroke-linecap="round"/>
<line x1="471.90" y1="712.62" x2="472.50" y2="712.52" stroke="#272d7d" stroke-width="1.9" stroke-linecap="round"/>
<line x1="472.50" y1="712.52" x2="473.10" y2="712.40" stroke="#272d7d" stroke-width="1.9" stroke-linecap="round"/>
<line x1="473.10" y1="712.40" x2="473.70" y2="712.29" stroke="#272d7c" stroke-width="1.9" stroke-linecap="round"/>
<line x1="473.70" y1="712.29" x2="474.30" y2="712.17" stroke="#272d7c" stroke-width="1.9" stroke-linecap="round"/>
<line x1="474.30" y1="712.17" x2="474.90" y2="712.05" stroke="#272d7c" stroke-width="1.9" stroke-linecap="round"/>
<line x1="474.90" y1="712.05" x2="475.50" y2="711.93" stroke="#272c7c" stroke-width="1.9" stroke-linecap="round"/>
<line x1="475.50" y1="711.93" x2="476.10" y2="711.81" stroke="#272c7c" stroke-width="1.9" stroke-linecap="round"/>
<line x1="476.10" y1="711.81" x2="476.70" y2="711.68" stroke="#282c7c" stroke-width="1.9" stroke-linecap="round"/>
<line x1="476.70" y1="711.68" x2="477.30" y2="711.55" stroke="#282c7c" stroke-width="1.9" stroke-linecap="round"/>
<line x1="477.30" y1="711.55" x2="477.90" y2="711.41" stroke="#282c7c" stroke-width="1.9" stroke-linecap="round"/>
<line x1="477.90" y1="711.41" x2="478.50" y2="711.28" stroke="#282c7c" stroke-width="1.9" stroke-linecap="round"/>
<line x1="478.50" y1="711.28" x2="479.10" y2="711.14" stroke="#282c7c" stroke-width="1.9" stroke-linecap="round"/>
<line x1="479.10" y1="711.14" x2="479.70" y2="710.99" stroke="#282c7c" stroke-width="1.9" stroke-linecap="round"/>
<line x1="479.70" y1="710.99" x2="480.30" y2="710.85" stroke="#282c7c" stroke-width="1.9" stroke-linecap="round"/>
<line x1="480.30" y1="710.85" x2="480.90" y2="710.70" stroke="#282c7c" stroke-width="1.9" stroke-linecap="round"/>
<line x1="480.90" y1="710.70" x2="481.50" y2="710.54" stroke="#282c7c" stroke-width="1.9" stroke-linecap="round"/>
<line x1="481.50" y1="710.54" x2="482.10" y2="710.39" stroke="#282c7c" stroke-width="1.9" stroke-linecap="round"/>
<line x1="482.10" y1="710.39" x2="482.70" y2="710.23" stroke="#292c7c" stroke-width="1.9" stroke-linecap="round"/>
<line x1="482.70" y1="710.23" x2="483.30" y2="710.07" stroke="#292c7c" stroke-width="1.9" stroke-linecap="round"/>
<line x1="483.30" y1="710.07" x2="483.90" y2="709.90" stroke="#292c7b" stroke-width="1.9" stroke-linecap="round"/>
<line x1="483.90" y1="709.90" x2="484.50" y2="709.73" stroke="#292c7b" stroke-width="1.9" stroke-linecap="round"/>
<line x1="484.50" y1="709.73" x2="485.10" y2="709.56" stroke="#292c7b" stroke-width="1.9" stroke-linecap="round"/>
<line x1="485.10" y1="709.56" x2="485.70" y2="709.38" stroke="#292c7b" stroke-width="1.9" stroke-linecap="round"/>
<line x1="485.70" y1="709.38" x2="486.30" y2="709.21" stroke="#292b7b" stroke-width="1.9" stroke-linecap="round"/>
<line x1="486.30" y1="709.21" x2="486.90" y2="709.02" stroke="#292b7b" stroke-width="1.9" stroke-linecap="round"/>
<line x1="486.90" y1="709.02" x2="487.50" y2="708.84" stroke="#292b7a" stroke-width="1.9" stroke-linecap="round"/>
<line x1="487.50" y1="708.84" x2="488.10" y2="708.65" stroke="#2a2b7a" stroke-width="1.9" stroke-linecap="round"/>
<line x1="488.10" y1="708.65" x2="488.70" y2="708.46" stroke="#2a2b7a" stroke-width="1.9" stroke-linecap="round"/>
<line x1="488.70" y1="708.46" x2="489.30" y2="708.26" stroke="#2a2b7a" stroke-width="1.9" stroke-linecap="round"/>
<line x1="489.30" y1="708.26" x2="489.90" y2="708.06" stroke="#2a2b7a" stroke-width="1.9" stroke-linecap="round"/>
<line x1="489.90" y1="708.06" x2="490.50" y2="707.86" stroke="#2a2a7a" stroke-width="1.9" stroke-linecap="round"/>
<line x1="490.50" y1="707.86" x2="491.10" y2="707.65" stroke="#2a2a79" stroke-width="1.9" stroke-linecap="round"/>
<line x1="491.10" y1="707.65" x2="491.70" y2="707.44" stroke="#2a2a79" stroke-width="1.9" stroke-linecap="round"/>
<line x1="491.70" y1="707.44" x2="492.30" y2="707.23" stroke="#2a2a79" stroke-width="1.9" stroke-linecap="round"/>
<line x1="492.30" y1="707.23" x2="492.90" y2="707.01" stroke="#2b2a79" stroke-width="1.9" stroke-linecap="round"/>
<line x1="492.90" y1="707.01" x2="493.50" y2="706.79" stroke="#2b2a79" stroke-width="1.9" stroke-linecap="round"/>
<line x1="493.50" y1="706.79" x2="494.10" y2="706.56" stroke="#2b2a78" stroke-width="1.9" stroke-linecap="round"/>
<line x1="494.10" y1="706.56" x2="494.70" y2="706.33" stroke="#2b2978" stroke-width="1.9" stroke-linecap="round"/>
<line x1="494.70" y1="706.33" x2="495.30" y2="706.10" stroke="#2b2978" stroke-width="1.9" stroke-linecap="round"/>
<line x1="495.30" y1="706.10" x2="495.90" y2="705.87" stroke="#2b2978" stroke-width="1.9" stroke-linecap="round"/>
<line x1="495.90" y1="705.87" x2="496.50" y2="705.63" stroke="#2c2978" stroke-width="1.9" stroke-linecap="round"/>
<line x1="496.50" y1="705.63" x2="497.10" y2="705.38" stroke="#2c2977" stroke-width="1.9" stroke-linecap="round"/>
<line x1="497.10" y1="705.38" x2="497.70" y2="705.13" stroke="#2c2977" stroke-width="1.9" stroke-linecap="round"/>
<line x1="497.70" y1="705.13" x2="498.30" y2="704.88" stroke="#2c2977" stroke-width="1.9" stroke-linecap="round"/>
<line x1="498.30" y1="704.88" x2="498.90" y2="704.63" stroke="#2c2977" stroke-width="1.9" stroke-linecap="round"/>
<line x1="498.90" y1="704.63" x2="499.50" y2="704.37" stroke="#2c2977" stroke-width="1.9" stroke-linecap="round"/>
<line x1="499.50" y1="704.37" x2="500.10" y2="704.10" stroke="#2c2976" stroke-width="1.9" stroke-linecap="round"/>
<line x1="500.10" y1="704.10" x2="500.70" y2="703.84" stroke="#2c2976" stroke-width="1.9" stroke-linecap="round"/>
<line x1="500.70" y1="703.84" x2="501.30" y2="703.57" stroke="#2c2876" stroke-width="1.9" stroke-linecap="round"/>
<line x1="501.30" y1="703.57" x2="501.90" y2="703.29" stroke="#2c2876" stroke-width="1.9" stroke-linecap="round"/>
<line x1="501.90" y1="703.29" x2="502.50" y2="703.01" stroke="#2c2875" stroke-width="1.9" stroke-linecap="round"/>
<line x1="502.50" y1="703.01" x2="503.10" y2="702.73" stroke="#2c2875" stroke-width="1.9" stroke-linecap="round"/>
<line x1="503.10" y1="702.73" x2="503.70" y2="702.44" stroke="#2d2875" stroke-width="1.9" stroke-linecap="round"/>
<line x1="503.70" y1="702.44" x2="504.30" y2="702.15" stroke="#2d2775" stroke-width="1.9" stroke-linecap="round"/>
<line x1="504.30" y1="702.15" x2="504.90" y2="701.85" stroke="#2d2775" stroke-width="1.9" stroke-linecap="round"/>
<line x1="504.90" y1="701.85" x2="505.50" y2="701.55" stroke="#2d2775" stroke-width="1.9" stroke-linecap="round"/>
<line x1="505.50" y1="701.55" x2="506.10" y2="701.25" stroke="#2d2775" stroke-width="1.9" stroke-linecap="round"/>
<line x1="506.10" y1="701.25" x2="506.70" y2="700.94" stroke="#2e2675" stroke-width="1.9" stroke-linecap="round"/>
<line x1="506.70" y1="700.94" x2="507.30" y2="700.63" stroke="#2e2674" stroke-width="1.9" stroke-linecap="round"/>
<line x1="507.30" y1="700.63" x2="507.90" y2="700.31" stroke="#2e2674" stroke-width="1.9" stroke-linecap="round"/>
<line x1="507.90" y1="700.31" x2="508.50" y2="699.99" stroke="#2e2674" stroke-width="1.9" stroke-linecap="round"/>
<line x1="508.50" y1="699.99" x2="509.10" y2="699.66" stroke="#2e2673" stroke-width="1.9" stroke-linecap="round"/>
<line x1="509.10" y1="699.66" x2="509.70" y2="699.33" stroke="#2f2673" stroke-width="1.9" stroke-linecap="round"/>
<line x1="509.70" y1="699.33" x2="510.30" y2="699.00" stroke="#2f2673" stroke-width="1.9" stroke-linecap="round"/>
<line x1="510.30" y1="699.00" x2="510.90" y2="698.66" stroke="#2f2673" stroke-width="1.9" stroke-linecap="round"/>
<line x1="510.90" y1="698.66" x2="511.50" y2="698.32" stroke="#2f2572" stroke-width="1.9" stroke-linecap="round"/>
<line x1="511.50" y1="698.32" x2="512.10" y2="697.97" stroke="#302572" stroke-width="1.9" stroke-linecap="round"/>
<line x1="512.10" y1="697.97" x2="512.70" y2="697.62" stroke="#302572" stroke-width="1.9" stroke-linecap="round"/>
<line x1="512.70" y1="697.62" x2="513.30" y2="697.26" stroke="#302571" stroke-width="1.9" stroke-linecap="round"/>
<line x1="513.30" y1="697.26" x2="513.90" y2="696.90" stroke="#302471" stroke-width="1.9" stroke-linecap="round"/>
<line x1="513.90" y1="696.90" x2="514.50" y2="696.53" stroke="#312471" stroke-width="1.9" stroke-linecap="round"/>
<line x1="514.50" y1="696.53" x2="515.10" y2="696.16" stroke="#312470" stroke-width="1.9" stroke-linecap="round"/>
<line x1="515.10" y1="696.16" x2="515.70" y2="695.79" stroke="#312470" stroke-width="1.9" stroke-linecap="round"/>
<line x1="515.70" y1="695.79" x2="516.30" y2="695.41" stroke="#312370" stroke-width="1.9" stroke-linecap="round"/>
<line x1="516.30" y1="695.41" x2="516.90" y2="695.02" stroke="#32236f" stroke-width="1.9" stroke-linecap="round"/>
<line x1="516.90" y1="695.02" x2="517.50" y2="694.63" stroke="#32236f" stroke-width="1.9" stroke-linecap="round"/>
<line x1="517.50" y1="694.63" x2="518.10" y2="694.24" stroke="#32236f" stroke-width="1.9" stroke-linecap="round"/>
<line x1="518.10" y1="694.24" x2="518.70" y2="693.84" stroke="#32236e" stroke-width="1.9" stroke-linecap="round"/>
<line x1="518.70" y1="693.84" x2="519.30" y2="693.44" stroke="#33236e" stroke-width="1.9" stroke-linecap="round"/>
<line x1="519.30" y1="693.44" x2="519.90" y2="693.03" stroke="#33236e" stroke-width="1.9" stroke-linecap="round"/>
<line x1="519.90" y1="693.03" x2="520.50" y2="692.62" stroke="#33226e" stroke-width="1.9" stroke-linecap="round"/>
<line x1="520.50" y1="692.62" x2="521.10" y2="692.20" stroke="#33226e" stroke-width="1.9" stroke-linecap="round"/>
<line x1="521.10" y1="692.20" x2="521.70" y2="691.77" stroke="#33226d" stroke-width="1.9" stroke-linecap="round"/>
<line x1="521.70" y1="691.77" x2="522.30" y2="691.35" stroke="#33216d" stroke-width="1.9" stroke-linecap="round"/>
<line x1="522.30" y1="691.35" x2="522.90" y2="690.91" stroke="#33216d" stroke-width="1.9" stroke-linecap="round"/>
<line x1="522.90" y1="690.91" x2="523.50" y2="690.48" stroke="#34216c" stroke-width="1.9" stroke-linecap="round"/>
<line x1="523.50" y1="690.48" x2="524.10" y2="690.03" stroke="#34206c" stroke-width="1.9" stroke-linecap="round"/>
<line x1="524.10" y1="690.03" x2="524.70" y2="689.59" stroke="#34206c" stroke-width="1.9" stroke-linecap="round"/>
<line x1="524.70" y1="689.59" x2="525.30" y2="689.13" stroke="#34206b" stroke-width="1.9" stroke-linecap="round"/>
<line x1="525.30" y1="689.13" x2="525.90" y2="688.68" stroke="#35206b" stroke-width="1.9" stroke-linecap="round"/>
<line x1="525.90" y1="688.68" x2="526.50" y2="688.21" stroke="#35206a" stroke-width="1.9" stroke-linecap="round"/>
<line x1="526.50" y1="688.21" x2="527.10" y2="687.74" stroke="#35206a" stroke-width="1.9" stroke-linecap="round"/>
<line x1="527.10" y1="687.74" x2="527.70" y2="687.27" stroke="#361f69" stroke-width="1.9" stroke-linecap="round"/>
<line x1="527.70" y1="687.27" x2="528.30" y2="686.79" stroke="#361f69" stroke-width="1.9" stroke-linecap="round"/>
<line x1="528.30" y1="686.79" x2="528.90" y2="686.31" stroke="#361f69" stroke-width="1.9" stroke-linecap="round"/>
<line x1="528.90" y1="686.31" x2="529.50" y2="685.82" stroke="#371f68" stroke-width="1.9" stroke-linecap="round"/>
<line x1="529.50" y1="685.82" x2="530.10" y2="685.33" stroke="#371e68" stroke-width="1.9" stroke-linecap="round"/>
<line x1="530.10" y1="685.33" x2="530.70" y2="684.83" stroke="#371e67" stroke-width="1.9" stroke-linecap="round"/>
<line x1="530.70" y1="684.83" x2="531.30" y2="684.32" stroke="#381e67" stroke-width="1.9" stroke-linecap="round"/>
<line x1="531.30" y1="684.32" x2="531.90" y2="683.81" stroke="#381d66" stroke-width="1.9" stroke-linecap="round"/>
<line x1="531.90" y1="683.81" x2="532.50" y2="683.29" stroke="#391d66" stroke-width="1.9" stroke-linecap="round"/>
<line x1="532.50" y1="683.29" x2="533.10" y2="682.77" stroke="#391d66" stroke-width="1.9" stroke-linecap="round"/>
<line x1="533.10" y1="682.77" x2="533.70" y2="682.25" stroke="#391d66" stroke-width="1.9" stroke-linecap="round"/>
<line x1="533.70" y1="682.25" x2="534.30" y2="681.71" stroke="#3a1d65" stroke-width="1.9" stroke-linecap="round"/>
<line x1="534.30" y1="681.71" x2="534.90" y2="681.18" stroke="#3a1d65" stroke-width="1.9" stroke-linecap="round"/>
<line x1="534.90" y1="681.18" x2="535.50" y2="680.63" stroke="#3a1d64" stroke-width="1.9" stroke-linecap="round"/>
<line x1="535.50" y1="680.63" x2="536.10" y2="680.08" stroke="#3a1c64" stroke-width="1.9" stroke-linecap="round"/>
<line x1="536.10" y1="680.08" x2="536.70" y2="679.53" stroke="#3a1c63" stroke-width="1.9" stroke-linecap="round"/>
<line x1="536.70" y1="679.53" x2="537.30" y2="678.97" stroke="#3b1c63" stroke-width="1.9" stroke-linecap="round"/>
<line x1="537.30" y1="678.97" x2="537.90" y2="678.40" stroke="#3b1c62" stroke-width="1.9" stroke-linecap="round"/>
<line x1="537.90" y1="678.40" x2="538.50" y2="677.83" stroke="#3c1b62" stroke-width="1.9" stroke-linecap="round"/>
<line x1="538.50" y1="677.83" x2="539.10" y2="677.25" stroke="#3c1b61" stroke-width="1.9" stroke-linecap="round"/>
<line x1="539.10" y1="677.25" x2="539.70" y2="676.67" stroke="#3c1b61" stroke-width="1.9" stroke-linecap="round"/>
<line x1="539.70" y1="676.67" x2="540.30" y2="676.08" stroke="#3d1a60" stroke-width="1.9" stroke-linecap="round"/>
<line x1="540.30" y1="676.08" x2="540.90" y2="675.48" stroke="#3d1a5f" stroke-width="1.9" stroke-linecap="round"/>
<line x1="540.90" y1="675.48" x2="541.50" y2="674.88" stroke="#3e1a5f" stroke-width="1.9" stroke-linecap="round"/>
<line x1="541.50" y1="674.88" x2="542.10" y2="674.27" stroke="#3e1a5f" stroke-width="1.9" stroke-linecap="round"/>
<line x1="542.10" y1="674.27" x2="542.70" y2="673.66" stroke="#3f1a5f" stroke-width="1.9" stroke-linecap="round"/>
<line x1="542.70" y1="673.66" x2="543.30" y2="673.04" stroke="#3f1a5e" stroke-width="1.9" stroke-linecap="round"/>
<line x1="543.30" y1="673.04" x2="543.90" y2="672.41" stroke="#40195f" stroke-width="1.9" stroke-linecap="round"/>
<line x1="543.90" y1="672.41" x2="544.50" y2="671.78" stroke="#40195e" stroke-width="1.9" stroke-linecap="round"/>
<line x1="544.50" y1="671.78" x2="545.10" y2="671.14" stroke="#41195d" stroke-width="1.9" stroke-linecap="round"/>
<line x1="545.10" y1="671.14" x2="545.70" y2="670.49" stroke="#42195d" stroke-width="1.9" stroke-linecap="round"/>
<line x1="545.70" y1="670.49" x2="546.30" y2="669.84" stroke="#42195d" stroke-width="1.9" stroke-linecap="round"/>
<line x1="546.30" y1="669.84" x2="546.90" y2="669.18" stroke="#43195d" stroke-width="1.9" stroke-linecap="round"/>
<line x1="546.90" y1="669.18" x2="547.50" y2="668.52" stroke="#43185c" stroke-width="1.9" stroke-linecap="round"/>
<line x1="547.50" y1="668.52" x2="548.10" y2="667.85" stroke="#44185c" stroke-width="1.9" stroke-linecap="round"/>
<line x1="548.10" y1="667.85" x2="548.70" y2="667.17" stroke="#44185c" stroke-width="1.9" stroke-linecap="round"/>
<line x1="548.70" y1="667.17" x2="549.30" y2="666.49" stroke="#45175b" stroke-width="1.9" stroke-linecap="round"/>
<line x1="549.30" y1="666.49" x2="549.90" y2="665.80" stroke="#45175a" stroke-width="1.9" stroke-linecap="round"/>
<line x1="549.90" y1="665.80" x2="550.50" y2="665.10" stroke="#47175b" stroke-width="1.9" stroke-linecap="round"/>
<line x1="550.50" y1="665.10" x2="551.10" y2="664.40" stroke="#47175a" stroke-width="1.9" stroke-linecap="round"/>
<line x1="551.10" y1="664.40" x2="551.70" y2="663.68" stroke="#481759" stroke-width="1.9" stroke-linecap="round"/>
<line x1="551.70" y1="663.68" x2="552.30" y2="662.97" stroke="#481659" stroke-width="1.9" stroke-linecap="round"/>
<line x1="552.30" y1="662.97" x2="552.90" y2="662.24" stroke="#491659" stroke-width="1.9" stroke-linecap="round"/>
<line x1="552.90" y1="662.24" x2="553.50" y2="661.51" stroke="#4a1658" stroke-width="1.9" stroke-linecap="round"/>
<line x1="553.50" y1="661.51" x2="554.10" y2="660.77" stroke="#4a1558" stroke-width="1.9" stroke-linecap="round"/>
<line x1="554.10" y1="660.77" x2="554.70" y2="660.03" stroke="#4b1657" stroke-width="1.9" stroke-linecap="round"/>
<line x1="554.70" y1="660.03" x2="555.30" y2="659.27" stroke="#4c1557" stroke-width="1.9" stroke-linecap="round"/>
<line x1="555.30" y1="659.27" x2="555.90" y2="658.51" stroke="#4d1557" stroke-width="1.9" stroke-linecap="round"/>
<line x1="555.90" y1="658.51" x2="556.50" y2="657.75" stroke="#4d1456" stroke-width="1.9" stroke-linecap="round"/>
<line x1="556.50" y1="657.75" x2="557.10" y2="656.97" stroke="#4e1456" stroke-width="1.9" stroke-linecap="round"/>
<line x1="557.10" y1="656.97" x2="557.70" y2="656.19" stroke="#4f1456" stroke-width="1.9" stroke-linecap="round"/>
<line x1="557.70" y1="656.19" x2="558.30" y2="655.40" stroke="#501456" stroke-width="1.9" stroke-linecap="round"/>
<line x1="558.30" y1="655.40" x2="558.90" y2="654.60" stroke="#521456" stroke-width="1.9" stroke-linecap="round"/>
<line x1="558.90" y1="654.60" x2="559.50" y2="653.80" stroke="#531456" stroke-width="1.9" stroke-linecap="round"/>
<line x1="559.50" y1="653.80" x2="560.10" y2="652.99" stroke="#531457" stroke-width="1.9" stroke-linecap="round"/>
<line x1="560.10" y1="652.99" x2="560.70" y2="652.17" stroke="#541456" stroke-width="1.9" stroke-linecap="round"/>
<line x1="560.70" y1="652.17" x2="561.30" y2="651.34" stroke="#551356" stroke-width="1.9" stroke-linecap="round"/>
<line x1="561.30" y1="651.34" x2="561.90" y2="650.50" stroke="#561356" stroke-width="1.9" stroke-linecap="round"/>
<line x1="561.90" y1="650.50" x2="562.50" y2="649.66" stroke="#581357" stroke-width="1.9" stroke-linecap="round"/>
<line x1="562.50" y1="649.66" x2="563.10" y2="648.81" stroke="#591357" stroke-width="1.9" stroke-linecap="round"/>
<line x1="563.10" y1="648.81" x2="563.70" y2="647.95" stroke="#5a1257" stroke-width="1.9" stroke-linecap="round"/>
<line x1="563.70" y1="647.95" x2="564.30" y2="647.08" stroke="#5b1257" stroke-width="1.9" stroke-linecap="round"/>
<line x1="564.30" y1="647.08" x2="564.90" y2="646.20" stroke="#5c1258" stroke-width="1.9" stroke-linecap="round"/>
<line x1="564.90" y1="646.20" x2="565.50" y2="645.32" stroke="#5e1258" stroke-width="1.9" stroke-linecap="round"/>
<line x1="565.50" y1="645.32" x2="566.10" y2="644.43" stroke="#601257" stroke-width="1.9" stroke-linecap="round"/>
<line x1="566.10" y1="644.43" x2="566.70" y2="643.52" stroke="#611257" stroke-width="1.9" stroke-linecap="round"/>
<line x1="566.70" y1="643.52" x2="567.30" y2="642.61" stroke="#621258" stroke-width="1.9" stroke-linecap="round"/>
<line x1="567.30" y1="642.61" x2="567.90" y2="641.70" stroke="#641158" stroke-width="1.9" stroke-linecap="round"/>
<line x1="567.90" y1="641.70" x2="568.50" y2="640.77" stroke="#651158" stroke-width="1.9" stroke-linecap="round"/>
<line x1="568.50" y1="640.77" x2="569.10" y2="639.83" stroke="#661158" stroke-width="1.9" stroke-linecap="round"/>
<line x1="569.10" y1="639.83" x2="569.70" y2="638.89" stroke="#681059" stroke-width="1.9" stroke-linecap="round"/>
<line x1="569.70" y1="638.89" x2="570.30" y2="637.93" stroke="#691059" stroke-width="1.9" stroke-linecap="round"/>
<line x1="570.30" y1="637.93" x2="570.90" y2="636.97" stroke="#6a1059" stroke-width="1.9" stroke-linecap="round"/>
<line x1="570.90" y1="636.97" x2="571.50" y2="636.00" stroke="#6c1159" stroke-width="1.9" stroke-linecap="round"/>
<line x1="571.50" y1="636.00" x2="572.10" y2="635.02" stroke="#6e1059" stroke-width="1.9" stroke-linecap="round"/>
<line x1="572.10" y1="635.02" x2="572.70" y2="634.03" stroke="#6f1059" stroke-width="1.9" stroke-linecap="round"/>
<line x1="572.70" y1="634.03" x2="573.30" y2="633.03" stroke="#701059" stroke-width="1.9" stroke-linecap="round"/>
<line x1="573.30" y1="633.03" x2="573.90" y2="632.02" stroke="#710f59" stroke-width="1.9" stroke-linecap="round"/>
<line x1="573.90" y1="632.02" x2="574.50" y2="631.00" stroke="#720f59" stroke-width="1.9" stroke-linecap="round"/>
<line x1="574.50" y1="631.00" x2="575.10" y2="629.97" stroke="#730f59" stroke-width="1.9" stroke-linecap="round"/>
<line x1="575.10" y1="629.97" x2="575.70" y2="628.93" stroke="#750e59" stroke-width="1.9" stroke-linecap="round"/>
<line x1="575.70" y1="628.93" x2="576.30" y2="627.88" stroke="#760e58" stroke-width="1.9" stroke-linecap="round"/>
<line x1="576.30" y1="627.88" x2="576.90" y2="626.82" stroke="#770e58" stroke-width="1.3" stroke-linecap="round"/>
<line x1="576.90" y1="626.82" x2="577.50" y2="625.75" stroke="#780d58" stroke-width="1.3" stroke-linecap="round"/>
<line x1="577.50" y1="625.75" x2="578.10" y2="624.67" stroke="#7a0d58" stroke-width="1.3" stroke-linecap="round"/>
<line x1="578.10" y1="624.67" x2="578.70" y2="623.58" stroke="#7b0d58" stroke-width="1.3" stroke-linecap="round"/>
<line x1="578.70" y1="623.58" x2="579.30" y2="622.48" stroke="#7c0d58" stroke-width="1.3" stroke-linecap="round"/>
<line x1="579.30" y1="622.48" x2="579.90" y2="621.37" stroke="#7d0d58" stroke-width="1.3" stroke-linecap="round"/>
<line x1="579.90" y1="621.37" x2="580.50" y2="620.25" stroke="#7f0d58" stroke-width="1.3" stroke-linecap="round"/>
<line x1="580.50" y1="620.25" x2="581.10" y2="619.12" stroke="#800d58" stroke-width="1.3" stroke-linecap="round"/>
<line x1="581.10" y1="619.12" x2="581.70" y2="617.97" stroke="#810d58" stroke-width="1.3" stroke-linecap="round"/>
<circle cx="582.50" cy="616.43" r="0.85" fill="#840f58"/>
<circle cx="583.60" cy="614.28" r="0.85" fill="#860f58"/>
<circle cx="584.70" cy="612.08" r="0.85" fill="#880f58"/>
<circle cx="585.80" cy="609.85" r="0.85" fill="#8b0f58"/>
<circle cx="586.90" cy="607.58" r="0.85" fill="#8e0f58"/>
<circle cx="588.00" cy="605.27" r="0.85" fill="#900f58"/>
<circle cx="590.20" cy="600.51" r="0.85" fill="#960f58"/>
<circle cx="591.30" cy="598.07" r="0.85" fill="#980e58"/>
<circle cx="592.40" cy="595.58" r="0.85" fill="#9b0e58"/>
<circle cx="594.60" cy="590.46" r="0.85" fill="#a10e58"/>
<circle cx="596.80" cy="585.16" r="0.85" fill="#a60f57"/>
<circle cx="597.90" cy="582.43" r="0.85" fill="#a81056"/>
<circle cx="584.60" cy="613.30" r="0.9" fill="#870f58"/>
<circle cx="587.40" cy="606.00" r="0.9" fill="#8f0f58"/>
<circle cx="588.60" cy="603.60" r="0.9" fill="#920f58"/>
<circle cx="590.30" cy="601.20" r="0.9" fill="#950f58"/>
<circle cx="592.20" cy="595.60" r="0.9" fill="#9b0e58"/>
<circle cx="593.20" cy="594.80" r="0.9" fill="#9c0e58"/>
<circle cx="595.10" cy="588.30" r="0.9" fill="#a30f57"/>
<circle cx="595.90" cy="586.70" r="0.9" fill="#a40f57"/>
<circle cx="596.80" cy="585.00" r="0.9" fill="#a60f57"/>
<circle cx="597.50" cy="583.50" r="0.9" fill="#a70f56"/>
<circle cx="598.30" cy="581.10" r="0.9" fill="#aa1056"/>
<circle cx="599.60" cy="579.50" r="0.9" fill="#ab1055"/>
<circle cx="601.20" cy="577.00" r="0.9" fill="#ae1155"/>
<circle cx="602.30" cy="573.80" r="0.9" fill="#b11154"/>
<circle cx="604.70" cy="567.40" r="0.9" fill="#b71252"/>
<circle cx="607.60" cy="560.90" r="0.9" fill="#bd1351"/>
<circle cx="613.60" cy="540.80" r="0.9" fill="#cd1748"/>
<circle cx="626.00" cy="486.30" r="0.9" fill="#e41834"/>
<text xml:space="preserve" transform="translate(607.60,484.60) scale(0.95,1)" x="0" y="0" font-size="5.9" text-anchor="start" font-weight="bold" font-style="normal" fill="#dc2242" stroke="#dc2242" style="stroke-width:0.000px" >LINC01645</text>
<text xml:space="preserve" transform="translate(599.50,547.10) scale(0.95,1)" x="0" y="0" font-size="5.9" text-anchor="start" font-weight="bold" font-style="normal" fill="#cc2650" stroke="#cc2650" style="stroke-width:0.000px" >PTPRG</text>
<text xml:space="preserve" transform="translate(605.60,559.30) scale(0.95,1)" x="0" y="0" font-size="5.9" text-anchor="start" font-weight="bold" font-style="normal" fill="#c82856" stroke="#c82856" style="stroke-width:0.000px" >MPO</text>
<text xml:space="preserve" transform="translate(588.60,566.10) scale(0.95,1)" x="0" y="0" font-size="5.9" text-anchor="start" font-weight="bold" font-style="normal" fill="#c82856" stroke="#c82856" style="stroke-width:0.000px" >CALR</text>
<text xml:space="preserve" transform="translate(607.00,566.60) scale(0.95,1)" x="0" y="0" font-size="5.9" text-anchor="start" font-weight="bold" font-style="normal" fill="#c82856" stroke="#c82856" style="stroke-width:0.000px" >MIR100HG</text>
<text xml:space="preserve" transform="translate(604.70,573.30) scale(0.95,1)" x="0" y="0" font-size="5.9" text-anchor="start" font-weight="bold" font-style="normal" fill="#c42a58" stroke="#c42a58" style="stroke-width:0.000px" >BRINP2</text>
<text xml:space="preserve" transform="translate(582.20,576.80) scale(0.95,1)" x="0" y="0" font-size="5.9" text-anchor="start" font-weight="bold" font-style="normal" fill="#c42a58" stroke="#c42a58" style="stroke-width:0.000px" >RFLNA</text>
<text xml:space="preserve" transform="translate(603.20,580.30) scale(0.95,1)" x="0" y="0" font-size="5.9" text-anchor="start" font-weight="bold" font-style="normal" fill="#c42a58" stroke="#c42a58" style="stroke-width:0.000px" >GPR153</text>
<text xml:space="preserve" transform="translate(601.20,586.80) scale(0.95,1)" x="0" y="0" font-size="5.9" text-anchor="start" font-weight="bold" font-style="normal" fill="#c42a58" stroke="#c42a58" style="stroke-width:0.000px" >COCH</text>
<text xml:space="preserve" transform="translate(341.10,692.40) scale(0.94,1)" x="0" y="0" font-size="5.9" text-anchor="start" font-weight="bold" font-style="normal" fill="#4b3088" stroke="#4b3088" style="stroke-width:0.000px" >MEF2C</text>
<text xml:space="preserve" transform="translate(363.00,694.60) scale(0.94,1)" x="0" y="0" font-size="5.9" text-anchor="start" font-weight="bold" font-style="normal" fill="#4b3088" stroke="#4b3088" style="stroke-width:0.000px" >AKAP7</text>
<text xml:space="preserve" transform="translate(646.80,583.50) scale(0.97,1)" x="0" y="0" font-size="5.9" text-anchor="start" font-weight="bold" font-style="normal" fill="#000" stroke="#000" style="stroke-width:0.000px" >−log10(padj)</text>
<defs><linearGradient id="cb" x1="0" y1="1" x2="0" y2="0"><stop offset="0.000" stop-color="#2c3e90"/><stop offset="0.050" stop-color="#303a8b"/><stop offset="0.100" stop-color="#383181"/><stop offset="0.150" stop-color="#3f2976"/><stop offset="0.200" stop-color="#48236b"/><stop offset="0.250" stop-color="#511c60"/><stop offset="0.300" stop-color="#5c185b"/><stop offset="0.350" stop-color="#6a145a"/><stop offset="0.400" stop-color="#781158"/><stop offset="0.450" stop-color="#850f58"/><stop offset="0.500" stop-color="#920f58"/><stop offset="0.550" stop-color="#9f0e58"/><stop offset="0.600" stop-color="#aa1055"/><stop offset="0.650" stop-color="#b61253"/><stop offset="0.700" stop-color="#c01450"/><stop offset="0.750" stop-color="#c9164a"/><stop offset="0.800" stop-color="#d21844"/><stop offset="0.850" stop-color="#d91a3f"/><stop offset="0.900" stop-color="#dd193b"/><stop offset="0.950" stop-color="#e01938"/><stop offset="1.000" stop-color="#e41834"/></linearGradient></defs>
<rect x="646.80" y="585.90" width="7.00" height="35.80" fill="url(#cb)" stroke="none" stroke-width="1"/>
<line x1="646.80" y1="590.50" x2="648.20" y2="590.50" stroke="#fff" stroke-width="0.5" />
<line x1="652.40" y1="590.50" x2="653.80" y2="590.50" stroke="#fff" stroke-width="0.5" />
<text xml:space="preserve" transform="translate(655.80,592.60) scale(0.95,1)" x="0" y="0" font-size="5.7" text-anchor="start" font-weight="bold" font-style="normal" fill="#000" stroke="#000" style="stroke-width:0.000px" >15</text>
<line x1="646.80" y1="600.60" x2="648.20" y2="600.60" stroke="#fff" stroke-width="0.5" />
<line x1="652.40" y1="600.60" x2="653.80" y2="600.60" stroke="#fff" stroke-width="0.5" />
<text xml:space="preserve" transform="translate(655.80,602.70) scale(0.95,1)" x="0" y="0" font-size="5.7" text-anchor="start" font-weight="bold" font-style="normal" fill="#000" stroke="#000" style="stroke-width:0.000px" >10</text>
<line x1="646.80" y1="610.70" x2="648.20" y2="610.70" stroke="#fff" stroke-width="0.5" />
<line x1="652.40" y1="610.70" x2="653.80" y2="610.70" stroke="#fff" stroke-width="0.5" />
<text xml:space="preserve" transform="translate(655.80,612.80) scale(0.95,1)" x="0" y="0" font-size="5.7" text-anchor="start" font-weight="bold" font-style="normal" fill="#000" stroke="#000" style="stroke-width:0.000px" >5</text>
</svg></body></html>
